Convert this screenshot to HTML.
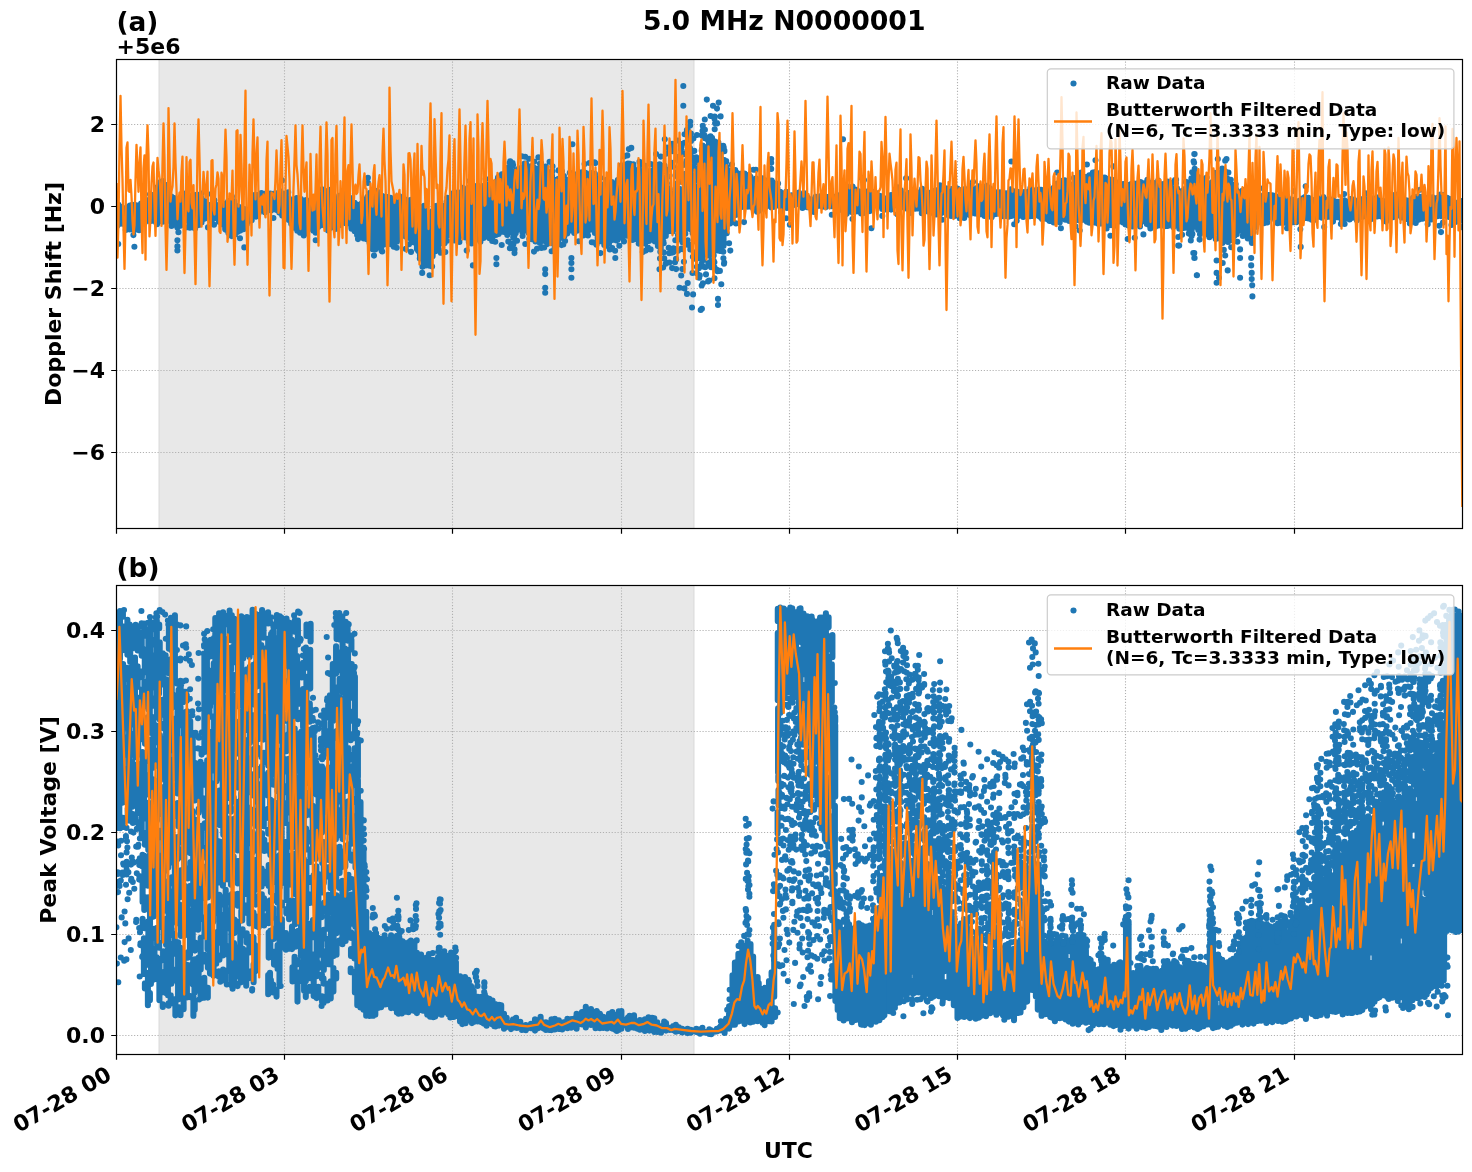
<!DOCTYPE html>
<html><head><meta charset="utf-8"><title>5.0 MHz N0000001</title>
<style>html,body{margin:0;padding:0;background:#fff;overflow:hidden}svg{display:block}text{font-family:"DejaVu Sans","Liberation Sans",sans-serif;font-weight:bold;fill:#000}</style>
</head><body>
<svg width="1472" height="1172" viewBox="0 0 1472 1172">
<rect width="1472" height="1172" fill="#fff"/>
<defs><clipPath id="ca"><rect x="116.5" y="59.5" width="1346.0" height="469.0"/></clipPath>
<clipPath id="cb"><rect x="116.5" y="585.5" width="1346.0" height="469.0"/></clipPath></defs>
<rect x="159.1" y="59.5" width="534.8" height="469.0" fill="#e8e8e8"/>
<path d="M159.1 59.5V528.5M693.9 59.5V528.5" stroke="#dcdcdc" stroke-width="1.2" fill="none"/>
<rect x="159.1" y="585.5" width="534.8" height="469.0" fill="#e8e8e8"/>
<path d="M159.1 585.5V1054.5M693.9 585.5V1054.5" stroke="#dcdcdc" stroke-width="1.2" fill="none"/>
<path d="M284.5 528.5V59.5M452.5 528.5V59.5M621.5 528.5V59.5M789.5 528.5V59.5M957.5 528.5V59.5M1125.5 528.5V59.5M1294.5 528.5V59.5M284.5 1054.5V585.5M452.5 1054.5V585.5M621.5 1054.5V585.5M789.5 1054.5V585.5M957.5 1054.5V585.5M1125.5 1054.5V585.5M1294.5 1054.5V585.5M116.5 124.5H1462.5M116.5 206.5H1462.5M116.5 288.5H1462.5M116.5 370.5H1462.5M116.5 452.5H1462.5M116.5 1035.5H1462.5M116.5 934.5H1462.5M116.5 832.5H1462.5M116.5 731.5H1462.5M116.5 630.5H1462.5" stroke="#b0b0b0" stroke-width="1.1" stroke-dasharray="1.15 1.78" fill="none"/>
<g clip-path="url(#ca)"><path d="M117.1 207.6V226M118.2 204.5h0M118.2 244h0M120.7 207.2V223.8M121.4 206.9h0M123.9 208.7V224.1M122.7 208.5h0M126.8 207.6V227.6M127.2 207.2h0M125.8 230h0M129.9 205.6V229.5M132.5 204.9V229M135.3 205.1V229.8M138.4 205.4V227.7M139.1 230.2h0M141.1 203.6V224.6M144.8 203.2V222.6M144.6 201.7h0M147.7 202.9V218.7M147.7 220.6h0M150 198.7V221.3M150 194.3h0M153.1 195V220.4M153.3 220.7h0M156.4 187.5V223M157 224.2h0M159.1 182.6V220.9M162.8 181V221.8M165.3 184.7V219.8M169 193.1V220.8M168.8 188.3h0M171.3 196.6V222.7M171.5 225.9h0M174.7 198.8V224.6M174.1 198.1h0M177.4 201.7V227.4M178.4 232.2h0M180.6 198.8V224M180.4 225.7h0M183.3 194.9V219.8M183 193.3h0M186.1 194.6V220.1M186.5 227.2h0M189.4 195.8V223.3M189.9 227.7h0M192.1 196.1V225.1M193.2 227.6h0M195.5 195.1V226.7M195.1 228.5h0M198.4 196.3V224.2M198.8 194.7h0M198.8 224.9h0M201.5 198.2V222.5M201.3 193.5h0M204.9 201.1V218.6M207.7 204.7V216.1M208 227.4h0M210.9 205V217.6M211.4 194h0M211.5 221.2h0M213 205.1V219.1M214.4 200.3h0M214 224.7h0M216.3 205.2V218.1M215.6 205.1h0M219.2 204.8V221.4M218.9 221.8h0M222.8 205.4V224.5M225.2 203.7V229.3M225.8 229.8h0M228.4 201V232.9M228.9 233.1h0M231.5 199.8V233.3M231.9 196.5h0M234.3 201.2V231.8M235 234.4h0M237.4 206.4V231.9M240.3 207.4V230.6M240 238.2h0M243.5 208.8V229.2M244.3 247.4h0M246.7 210.1V224.2M249.7 209.3V220.8M252.7 202.3V216.8M253 201.5h0M251.7 220.3h0M255.2 194.8V215.7M256.2 216.6h0M258.8 194.8V212.8M261.4 193V210.2M264.8 193.8V212.2M267 195.8V209.8M267.7 193.6h0M271 194.9V210.4M270.3 193.6h0M273.4 193.7V209.3M273.4 218h0M276.6 193.2V210M279.2 192.8V209.5M280.3 191.3h0M279.3 212.6h0M282.3 193.5V211.6M281.9 180.4h0M282.2 215.6h0M285.8 196V216.4M285.2 193.9h0M285.1 217.8h0M288.8 198.1V220M288.2 192.2h0M291.2 200.8V223.7M294 199.6V227.8M297.9 198.2V228.1M296.8 198h0M297.3 230.8h0M300.9 199V230.9M300 198.6h0M300.1 232.8h0M303.7 201.1V229.6M303.8 235.4h0M306.2 200V229.7M305.8 233.7h0M309.7 201.1V227.2M312.9 199.4V229.9M313 199.3h0M313.4 230.7h0M315.7 196.9V232.8M318.2 196.5V227M318.1 195.6h0M321.1 194.7V225.2M321.9 189.2h0M324.9 192.6V224.3M324.9 190.8h0M327.5 194.2V228.1M328.1 230.6h0M330.1 197.6V227.9M330.3 189.9h0M333.8 199.8V226.5M336.7 199.1V222.9M335.6 228.9h0M339.1 195.9V221.9M340.1 225h0M342.7 195.3V218.9M345.3 193.2V221.4M346.3 190.2h0M345.6 223.2h0M348.2 195.5V223.2M348.1 193.5h0M351.4 201.1V228.3M351.9 198.2h0M351.5 228.8h0M355 203.3V230.8M354.6 202.9h0M354.7 231.2h0M357.1 204.7V235M358 239.1h0M360.6 204.5V236.8M361.2 203.8h0M363.7 201.7V238.5M364 200.8h0M366.4 198.9V238.6M367.5 196.9h0M366.9 239.3h0M369.6 196.5V243.1M370.1 192.9h0M372.7 195.1V249.2M375.2 191.7V249.4M376.4 191.1h0M378.5 195.9V247.5M378.1 192.1h0M381.3 197.4V247.4M382.4 196.1h0M381.6 250.7h0M384 198.3V244.5M387.2 197.1V241.9M390.5 197.7V242.7M390.3 244.1h0M393 199V242.4M393.8 246.8h0M396.9 199.5V241.7M395.8 197.6h0M396.7 247.7h0M399.4 196.2V238.8M398.7 240h0M402.9 201.5V234.8M403 202.3h0M405.6 202.3V236.6M406.2 199.9h0M405.8 200.5h0M404.8 203.9h0M405.8 248.9h0M408.3 202.1V237.6M408.3 200.8h0M408.1 204h0M407.6 203.8h0M408.3 202.1h0M409 244.3h0M411.4 204.3V239.7M411.1 199.9h0M411.4 205.2h0M411 251.9h0M414.2 203.3V242.5M417 209.9V249.2M418.3 251h0M420 212.3V256M421.1 212.1h0M420.1 211.9h0M420.1 211.3h0M419.8 258.5h0M423.9 213.5V258.2M424.1 205.8h0M422.7 206.8h0M424.3 258.8h0M423.7 262.6h0M422.5 266.7h0M426.6 213V260.4M426.4 211h0M426.9 215.1h0M426.8 261.5h0M425.7 261.8h0M425.9 265.5h0M427.4 263.6h0M429.8 213.9V261.1M429.3 212.9h0M429.7 262.3h0M430.2 263.5h0M429.5 265.8h0M432.6 212.2V256.2M432.7 211h0M432.1 266.5h0M435.8 212.7V249.1M435.4 206.1h0M435.6 213.5h0M435.7 213h0M435.4 251.2h0M438.1 209.3V243.5M439.1 204.9h0M438.3 246.3h0M438.8 249.5h0M441.1 208.3V240.9M441.3 206h0M440.9 243.3h0M440.8 252.8h0M444.1 205.7V238.9M444.2 206.4h0M443.7 206.5h0M444.4 241h0M444.6 243.3h0M445.3 252h0M447.7 202.3V235.4M447.3 197.8h0M447.9 201.4h0M447.4 203.4h0M448 203.6h0M446.6 201.9h0M447.1 240.8h0M450.3 199.6V234.2M450.1 200.9h0M453 198.2V234.7M453.5 193h0M453.8 193.3h0M453.4 196.4h0M454.3 240.5h0M456.9 194.7V232.2M457.5 192.6h0M455.6 234.8h0M456.3 232.8h0M455.9 232.8h0M457.3 235.2h0M459.2 192.5V233.1M458.5 238.9h0M459.4 242h0M462.5 191.8V235.5M463 187.7h0M465.5 189.5V236.8M466.1 189.1h0M465.4 237.5h0M468.6 187.8V238M469.5 181h0M468.8 241.9h0M471.6 185.5V235.7M472.1 188h0M472.1 236h0M470.7 240.5h0M472.1 240h0M471.6 243.4h0M474.4 187.1V237.9M475.4 187.9h0M473.9 238.6h0M477.5 185.6V237.1M477.2 186h0M478.2 186.7h0M476.7 239.2h0M480.3 187.7V236.8M479.6 237.5h0M480.1 238.5h0M480.4 241.7h0M483.6 188.4V238M483.9 185.8h0M484.4 188.3h0M483.8 188.8h0M482.7 189.7h0M482.9 190.4h0M486 188.2V236.3M485.7 179h0M486.9 184.6h0M485.8 236.5h0M489.5 188.6V238.2M488.6 187.5h0M490.3 188.5h0M490 190h0M490.4 238.3h0M492.4 187.9V237.2M492.2 186.5h0M491.6 188.6h0M492.6 188.4h0M491.7 239h0M492.2 241h0M495 182.8V234.3M495.9 234.9h0M495.3 241.8h0M498 177.6V231.8M499.1 176.3h0M497.7 233.2h0M498.6 233.9h0M501.9 174.4V231.7M501.7 245h0M504.4 173.8V232.1M507.8 172.7V232.8M507.9 167.9h0M507.2 171.2h0M507.3 235h0M507.4 234.2h0M508.3 241.6h0M510.4 173.2V232.2M510.2 161.2h0M509.7 162.7h0M511.1 170.2h0M510.6 170.6h0M511 243.9h0M509.9 248.3h0M513.9 172.9V233M512.6 163h0M513.1 165h0M514.3 172.5h0M513.3 238h0M514.3 237.1h0M513.2 237.2h0M513.4 243.9h0M516.3 170.7V230.9M516.3 170h0M515.7 233.3h0M517 240.8h0M519.1 168.2V228.8M523 168.3V227.1M521.8 156.3h0M523.5 167.2h0M522.3 232h0M522.6 236h0M525.8 165.6V226.6M525.2 156.8h0M526.1 163.9h0M524.6 163.6h0M526.3 230.5h0M525.3 244h0M528.8 167.5V231.4M529.1 158.7h0M528.4 232.8h0M529.3 239.1h0M531.1 168.8V233.2M530.8 166.3h0M532.1 235.5h0M531.9 239.2h0M534.1 168V236.3M534.2 161.8h0M534.1 167.8h0M535.5 241.5h0M534 251.6h0M537.6 168.8V237M538.4 157.4h0M537 239.7h0M537 248.8h0M540.2 168.1V238.1M541.1 163.3h0M540 163.8h0M540.2 168.5h0M540.6 169.9h0M540.5 238.2h0M539.9 243h0M541.4 247.9h0M543.1 169.2V239.8M542.9 170.6h0M544.5 240.9h0M544.2 247.4h0M546.7 170.9V240.4M545.8 166.6h0M547.1 171.3h0M545.5 241.4h0M547.2 244.1h0M549.6 174.8V243M549.6 161.7h0M552 175.6V243.3M552.5 166.4h0M552.4 171.4h0M551.6 175.2h0M551.6 251.3h0M555.2 180.4V243.6M554.8 179.9h0M555.7 245.1h0M554.7 247.7h0M555.7 247.4h0M558.3 180.4V240.5M558.6 170.4h0M558.5 178.7h0M562 183.6V237.6M561.9 171.2h0M561.8 178.5h0M561.6 245.1h0M564.4 184.6V236M563.9 176h0M564 182.2h0M564.8 182.1h0M563.6 182.4h0M565.1 241h0M567.2 181.4V233.5M568.4 180h0M568.4 179.7h0M567.1 182.5h0M567.1 183.3h0M570 182.4V230.5M569.8 172.8h0M573.7 182V231.5M574.3 174.3h0M574.3 232.9h0M576.3 179.8V230M576.6 177.1h0M577 230.7h0M575.6 231.3h0M579.2 177.1V227.5M578.6 176.5h0M578.5 178.1h0M578.7 241.2h0M582.4 174.7V226.1M582.8 173.9h0M581.6 172.4h0M583.5 176.1h0M583.3 227.2h0M583.3 227.6h0M582.5 230.8h0M583.3 235.5h0M585.1 172.9V224.1M584.6 164h0M585.4 172.7h0M585.2 229.8h0M588.8 174.7V226.4M589.4 163h0M588.5 175.5h0M589.3 228.8h0M587.7 231.4h0M588 235.5h0M591.1 172.9V228.6M591 173.2h0M591.9 173.8h0M591.4 173.4h0M591.9 229.5h0M591.8 242.3h0M594.9 173.8V233M594.5 162.3h0M595.3 163.1h0M593.7 242.5h0M597.7 180.8V238.2M598.2 240.8h0M596.6 243.8h0M596.5 244.7h0M600.2 186.7V241.3M600.5 178.1h0M600.7 184.4h0M601 186.1h0M604 190.9V241.4M604.4 184.7h0M603.7 188.8h0M603.3 191.5h0M603.5 190.9h0M604.3 244.9h0M606.8 190.1V241M606.5 179.9h0M605.6 182.8h0M606.7 189.7h0M607.4 192.5h0M606.3 245.7h0M609.3 188.9V239.7M610.4 185.1h0M609.5 188.4h0M609.1 243.3h0M609.8 249.4h0M612.1 186.2V236.6M611.8 182.1h0M613.3 184.6h0M611.8 187.5h0M612.6 238.5h0M612.2 240h0M612.2 248h0M615.2 183.6V237.5M616.2 239h0M616 239.1h0M616.4 240.5h0M615.1 250.7h0M618.5 181.1V234.8M619.2 182h0M617.8 180.1h0M617.6 239.8h0M619.3 245.8h0M621.2 175V233.3M621.6 165.4h0M622 171.2h0M622.2 174.5h0M622.1 235.9h0M621 234.6h0M621.7 237.4h0M622.1 237.3h0M624.9 169.2V233M624.2 156.4h0M625.4 164.9h0M624.5 167.2h0M625.2 233.9h0M624 241.4h0M627.5 164.6V229.3M627.3 155.4h0M628 163.5h0M627.2 231.3h0M627 235.8h0M630 163.7V229.9M633.3 164.3V232.7M633.2 234.7h0M632.5 239.9h0M636.5 170.4V234.2M635.8 238.9h0M639.5 174.3V237.5M639.5 161.9h0M639.2 169.9h0M639 240.2h0M638.7 243.6h0M642.4 174.4V242.9M641.8 164.7h0M642.8 252.1h0M645.1 175.1V243.6M645.1 165.7h0M646.1 170h0M645.8 250.6h0M649 172.7V241M648.6 173h0M647.9 247.5h0M651.2 173.1V238.7M650.8 164.1h0M651.4 171.1h0M651.5 175.9h0M651.3 174.6h0M650.5 173.5h0M650.6 249.4h0M654.7 171.8V237.6M655.3 164.8h0M654.8 166.4h0M654.2 166.1h0M655.3 172.3h0M654.8 240h0M654.9 241.5h0M654.5 241.1h0M657.3 170.5V241.5M658 168.9h0M657.7 170.7h0M657.9 246.1h0M660.7 167.3V249M660.8 156.6h0M659.6 164.4h0M660.3 251.8h0M660 258.5h0M659.5 269.2h0M663.5 195.4V224.1M664.4 165.5h0M664.4 166.3h0M663.5 177.9h0M663.8 184.1h0M663.8 186.3h0M663.7 229.1h0M663.1 227.7h0M663.3 241.3h0M663.7 243.3h0M663.6 252.4h0M664.2 258.4h0M663.1 267.5h0M666.5 195.9V225.8M667.1 147.5h0M666.1 153.7h0M665.6 169.1h0M666.1 172.1h0M667.4 177h0M666.3 181.2h0M666.9 183.3h0M666.7 186.9h0M666.9 189.9h0M666.1 192.9h0M665.8 193.5h0M667.5 196.3h0M667.2 196.2h0M665.9 228.2h0M665.9 230.2h0M666.5 232.5h0M665.8 235.9h0M665.7 263.8h0M667.1 262.8h0M669.5 197.3V227.8M669.1 151h0M668.8 176.5h0M669.6 188.7h0M669.8 189.7h0M669.1 190.3h0M668.6 195.1h0M668.9 196.2h0M669.8 197.2h0M669.3 231h0M668.7 247.7h0M669.2 253.2h0M669.4 262.5h0M672.5 194.6V226.7M672.3 143.8h0M673.3 146h0M672.5 144.5h0M672.4 151.3h0M672.1 162.7h0M673.1 166.8h0M672.7 229.7h0M672.8 231.5h0M673.5 248.2h0M673.2 252.3h0M672 252.7h0M672.1 268.1h0M675.5 192.8V227.4M676.2 172.3h0M675.4 175.5h0M676.2 183.9h0M676.2 188.6h0M676.2 193.9h0M675 194h0M674.7 194.2h0M675.3 240.3h0M674.7 248.8h0M675.2 250.1h0M676.1 259.5h0M676 258.7h0M675 262.3h0M676.1 269.1h0M678.5 190.1V227M677.9 140.5h0M677.9 157.1h0M678 160.4h0M677.8 177h0M678.8 180.9h0M678.1 182.7h0M679 188.8h0M678.3 227.8h0M678.4 229.8h0M679.5 232.1h0M678 235.3h0M678.8 234.3h0M679.2 233h0M678.3 239.3h0M678.1 250.7h0M681.5 189.6V227.3M680.9 143.8h0M681.6 146.6h0M680.9 146.1h0M681 149.3h0M682.5 153.6h0M681.2 163.8h0M680.9 180.5h0M681.7 228.2h0M680.6 233.1h0M680.9 235.3h0M682.5 237.4h0M682.5 242.2h0M681.5 248.6h0M682.2 249.1h0M682.3 269.1h0M681.2 275.5h0M684.5 190V228.9M684.6 134.3h0M684.6 142.8h0M684.3 154.3h0M683.6 164.9h0M684.1 174.3h0M685.4 173.9h0M685.3 176.9h0M685.4 181.3h0M684 180.4h0M685.3 185.9h0M684.9 189.9h0M684.2 191h0M685.4 190h0M683.8 229.9h0M684 234.4h0M685.3 233.7h0M683.9 261.7h0M684.5 288.4h0M687.5 188.2V228.4M686.9 130h0M687.8 130.5h0M687.5 135.2h0M687.6 135.7h0M688.2 136.9h0M687.3 150.8h0M687 162.7h0M686.5 160.9h0M688.4 167.4h0M687.7 175.4h0M687.3 175.7h0M687.6 187.1h0M687.7 240.3h0M688.2 245h0M687.7 283.1h0M690.5 188.7V229.3M690.2 121.8h0M690.1 125.6h0M690.9 133.5h0M691.3 138.4h0M691 140.9h0M690 148.4h0M690.7 153.3h0M691.5 159.2h0M690.1 168.1h0M691.1 170.3h0M690.9 169.6h0M690.1 172.1h0M690.7 172.7h0M690.9 174.9h0M691.5 188h0M689.8 244.7h0M690.3 249.4h0M693.5 190.9V231.6M693.4 138.5h0M694.3 150.9h0M693 157.5h0M693.5 160.3h0M692.7 160.5h0M693.4 166.2h0M693.2 175.5h0M694.4 175.9h0M693.5 179.3h0M693.3 182.8h0M693.3 184.6h0M693.6 231.8h0M692.6 232.9h0M693.6 234.8h0M693.8 252.4h0M693.8 252.9h0M692.9 256.7h0M692.5 273h0M693.1 294.4h0M696.5 192.2V232.5M696.9 135h0M696.3 157.3h0M696.7 161.9h0M697 169.3h0M697.1 170.7h0M697.1 173.1h0M695.6 177.7h0M696.4 180.1h0M696.8 179.5h0M696.6 179.7h0M697.1 186.9h0M695.5 191h0M696.5 233.3h0M695.6 236.9h0M695.7 241.4h0M697.1 253.7h0M696 259.1h0M696.3 257.7h0M696.9 266.8h0M696.7 273.2h0M699.5 158.9V258.3M700.1 258.4h0M698.6 266.8h0M698.8 268.2h0M699.8 275.4h0M699.2 277.7h0M702.5 153.7V256.5M702.8 125.9h0M703.2 129.4h0M702.5 131.1h0M702.6 135.9h0M702 135.4h0M702.6 145.5h0M702.9 146.7h0M703 147h0M703.3 149h0M701.7 150.8h0M701.9 149.4h0M703.2 153.2h0M702.7 258.7h0M703 260.2h0M701.6 263.7h0M703.1 266.6h0M702.9 283.2h0M701.7 285.5h0M705.5 148.5V253.7M704.8 119.5h0M704.9 129.7h0M704.6 136.2h0M704.6 135.6h0M704.9 138.3h0M706.2 147h0M705.8 254.1h0M705.2 267.3h0M706 274.4h0M708.5 145.5V252.6M707.6 139.6h0M709.4 142.6h0M708.8 141.9h0M709.3 145.4h0M708.2 255.5h0M708.7 255.4h0M708.3 263.1h0M708.6 265.4h0M708.1 281.4h0M709.2 280.5h0M711.5 144.2V249.4M710.6 116h0M710.5 136.3h0M712 137.9h0M712.5 140.7h0M711.8 144.6h0M711.3 260.6h0M712.4 262.8h0M711.1 267.3h0M714.5 141.2V246.8M714.7 116.5h0M714.5 118.8h0M715.1 123.2h0M714.7 129.2h0M713.8 251h0M713.7 255.4h0M713.6 260.6h0M714.4 262.3h0M714.6 267.6h0M714.5 278.2h0M717.5 143.1V250.4M717 108.6h0M717.1 123.5h0M717 123h0M716.7 142.3h0M718.4 143.3h0M718.4 142.6h0M716.8 269.9h0M717.5 271.2h0M720.5 149.1V250.7M720.6 116.4h0M721 149h0M721.1 250.9h0M720 251h0M719.9 270.9h0M721.3 284.3h0M723.5 162.7V246M723.2 145.7h0M722.9 147.6h0M723.7 147.4h0M724.4 151.3h0M724.4 150.5h0M724.2 160.1h0M722.7 162.9h0M723.2 163.9h0M723.2 163.4h0M723.3 251.7h0M723.4 258.3h0M724 263.7h0M724.2 262.5h0M726.5 168.5V228.6M726.2 161.1h0M726.2 161.8h0M726.4 166.7h0M726.7 233.3h0M729.5 179.2V218.5M729.1 170.4h0M728.9 176h0M730.4 175.7h0M730.1 223.4h0M732.4 170.3V222.1M731.9 164.5h0M735.8 171.7V214.9M735.2 170h0M736 223.4h0M738.9 173.8V206.8M741.5 174.1V205.1M741.5 173.5h0M741 207.2h0M744.6 173.6V206.4M747.7 176.7V206.8M750.5 176.7V206.8M753.7 180.1V209.4M753.4 169.7h0M756.1 178.6V207.6M755.9 169.8h0M757.1 211.7h0M759.5 180.4V210.2M759.8 210.5h0M762.3 178.3V208.3M765.7 180.6V206.8M765.6 207h0M768.9 180.4V205.7M771.7 180.5V206.3M771.5 207.4h0M774.8 183.5V206.7M777.4 188.4V203.8M778.1 183.6h0M780.2 191.7V206.2M781 211.9h0M783.6 195.4V207.8M783.1 195h0M786.9 195.3V208M786.2 191.7h0M786.1 218.3h0M789.9 197.2V207M789.8 197.2h0M789.9 224.8h0M792.5 196.5V205.6M791.7 195.4h0M795.6 194.2V203.5M795.8 193.8h0M795.3 204h0M798.9 192.5V204.5M801.4 195.9V204.5M802.5 207.9h0M804.4 196.6V206.5M804.4 193.3h0M805.3 206.7h0M807.1 197.1V207.2M810.6 199.3V208.1M813.4 200.2V207M813.9 211.9h0M817 197.9V205.9M815.6 196.8h0M817.5 206h0M820 196.4V205.8M822.1 196.2V206.5M822.8 206.7h0M826 198.2V207.1M825.5 196.7h0M828.7 196.7V205.1M831.3 197.2V206.2M831.8 214.7h0M835 197.3V206.1M834.7 196.9h0M837.7 197.6V205.4M838 195.4h0M837 206.8h0M840.6 195.5V209.8M843.5 191.7V210.8M846.8 186.4V213.5M846.2 214h0M849.9 188.3V210.2M852.6 186.7V212.4M852.5 186.5h0M852.5 219h0M855.4 189.6V210.9M854.8 211.7h0M858.7 191.4V211.5M861.2 195V213.4M861 177.6h0M864 196.7V212.9M864.3 196.6h0M867 194.3V209.2M867.9 191.3h0M870.1 193.6V207.7M870.1 192.9h0M869.8 211.1h0M873.6 192.1V204.1M876.4 193.4V202.8M876.3 203.3h0M879.8 195.9V204.9M879.8 205.9h0M882.2 197.9V208.9M882.6 197.4h0M882.3 215.9h0M885.7 200.8V209.5M885.2 198.5h0M888.3 198.4V208.5M891.1 195.1V209.6M894.9 190.2V204.6M895.5 189.7h0M893.6 205.5h0M897.9 189.2V205.9M898 187.2h0M897.3 214.2h0M900.8 190.4V206.6M900 207h0M903.8 194.1V207.6M906.3 195.9V208.5M909.7 197.8V208.9M909.8 192.7h0M910 213h0M912.4 197.9V206.3M912.2 196.4h0M915.1 195V208.8M918 194.5V208.4M918.7 192.6h0M921.5 192.5V209M922.1 188.7h0M921.8 213.3h0M924.1 193.6V209.6M924 191.7h0M925.2 210.3h0M927.8 193V211.4M930.8 192.5V212.7M933.1 191.1V212.4M934.4 213.2h0M936.6 190.2V213M936.3 214.4h0M940 187.9V214.2M939.9 185.3h0M942.9 187.2V212.5M945.7 188.3V212.5M948.7 189.1V215.4M948.2 188.7h0M951.1 189.3V215.9M951.7 189.1h0M954.6 189.9V216M954.7 189.4h0M957.7 188.7V214.9M956.6 188.2h0M960.1 190.1V214M959.8 218.3h0M963.6 189.4V213.4M964.2 217.9h0M966.9 189.3V213.1M966.5 213.4h0M969.6 187.4V213.5M970 186.2h0M969.5 215h0M972.8 189.2V212.5M975.6 189V213.4M975 188.5h0M975 213.4h0M978.6 190.1V214.2M978.6 186.3h0M981.7 190.5V213.7M981.1 214.2h0M984.6 189.1V214.9M984.6 216h0M987 190.5V212.1M986.7 185.8h0M990.5 190.7V214.7M989.7 188.2h0M993.5 191.2V211.6M993.2 191h0M993.7 214.6h0M996.1 192.4V213.4M996.1 214h0M999.2 192.3V212.4M999.9 212.6h0M1002.5 192.1V214.3M1001.9 216.2h0M1006 193.3V214.4M1004.9 216h0M1008.5 194.5V215.1M1008.9 192.7h0M1008.6 216.8h0M1011.4 193.7V215.9M1010.8 189.2h0M1014.1 195V215.5M1013.9 191.2h0M1014.2 224.2h0M1017.7 191.9V216.5M1016.7 220.7h0M1020.5 193.5V215.4M1023.4 193.1V215M1024.1 192h0M1023.2 217h0M1026.6 192.3V216.1M1029.4 191V216.1M1030.4 188h0M1030.1 216.3h0M1032.3 190.2V216M1035.4 190.4V214.4M1038.7 189.6V216.1M1041.1 189.7V217.8M1042.1 219.1h0M1044.7 190V218.5M1047.8 191.1V219.6M1050.1 189.7V220.6M1049.6 220.9h0M1053.7 187.8V219.9M1053.7 222.4h0M1056.3 184.3V220M1055.8 184.1h0M1059.4 181.8V219.7M1059.7 222.4h0M1062.2 180.9V218.4M1065.6 182.1V219.5M1064.7 180.3h0M1065.3 219.7h0M1068 184V219.1M1069.2 221h0M1071.9 184.9V221.4M1074.5 182.9V220.8M1073.9 178.1h0M1075.4 226.2h0M1078 181.8V220M1080.2 177.8V220.4M1081.2 172.5h0M1079.7 230.5h0M1083.6 176.8V219.7M1086.9 176.7V221.7M1089.3 175.4V222.7M1092.9 172.5V221.8M1095.4 172.1V222.7M1098.6 173.3V224.1M1101.7 177.2V223M1101.7 223.4h0M1104.7 177.5V224.8M1107.8 179V225.4M1108.3 178.7h0M1106.6 228.4h0M1110.4 181.4V223M1110.1 179.7h0M1111 225.1h0M1113.2 180V222.2M1114.5 225.7h0M1117 182.6V222.5M1115.6 223.5h0M1119 184.2V221.3M1118.8 221.5h0M1122.9 186.4V222.4M1123.3 184h0M1125.5 185.4V224.4M1128.3 185.4V225.4M1128.4 185h0M1127.7 239h0M1131.6 183.9V223M1132.4 226.5h0M1134.2 183.6V223.1M1134.2 223.9h0M1137.7 183.4V222M1140.5 182.1V223M1140 226.4h0M1143.7 183.2V220.9M1143.4 234.4h0M1146.8 183.7V223.9M1147.4 179.8h0M1149 184.3V224.9M1150.4 228.5h0M1152.6 182.5V223.8M1155.3 186V226.7M1158.6 183.4V225.5M1158.2 180.6h0M1161.7 184.4V225.3M1164.7 183.5V226.2M1167.6 182.2V225.9M1167.6 181.6h0M1170.5 183.4V224.8M1171.1 183.1h0M1173.4 188.7V222M1172.6 188.5h0M1173.3 226.9h0M1177 188.4V224.6M1176.1 179.9h0M1176 183.2h0M1175.7 225.5h0M1175.7 225.3h0M1179.3 191.5V228.7M1182.8 190.5V228.2M1182.2 228.6h0M1182.1 234.8h0M1185.4 188.8V227M1185.8 181.8h0M1186.1 190h0M1186.4 189.5h0M1185.5 227.6h0M1188.5 184.9V226.7M1188 184.5h0M1188.1 184.4h0M1188.1 226.8h0M1189.2 229.2h0M1188.8 233.6h0M1191.4 178.3V225.8M1192.1 172.2h0M1192.3 180h0M1192.1 181.1h0M1191.6 230.7h0M1192.4 234h0M1191.6 236.1h0M1190.8 240.5h0M1194.5 171.9V226.8M1193.6 161.2h0M1194.7 168.9h0M1197.9 177.1V226.7M1196.7 175.7h0M1197 227h0M1198.3 229.9h0M1200.3 181.7V231.3M1200.9 178.1h0M1200.1 182.9h0M1200 234.3h0M1199.6 239.6h0M1203.7 185.5V230.9M1203.7 183.5h0M1206 185.5V231.5M1206.7 177.5h0M1205.9 181.6h0M1207.4 232.8h0M1205.6 232.4h0M1209.1 184.4V229.8M1209 229.8h0M1210.4 231.5h0M1210.4 232.3h0M1208.8 235.5h0M1209.4 237.2h0M1212 185.9V230.8M1211.6 182.8h0M1211.9 182.2h0M1212 233.3h0M1213.4 231.3h0M1212.1 235.2h0M1215.7 178.6V232.3M1214.5 172.8h0M1215.3 176.9h0M1215.7 239h0M1218.7 173V233.5M1219.5 173.7h0M1218.8 173.2h0M1217.9 173.7h0M1219 238.2h0M1221.4 174.2V232.7M1222.2 168.5h0M1221.8 173.7h0M1221.1 173.3h0M1221.1 235.7h0M1221.9 237.1h0M1222.4 243h0M1224.3 174.3V233.8M1225.2 160.7h0M1225.1 171.3h0M1224.5 234.3h0M1224.7 238.1h0M1223.8 249.9h0M1227.5 178.8V235.6M1228.4 172.6h0M1228 241.9h0M1230.7 189.1V236.5M1230.8 179.8h0M1230.9 184.4h0M1231.1 187.9h0M1230 186.2h0M1230.9 240.3h0M1231.2 247.3h0M1233.6 194.2V236M1234 194.5h0M1234.4 236.1h0M1232.6 237.7h0M1236.7 194.6V234.3M1235.6 184.3h0M1235.5 187.5h0M1236.5 190.4h0M1237.4 241.8h0M1239.5 194.3V230.4M1239.7 193.4h0M1242.8 194.5V230M1242.3 190.8h0M1242 192.1h0M1242.4 231.2h0M1242.8 235.9h0M1245.2 194.2V233.3M1244.9 189.7h0M1246 191.3h0M1245.7 194.8h0M1248.7 195.7V235.7M1248.1 191.1h0M1247.6 236h0M1249.2 236.1h0M1247.8 238.5h0M1248.3 236h0M1251.1 198.5V237.5M1252 243h0M1251.8 242.6h0M1254.2 200.7V227.9M1253.6 231.9h0M1257.2 196.2V222.6M1257.6 194h0M1260.4 196V221.4M1263.7 195.2V220.6M1263.1 188.3h0M1263.9 223.3h0M1266.4 194.5V217.7M1267.3 222.5h0M1269.3 195.1V217.6M1272.8 196.3V217.6M1272.3 195.4h0M1275.2 196.5V219.9M1275.2 195.8h0M1278.9 197.4V219.8M1277.6 223.2h0M1281.2 197.8V222.8M1284.4 197.8V222.8M1287.4 199.2V223.6M1287.9 197.7h0M1290.4 200.6V222.8M1289.7 223.2h0M1293.3 199.7V222.3M1293.9 191h0M1296.3 201.3V222.2M1299.8 200.5V219.1M1300.3 229.3h0M1302.1 198.6V217.8M1305 197.1V217.9M1308.4 197.9V218.5M1311.7 202.5V219.7M1311.6 201.9h0M1314 200V220.1M1317.7 200.5V216.4M1316.6 200.3h0M1316.7 217.2h0M1320.5 198.4V216.4M1321.5 217.6h0M1323.3 197V216.4M1324.2 227.1h0M1326.9 200V216.9M1326.9 199.9h0M1329.3 199V216.7M1332.9 199.5V219M1333 221.6h0M1335.9 201.7V217.3M1338.2 201.9V217.2M1341.6 201.8V219.4M1340.9 224.1h0M1344.4 200.4V219.3M1344.1 194.1h0M1344.6 224h0M1347.7 201.8V217.4M1350.5 199V218.6M1349.6 219.5h0M1353.9 199.5V217.6M1356.7 201.4V218.4M1356.9 220.2h0M1359.1 200.5V218.3M1362.7 199.1V216.8M1365.1 198.9V215.6M1365.7 193.2h0M1368.7 199.1V216.6M1368.8 198.9h0M1368.7 218.9h0M1371.8 198.2V216.2M1370.8 219.2h0M1374.2 199.5V214.4M1374.7 198.7h0M1377.1 197.6V216.5M1377 197.5h0M1380.4 200.3V216.3M1383.7 201.5V219.1M1386.4 200.7V219M1386 221.6h0M1389.1 201.2V216.6M1390 217.3h0M1392.9 197.5V217.3M1395.4 197.7V214.6M1395.5 194.6h0M1398.1 197.4V215.3M1401.5 199.7V217.4M1405 200V218M1407.4 200.6V219.3M1410.5 201V217.4M1409.9 223.5h0M1413.1 197.7V218.3M1412.9 219.6h0M1416.6 196.8V216.1M1415.7 223h0M1419.1 196.6V214.8M1420.2 189.8h0M1419 219.6h0M1422.1 196.9V215M1422.6 218.7h0M1425.7 198.1V217.8M1428.1 200.2V218.1M1427.7 224.3h0M1431.4 198.9V219.5M1432.5 197.4h0M1434.2 198.7V217.2M1437.4 197.7V216.3M1440.8 195.6V216.1M1440.4 194.6h0M1441 232.1h0M1443.9 195V214.1M1443 222.6h0M1446.5 198.4V216M1447.1 197.9h0M1447.5 216.5h0M1449.9 199V216.1M1449 217h0M1452.4 200.8V220.4M1451.5 225h0M1455.3 202.8V221.5M1454.7 202.3h0M1455.5 221.9h0M1458.2 205.2V219.4M1459 204.1h0M1459.4 219.6h0M1461.8 204.4V220.8M1461.6 201.1h0M1461.4 227.1h0M134.4 246.8h0M177.4 240.2h0M177.4 246.4h0M177.4 250.5h0M367.9 177.8h0M367.9 182.9h0M133.4 235.1h0M231.7 236.1h0M315.7 240.2h0M374 255.6h0M382.2 251.5h0M422.2 272.9h0M429.6 275.3h0M466.7 250.6h0M472.9 265.4h0M496.4 258h0M496.4 264.2h0M514.5 249.4h0M514.5 253.1h0M545.2 269.2h0M545.2 274.1h0M545.2 287.7h0M545.2 292.7h0M571.4 258h0M571.4 263h0M571.4 269.2h0M571.4 277.8h0M572.4 144.2h0M615.3 258h0M628.9 149.1h0M631.3 147.9h0M656.1 154.1h0M664.8 139.2h0M683.3 86h0M683.3 105.8h0M692 307.5h0M700.7 310h0M600.4 253.1h0M563.3 244.4h0M683.3 86h0M683.3 105.8h0M706.8 99.6h0M713 105.8h0M718.7 102.6h0M692 307.5h0M701.9 308.8h0M718 298.9h0M718 305h0M679.6 287.7h0M687 293.9h0M730.3 250.6h0M729.1 243.2h0M771.2 159h0M771.2 162.7h0M771.2 168.9h0M748.9 175.1h0M744 222.1h0M843 139.2h0M864 180h0M871.4 228.3h0M906.1 178.3h0M656.1 154.1h0M664.8 139.2h0M906.2 178.3h0M973 181.8h0M1011.4 161.5h0M1057.2 172.6h0M1086.9 164.5h0M1095.5 160.2h0M1113.4 166.4h0M1194.6 154.1h0M1194.1 162.7h0M1134.7 237.7h0M1179.2 245.6h0M1193.3 253.1h0M1194.6 258h0M1197 275.3h0M1060.9 228.3h0M991.6 217.2h0M942.1 219.7h0M1110.4 235.7h0M1196.8 275.3h0M1216.6 282.8h0M1219 277.8h0M1227.7 270.4h0M1240.1 277.8h0M1251.2 258h0M1251.2 265.4h0M1251.7 272.9h0M1251.7 279.1h0M1252.2 285.2h0M1252.4 296.4h0M1194.3 253.1h0M1194.3 258h0M1178.2 237h0M1178.2 245.6h0M1240.1 249.4h0M1240.1 258h0M1305.7 186.2h0M1300.7 246.9h0M1287.1 228.3h0M1439.3 225.8h0M1194.3 154.1h0M1217.8 159h0M1226.5 159h0M1175 180h0M1222.7 263h0M1225.2 255.5h0M1216.6 260.5h0M1216.6 272.9h0" fill="none" stroke="#1f77b4" stroke-width="6.1" stroke-linecap="round"/>
<path d="M116.5 183.1L117.5 257.7L118.5 221.3L119.5 148.7L120.5 95.8L121.5 147.1L122.5 179.9L123.5 229.1L124.5 268.9L125.5 220.4L126.5 147.8L127.5 142.5L128.5 190.9L129.5 191.8L130.5 179.9L131.5 196.2L132.5 220.5L133.5 234.4L134.5 225.4L135.5 180.3L136.5 144.9L137.5 167.9L138.5 191.8L139.5 163.6L140.5 147.4L141.5 219L142.5 253.1L143.5 168.4L144.5 155.3L145.5 259.7L146.5 155.6L147.5 125.5L148.5 155.1L149.5 236.4L150.5 218.7L151.5 183.8L152.5 166.4L153.5 162.5L154.5 206.3L155.5 235.9L156.5 191L157.5 157.8L158.5 170.2L159.5 178L160.5 193.7L161.5 225.9L162.5 164.8L163.5 123.5L164.5 158.5L165.5 227.4L166.5 269.9L167.5 228.7L168.5 108.1L169.5 157L170.5 201.7L171.5 191.1L172.5 186.5L173.5 167.1L174.5 123.5L175.5 163.1L176.5 189.2L177.5 219.3L178.5 201.2L179.5 192.7L180.5 201.6L181.5 171.5L182.5 156.7L183.5 227.5L184.5 273L185.5 230.1L186.5 157.1L187.5 206.9L188.5 211.3L189.5 161.9L190.5 159.7L191.5 202.7L192.5 208.4L193.5 185.1L194.5 236.2L195.5 284.2L196.5 225.7L197.5 150.9L198.5 119.4L199.5 158.4L200.5 207.9L201.5 226.7L202.5 196.8L203.5 171.8L204.5 184.8L205.5 197.7L206.5 188.6L207.5 171.7L208.5 238.3L209.5 286.3L210.5 241.6L211.5 160.7L212.5 160.1L213.5 210.2L214.5 214.5L215.5 188.6L216.5 184.2L217.5 172.4L218.5 178.6L219.5 231.3L220.5 232.9L221.5 172.7L222.5 177.9L223.5 206.9L224.5 162.2L225.5 129.6L226.5 157.5L227.5 241.8L228.5 231.3L229.5 193.5L230.5 195.4L231.5 199.4L232.5 170.6L233.5 228.2L234.5 264.8L235.5 222.2L236.5 130.9L237.5 130.3L238.5 206.7L239.5 190.5L240.5 134.8L241.5 165.4L242.5 219.7L243.5 219.2L244.5 144.1L245.5 90.7L246.5 219.8L247.5 264.8L248.5 220.6L249.5 164.6L250.5 187.3L251.5 235.6L252.5 153.7L253.5 119.4L254.5 162L255.5 199.4L256.5 154.6L257.5 137.4L258.5 196.2L259.5 227.7L260.5 199.2L261.5 196.5L262.5 204.7L263.5 194.4L264.5 211.9L265.5 217.4L266.5 160.4L267.5 141.6L268.5 234.8L269.5 295.5L270.5 241.6L271.5 192.4L272.5 194.3L273.5 194.2L274.5 199L275.5 178.7L276.5 150.5L277.5 177.1L278.5 212.9L279.5 205.1L280.5 166.2L281.5 140.1L282.5 189.1L283.5 267.7L284.5 268.3L285.5 188.6L286.5 136L287.5 146.7L288.5 156.6L289.5 179.1L290.5 231.4L291.5 268.9L292.5 229.8L293.5 188.6L294.5 159.9L295.5 125.5L296.5 165.2L297.5 174.4L298.5 191.6L299.5 223L300.5 229L301.5 164.2L302.5 125.5L303.5 168.5L304.5 191.8L305.5 173.7L306.5 162.3L307.5 220.8L308.5 270.9L309.5 224.1L310.5 154L311.5 197L312.5 210.6L313.5 194.7L314.5 209.7L315.5 190.2L316.5 154.5L317.5 211.3L318.5 245.7L319.5 160.9L320.5 126.6L321.5 180.9L322.5 207.2L323.5 220.7L324.5 230.8L325.5 163.2L326.5 122.5L327.5 154.7L328.5 244L329.5 301.7L330.5 240.5L331.5 140L332.5 138L333.5 227.4L334.5 237.3L335.5 154.1L336.5 125.9L337.5 184.1L338.5 245.1L339.5 228.4L340.5 181.2L341.5 206.1L342.5 238L343.5 156.1L344.5 117.5L345.5 200.3L346.5 243L347.5 171L348.5 165.1L349.5 219.3L350.5 163.8L351.5 124.5L352.5 167.2L353.5 208.2L354.5 189.7L355.5 184.6L356.5 194L357.5 192.4L358.5 175L359.5 164.3L360.5 189.4L361.5 223L362.5 215L363.5 181.4L364.5 173.4L365.5 187.9L366.5 189.2L367.5 228.1L368.5 274L369.5 229.8L370.5 183.5L371.5 197.7L372.5 206.6L373.5 173.5L374.5 165.1L375.5 204.1L376.5 214.8L377.5 192.2L378.5 182.5L379.5 175.1L380.5 190.2L381.5 216.6L382.5 155.1L383.5 128.6L384.5 161.2L385.5 180.9L386.5 226.5L387.5 285.3L388.5 239.7L389.5 87.6L390.5 150.6L391.5 181.2L392.5 186.2L393.5 191.4L394.5 202.9L395.5 196.8L396.5 193.7L397.5 198.8L398.5 196.1L399.5 189.8L400.5 219.9L401.5 269.9L402.5 223L403.5 164.3L404.5 174.9L405.5 235.3L406.5 252L407.5 194.9L408.5 153.3L409.5 153.2L410.5 159.8L411.5 196.9L412.5 226.6L413.5 173.2L414.5 153.3L415.5 233L416.5 227.1L417.5 144L418.5 194.5L419.5 264.6L420.5 203.2L421.5 145.9L422.5 174.5L423.5 170.8L424.5 177.7L425.5 207.7L426.5 189L427.5 190.7L428.5 229L429.5 146.8L430.5 103.3L431.5 158.3L432.5 276.4L433.5 206.2L434.5 119.2L435.5 152.7L436.5 188.1L437.5 184.5L438.5 223.6L439.5 227.5L440.5 157.5L441.5 113.2L442.5 242.3L443.5 303.8L444.5 238.6L445.5 193.6L446.5 187.7L447.5 169L448.5 159.6L449.5 135.5L450.5 242.9L451.5 301.3L452.5 235.1L453.5 161.4L454.5 139.1L455.5 198.9L456.5 255L457.5 232.5L458.5 156.9L459.5 109.5L460.5 160.5L461.5 228.2L462.5 239.5L463.5 195L464.5 158.9L465.5 125.6L466.5 167.3L467.5 257.5L468.5 249L469.5 138.9L470.5 122.1L471.5 203.9L472.5 194.3L473.5 138.5L474.5 263.1L475.5 334.8L476.5 258.5L477.5 114.5L478.5 149L479.5 273.9L480.5 261.2L481.5 154.9L482.5 123.1L483.5 160.7L484.5 205.8L485.5 204.5L486.5 143.1L487.5 100.8L488.5 144.5L489.5 196.4L490.5 159L491.5 163.4L492.5 199.5L493.5 188.2L494.5 179.9L495.5 231.9L496.5 232.7L497.5 172.8L498.5 178.4L499.5 202.6L500.5 179.1L501.5 190.1L502.5 225.5L503.5 162.3L504.5 141.7L505.5 164.3L506.5 205.6L507.5 186.3L508.5 190.8L509.5 200.3L510.5 189.4L511.5 195.3L512.5 213L513.5 198.2L514.5 178.8L515.5 170L516.5 172.6L517.5 188L518.5 149.2L519.5 109.5L520.5 154.1L521.5 208.3L522.5 193.3L523.5 198.9L524.5 195.8L525.5 161.8L526.5 169.5L527.5 223.6L528.5 267.9L529.5 223.8L530.5 181.7L531.5 164.3L532.5 138L533.5 173.8L534.5 239.6L535.5 241.4L536.5 209.6L537.5 199.7L538.5 209L539.5 201.6L540.5 172.3L541.5 140.1L542.5 153.9L543.5 198.4L544.5 199.7L545.5 187.8L546.5 212.7L547.5 203.2L548.5 166.2L549.5 212.2L550.5 245.2L551.5 162.1L552.5 134.3L553.5 240.3L554.5 298.9L555.5 232.9L556.5 179.7L557.5 276.6L558.5 231.8L559.5 127.7L560.5 167.4L561.5 191.4L562.5 139L563.5 161.9L564.5 237.9L565.5 234.8L566.5 205.7L567.5 223.8L568.5 199.1L569.5 136.9L570.5 152.8L571.5 221.7L572.5 206L573.5 153.4L574.5 191.2L575.5 244.4L576.5 191.6L577.5 130.6L578.5 154.5L579.5 200.3L580.5 235.8L581.5 254L582.5 198.9L583.5 126.8L584.5 153.4L585.5 222.6L586.5 216.1L587.5 178.8L588.5 182.7L589.5 220.5L590.5 153.4L591.5 98.4L592.5 154.5L593.5 204.1L594.5 202.8L595.5 167.3L596.5 218.4L597.5 265.4L598.5 232.1L599.5 149.9L600.5 194.7L601.5 158.1L602.5 110.7L603.5 148.3L604.5 262.7L605.5 221L606.5 172.4L607.5 207.4L608.5 191.4L609.5 127.2L610.5 148.6L611.5 204.8L612.5 197.5L613.5 196.4L614.5 219.7L615.5 211.6L616.5 195.1L617.5 183.6L618.5 163.4L619.5 179.5L620.5 201.8L621.5 147.8L622.5 90.9L623.5 142.4L624.5 223.3L625.5 199.8L626.5 183.5L627.5 179.9L628.5 235.9L629.5 281.5L630.5 225.4L631.5 169.3L632.5 164.1L633.5 203.4L634.5 215L635.5 191.3L636.5 191.6L637.5 189.1L638.5 158.1L639.5 177.6L640.5 247.3L641.5 300.1L642.5 246.2L643.5 120.6L644.5 158.1L645.5 199.8L646.5 224L647.5 148.8L648.5 104.6L649.5 158L650.5 231.2L651.5 216.7L652.5 206.9L653.5 204.3L654.5 149.2L655.5 128.6L656.5 190.5L657.5 222.2L658.5 194.2L659.5 242.4L660.5 291.4L661.5 236.2L662.5 195L663.5 169.4L664.5 125.6L665.5 162.1L666.5 215.5L667.5 210.4L668.5 174.9L669.5 138.5L670.5 148.9L671.5 205.5L672.5 235.3L673.5 206.9L674.5 143.6L675.5 79.8L676.5 144.7L677.5 260.3L678.5 201.5L679.5 132.6L680.5 168.7L681.5 183.8L682.5 155.7L683.5 232.3L684.5 272.5L685.5 191.1L686.5 116.3L687.5 165.5L688.5 200.3L689.5 138.7L690.5 130.7L691.5 227.9L692.5 272.2L693.5 237L694.5 169.7L695.5 232L696.5 279.1L697.5 226.6L698.5 163.6L699.5 186.8L700.5 143.3L701.5 139.3L702.5 211L703.5 195.4L704.5 163.6L705.5 241.8L706.5 259.7L707.5 175.7L708.5 146.3L709.5 183.8L710.5 174.4L711.5 157.6L712.5 234.1L713.5 282.8L714.5 229.8L715.5 186.6L716.5 204.3L717.5 222.2L718.5 151.9L719.5 132.8L720.5 214.3L721.5 218.7L722.5 152.7L723.5 185.1L724.5 228.7L725.5 181.1L726.5 165.2L727.5 221.7L728.5 232.5L729.5 199.4L730.5 186.6L731.5 164.1L732.5 113.2L733.5 159.6L734.5 220.7L735.5 196.9L736.5 173.8L737.5 185.3L738.5 211.4L739.5 232.5L740.5 222.6L741.5 177.4L742.5 145.2L743.5 176.5L744.5 218.8L745.5 210.7L746.5 189.8L747.5 193.4L748.5 190L749.5 164.6L750.5 173.9L751.5 208.4L752.5 217L753.5 206.4L754.5 204.7L755.5 189.3L756.5 171.9L757.5 202.9L758.5 229.8L759.5 160L760.5 107L761.5 230L762.5 265.4L763.5 228.1L764.5 165.5L765.5 204.8L766.5 217.5L767.5 166.5L768.5 152.9L769.5 187.3L770.5 193.8L771.5 201L772.5 225.2L773.5 261.7L774.5 219.3L775.5 222.2L776.5 177.7L777.5 113.2L778.5 125.7L779.5 238L780.5 240.5L781.5 209.5L782.5 245.2L783.5 234.4L784.5 191.4L785.5 197.1L786.5 162.7L787.5 120.6L788.5 160.8L789.5 224.6L790.5 194.1L791.5 200.9L792.5 243.6L793.5 190L794.5 131.5L795.5 177.1L796.5 242.7L797.5 240.9L798.5 211L799.5 194.5L800.5 178.5L801.5 161.4L802.5 177.9L803.5 196.6L804.5 154.4L805.5 100.8L806.5 154.3L807.5 208.6L808.5 194.2L809.5 211.1L810.5 226.2L811.5 195.6L812.5 162.4L813.5 162.3L814.5 191.4L815.5 216.6L816.5 219.3L817.5 200.4L818.5 172.5L819.5 159.6L820.5 190.5L821.5 212.7L822.5 193.1L823.5 184.2L824.5 206.1L825.5 209.4L826.5 149.7L827.5 96.6L828.5 147L829.5 208.6L830.5 202.5L831.5 181.3L832.5 177.1L833.5 211.4L834.5 237.3L835.5 193.1L836.5 145.3L837.5 226.3L838.5 263L839.5 217.5L840.5 115.7L841.5 158.5L842.5 265.4L843.5 186.3L844.5 170.3L845.5 231.3L846.5 215.3L847.5 148.7L848.5 143.1L849.5 188.4L850.5 151.9L851.5 105.8L852.5 235.4L853.5 272.9L854.5 228.3L855.5 189.7L856.5 202.3L857.5 205.3L858.5 183.4L859.5 151.6L860.5 154L861.5 197.3L862.5 232L863.5 164L864.5 131.8L865.5 221.4L866.5 271.6L867.5 228.7L868.5 171.6L869.5 186.4L870.5 191.4L871.5 161.4L872.5 180.6L873.5 227L874.5 206.7L875.5 177.1L876.5 204.5L877.5 219.3L878.5 190.9L879.5 190.8L880.5 187.2L881.5 142L882.5 159.7L883.5 237.2L884.5 162.1L885.5 116.9L886.5 164.4L887.5 228.6L888.5 182.3L889.5 153.7L890.5 163.2L891.5 171.2L892.5 180.7L893.5 205.6L894.5 214.6L895.5 169.6L896.5 162.7L897.5 250.3L898.5 264L899.5 170.2L900.5 129.5L901.5 231.4L902.5 270.4L903.5 220.2L904.5 191.6L905.5 178.7L906.5 159.2L907.5 226.1L908.5 277.8L909.5 224.8L910.5 134.3L911.5 168.7L912.5 235.4L913.5 200.5L914.5 178.6L915.5 194.7L916.5 206.7L917.5 187.7L918.5 157.1L919.5 158.1L920.5 180.8L921.5 189.5L922.5 207.5L923.5 245.7L924.5 239.7L925.5 189.3L926.5 161.7L927.5 168.7L928.5 223.7L929.5 269.2L930.5 227.8L931.5 155.3L932.5 186.9L933.5 235.6L934.5 215.6L935.5 160.4L936.5 120.6L937.5 168.3L938.5 224.7L939.5 265.4L940.5 218.9L941.5 193.5L942.5 192.2L943.5 174L944.5 150.4L945.5 243.1L946.5 310L947.5 249.1L948.5 182.1L949.5 187.7L950.5 165.7L951.5 141.7L952.5 174.3L953.5 219.1L954.5 190L955.5 161.2L956.5 191.7L957.5 216.5L958.5 190.7L959.5 188.2L960.5 225.3L961.5 215.6L962.5 169.1L963.5 156.9L964.5 177.5L965.5 200.5L966.5 211.3L967.5 185.9L968.5 170L969.5 212.1L970.5 239.4L971.5 199L972.5 170.4L973.5 185.6L974.5 162.3L975.5 140.4L976.5 163.6L977.5 226.9L978.5 232.9L979.5 193.6L980.5 181.5L981.5 201L982.5 199.4L983.5 168.1L984.5 153.7L985.5 182.9L986.5 231.3L987.5 237.3L988.5 161.6L989.5 134.3L990.5 171.6L991.5 247.2L992.5 195.2L993.5 184L994.5 211.7L995.5 154L996.5 116.4L997.5 165.7L998.5 215.6L999.5 209.3L1000.5 227.6L1001.5 209.7L1002.5 143.5L1003.5 127.2L1004.5 228L1005.5 277.8L1006.5 238.2L1007.5 224.9L1008.5 180.4L1009.5 178.9L1010.5 168.4L1011.5 168.8L1012.5 191.8L1013.5 163.5L1014.5 116.4L1015.5 154.4L1016.5 247.2L1017.5 163.5L1018.5 119.4L1019.5 161.6L1020.5 195.1L1021.5 192L1022.5 184.9L1023.5 169.3L1024.5 168.7L1025.5 189.9L1026.5 221L1027.5 232.5L1028.5 201.1L1029.5 178.4L1030.5 186.5L1031.5 184.3L1032.5 173.4L1033.5 195.7L1034.5 224.7L1035.5 206L1036.5 167.2L1037.5 154.9L1038.5 181.9L1039.5 201.7L1040.5 193L1041.5 202.3L1042.5 244.7L1043.5 225.4L1044.5 161.8L1045.5 176.7L1046.5 213.3L1047.5 184.3L1048.5 158.9L1049.5 184.7L1050.5 197.8L1051.5 208L1052.5 210.2L1053.5 176.5L1054.5 173.2L1055.5 225.6L1056.5 226L1057.5 177.9L1058.5 174.2L1059.5 188.6L1060.5 154.2L1061.5 97.1L1062.5 142.4L1063.5 217L1064.5 215.1L1065.5 203.4L1066.5 202.3L1067.5 191.9L1068.5 153.6L1069.5 156.4L1070.5 223.1L1071.5 239.2L1072.5 172.6L1073.5 231.1L1074.5 285.2L1075.5 237.5L1076.5 112.5L1077.5 156.4L1078.5 204.5L1079.5 220.9L1080.5 246L1081.5 222.7L1082.5 147.6L1083.5 136.8L1084.5 189.2L1085.5 203.2L1086.5 184.1L1087.5 185.9L1088.5 189.2L1089.5 177.5L1090.5 197.1L1091.5 235.3L1092.5 226.1L1093.5 200.8L1094.5 197.1L1095.5 171.7L1096.5 146L1097.5 190.6L1098.5 241.5L1099.5 215.1L1100.5 150.2L1101.5 133.2L1102.5 223.5L1103.5 274.1L1104.5 234.6L1105.5 182.8L1106.5 184.4L1107.5 222.6L1108.5 201.6L1109.5 153.2L1110.5 139.3L1111.5 142.3L1112.5 190.9L1113.5 262.9L1114.5 246L1115.5 139.5L1116.5 173.5L1117.5 265.5L1118.5 225.8L1119.5 130.6L1120.5 161.2L1121.5 205.8L1122.5 189.2L1123.5 196.9L1124.5 202L1125.5 161.8L1126.5 157.5L1127.5 198.1L1128.5 229.1L1129.5 242.3L1130.5 222.8L1131.5 168.8L1132.5 149.8L1133.5 177.8L1134.5 226.1L1135.5 270.4L1136.5 221.6L1137.5 178.5L1138.5 165.7L1139.5 194.2L1140.5 227.2L1141.5 220.4L1142.5 194L1143.5 184.3L1144.5 188.5L1145.5 195.6L1146.5 197.8L1147.5 179.6L1148.5 159.3L1149.5 188.4L1150.5 222L1151.5 193.4L1152.5 154.3L1153.5 187.2L1154.5 242.4L1155.5 239.1L1156.5 188.5L1157.5 161.1L1158.5 177.6L1159.5 186.9L1160.5 179.9L1161.5 244.4L1162.5 318.7L1163.5 256L1164.5 176.3L1165.5 153.7L1166.5 180.5L1167.5 219.6L1168.5 221.1L1169.5 190.9L1170.5 178.3L1171.5 190.3L1172.5 222.3L1173.5 272.9L1174.5 224.2L1175.5 164.5L1176.5 154.2L1177.5 187.2L1178.5 193.3L1179.5 191.1L1180.5 226.8L1181.5 241.7L1182.5 187L1183.5 138.5L1184.5 156.2L1185.5 198.9L1186.5 221.4L1187.5 218L1188.5 201.4L1189.5 190.4L1190.5 183.6L1191.5 184.9L1192.5 194.5L1193.5 193.5L1194.5 183.8L1195.5 195.5L1196.5 203.5L1197.5 172.4L1198.5 169.1L1199.5 220L1200.5 220.2L1201.5 160.2L1202.5 164.5L1203.5 236.1L1204.5 251.7L1205.5 200.7L1206.5 172.7L1207.5 192.7L1208.5 176.9L1209.5 156.3L1210.5 113.2L1211.5 163.2L1212.5 212.8L1213.5 168.5L1214.5 216.6L1215.5 250.3L1216.5 187.9L1217.5 132.8L1218.5 165.9L1219.5 231.3L1220.5 285.2L1221.5 238.4L1222.5 193.9L1223.5 200.4L1224.5 178L1225.5 165L1226.5 192.9L1227.5 201.6L1228.5 183.7L1229.5 186.2L1230.5 199L1231.5 200.3L1232.5 229.4L1233.5 276.6L1234.5 230L1235.5 149.8L1236.5 169.9L1237.5 192.6L1238.5 191.2L1239.5 198.6L1240.5 212L1241.5 198.9L1242.5 187.1L1243.5 196.4L1244.5 198.2L1245.5 179.1L1246.5 193.8L1247.5 222.5L1248.5 169.3L1249.5 135L1250.5 212.2L1251.5 235.1L1252.5 162.8L1253.5 202.6L1254.5 253L1255.5 158L1256.5 134.7L1257.5 233.9L1258.5 217.5L1259.5 147L1260.5 231.5L1261.5 279.1L1262.5 232.5L1263.5 151.9L1264.5 171.7L1265.5 201.7L1266.5 195.7L1267.5 179.3L1268.5 182.5L1269.5 183L1270.5 183.7L1271.5 231.5L1272.5 280.3L1273.5 240L1274.5 205.8L1275.5 219.1L1276.5 182L1277.5 156.1L1278.5 191.3L1279.5 196.1L1280.5 164.4L1281.5 188.8L1282.5 233.4L1283.5 206.3L1284.5 170.7L1285.5 190.4L1286.5 197.7L1287.5 171.6L1288.5 178L1289.5 228.1L1290.5 251L1291.5 211.5L1292.5 149.8L1293.5 149.1L1294.5 198.6L1295.5 223.8L1296.5 196.2L1297.5 139.3L1298.5 122.1L1299.5 186L1300.5 258.3L1301.5 234.3L1302.5 198.1L1303.5 225.2L1304.5 214.4L1305.5 185.1L1306.5 193.1L1307.5 191.5L1308.5 163.9L1309.5 154.4L1310.5 155.8L1311.5 179.2L1312.5 233.1L1313.5 246.7L1314.5 194.1L1315.5 172.6L1316.5 220.1L1317.5 227.9L1318.5 158.4L1319.5 140L1320.5 195.5L1321.5 142.1L1322.5 92.2L1323.5 243L1324.5 301.3L1325.5 242.7L1326.5 200.8L1327.5 208.3L1328.5 167.2L1329.5 159.9L1330.5 215.1L1331.5 238.7L1332.5 199.5L1333.5 177.8L1334.5 196.3L1335.5 197.6L1336.5 164.3L1337.5 165.4L1338.5 196.7L1339.5 194.9L1340.5 196.8L1341.5 228.7L1342.5 158L1343.5 113.2L1344.5 150.2L1345.5 184.9L1346.5 132.4L1347.5 148.8L1348.5 194.2L1349.5 205.6L1350.5 210.4L1351.5 202.5L1352.5 186.1L1353.5 181.1L1354.5 189.7L1355.5 214.5L1356.5 241.8L1357.5 218.3L1358.5 161.8L1359.5 150L1360.5 230L1361.5 275.3L1362.5 233.2L1363.5 176.3L1364.5 186.6L1365.5 225.2L1366.5 279.1L1367.5 228.3L1368.5 155.3L1369.5 219.4L1370.5 230.4L1371.5 169.6L1372.5 151.5L1373.5 196.9L1374.5 233L1375.5 213.8L1376.5 171.3L1377.5 161.8L1378.5 190.2L1379.5 196.5L1380.5 187.7L1381.5 201.8L1382.5 230.4L1383.5 206.5L1384.5 148.8L1385.5 154.1L1386.5 230.2L1387.5 228.9L1388.5 147.4L1389.5 165L1390.5 246.1L1391.5 232.1L1392.5 173.4L1393.5 154.5L1394.5 159.7L1395.5 208.8L1396.5 252.3L1397.5 198.9L1398.5 137.9L1399.5 180.5L1400.5 223L1401.5 181.4L1402.5 162.6L1403.5 222.5L1404.5 242.6L1405.5 188.4L1406.5 156.6L1407.5 172.9L1408.5 175.8L1409.5 191.7L1410.5 233.3L1411.5 226.2L1412.5 189.4L1413.5 194.2L1414.5 198.2L1415.5 171.5L1416.5 174.9L1417.5 195.3L1418.5 192.3L1419.5 191.5L1420.5 189.4L1421.5 174.6L1422.5 192.8L1423.5 210.5L1424.5 185L1425.5 192.2L1426.5 241.6L1427.5 220.3L1428.5 166.1L1429.5 190.7L1430.5 206L1431.5 137.6L1432.5 124L1433.5 208.2L1434.5 259.2L1435.5 229.2L1436.5 203.4L1437.5 198.9L1438.5 166.1L1439.5 118.2L1440.5 165.4L1441.5 193.8L1442.5 193.9L1443.5 227.6L1444.5 193.8L1445.5 126.3L1446.5 254.2L1447.5 235.7L1448.5 301.3L1449.5 241.2L1450.5 206.8L1451.5 208.8L1452.5 129L1453.5 148L1454.5 256.8L1455.5 173.8L1456.5 138L1457.5 167.8L1458.5 230.4L1459.5 141.4L1460.6 300L1461.6 430L1462.3 507" fill="none" stroke="#ff7f0e" stroke-width="2.3" stroke-linejoin="round" stroke-linecap="butt"/></g>
<g clip-path="url(#cb)"><path d="M118.2 614.3V686.6M117.9 694.6V794.4M118.1 807.5V824.2M117.3 827.9h0M117.3 841.5h0M118.2 845.4h0M117.7 872.2h0M117.9 874h0M116.2 881.7h0M116 886.2h0M118 892.1h0M116.4 927.3h0M116.9 963.6h0M118.3 982.3h0M120 611.1V658.9M120.1 671.3V736.1M119.3 748.4V819.6M120.3 825.5h0M120.1 828.2h0M121.1 840.7h0M121 855.3h0M120.8 880.6h0M119.6 885.9h0M121.7 917.4h0M120.8 957.5h0M122.9 612.9V616.7M122.8 626.2V650.3M123.1 664.1V688.6M122.8 691.6V802.6M122.9 817.8V822M124 610h0M122.9 823.2h0M122.9 827h0M123.2 863.5h0M123.6 864.8h0M122.4 872.6h0M122.8 875h0M124.6 911.5h0M124.6 942.1h0M124.2 960.7h0M127.4 619.9V654.7M127.1 667.7V679M127.5 688.4V727.9M126.9 737.2V754.8M127.4 768.8V794.5M127.7 808.7V817.1M126.5 827.9h0M126 837.3h0M125.9 836h0M127 841.2h0M127.4 847.6h0M126.6 852.4h0M126.7 861.7h0M127 865.1h0M126.6 869.5h0M126.6 874.4h0M126 884.8h0M127.6 899.2h0M125.3 923.4h0M126.4 959.4h0M129.7 624.6V630.9M130.2 641V661.9M129.3 676.5V688M129.1 699.7V789.3M129.1 796.8V808.4M129.6 811.4V820.8M131 864.6h0M128.4 872.2h0M129.2 892.8h0M128.6 938.4h0M130.8 950h0M132.3 626.5V648.4M132.1 664.2V674.4M132.3 686.3V724.4M133 733.8V749M132.3 762.4V806.8M132.9 814.1V823M131.1 831.5h0M133.5 832.6h0M131.8 857.5h0M132.6 861.3h0M133.5 862.7h0M131.3 878.9h0M132.8 882h0M131.1 880.2h0M135.6 624.8V643.5M135 657.5V699.8M135.5 702.8V737M135.2 750.3V757.5M136.1 771V778.1M135.2 793.8V801.4M135.4 817.5V822.2M136.8 828.9h0M136.2 846.6h0M136.8 873.3h0M134.3 888.8h0M136.3 919.8h0M136.1 922.1h0M137.6 628.2V650.5M137.6 666.2V686.9M138.2 697.7V754.6M138 763.7V812.9M138.1 822V823.5M139.9 838.5h0M138.4 844.7h0M138 846.8h0M139.8 858.4h0M138.3 861.4h0M139.3 865.1h0M139.3 876h0M139.2 879.6h0M139.2 928h0M139.7 976.5h0M141.7 632.3V655.7M141.9 671.2V677.2M142 689.6V739.3M142.4 752V789.6M141.7 802V837M142.5 854.7V866.6M142.6 878V901.9M142.6 918.7V926.5M141.4 611h0M141.6 623.4h0M140.9 626.1h0M141.3 624.9h0M140 932.2h0M140.5 943.2h0M140.3 945.1h0M142.8 955.8h0M142.2 956.9h0M144.7 631.1V635.8M144.8 649.7V672.2M144.4 681.5V706.3M145 722.1V743.8M144.1 754.1V818.4M144.9 833.3V844.7M144.4 855.9V880.1M144.3 896.8V909.9M144.5 922.4V928.3M143.9 938.4V974M144.9 983.4V988.4M144 623.5h0M144.3 625.9h0M144.2 628.2h0M148.4 629.2V709.6M147.7 717.3V724.3M148.7 739.7V761.2M148 775.1V778.7M148.5 781.7V786M148.3 802.7V850M147.9 865.9V885.8M148.2 897.2V900.3M148.4 921.2V964.9M147.9 972.7V1005.3M147.9 622.7h0M150.5 631.6V705.8M149.8 708.8V732.6M149.9 744.6V749.8M150.4 761V782.6M150 785.6V795.6M149.8 803.9V811.6M150 829.7V841.2M150.1 853.4V868.1M149.9 871.1V878.4M150 898.4V924.8M150.9 932.2V947.7M150.9 950.7V983.9M149.9 993V1000.2M150 617.1h0M150.7 622.1h0M150.5 627.3h0M150 630.8h0M150.7 630.3h0M151.1 630.2h0M153.8 622.6V629.1M154.2 639.8V644.5M154.2 655.4V687.4M154.5 698.3V705.9M153.4 717.2V767.7M153.5 779.6V883.6M153.6 886.6V916.6M153.8 928.8V937.4M154.5 948.6V955.9M153.8 973.2V979.6M156.8 620.5V717M156.5 725.5V742.1M157.1 750.6V765.7M157.3 781.1V798.1M156.9 801.1V820.6M156.7 834.8V859.1M156.2 871.9V875.4M156.7 896.1V908.8M157.1 927.8V945M156.7 957.4V979.1M156.7 613.2h0M156.4 613.2h0M157.2 616.5h0M155.8 617.4h0M156.5 618.8h0M156.6 618.5h0M159.2 624.5V628.3M159.7 642.3V650.9M159 659.4V693.7M159.6 701.9V719.5M159.9 735.1V780.4M159.7 794.8V814M159.8 830.8V837.2M159.4 855.6V898.6M159.8 911.1V927M159.1 942.7V947.7M159.4 958.7V1000.3M159.7 610h0M162.7 653.2V684.5M162.7 699.8V714.6M163.1 723.7V728.2M163.4 739.2V778.7M163.6 787V814M163.5 817V827.3M163.3 838.2V876.7M162.5 887.6V908.6M163.6 924.6V939.5M163.1 951.3V960.2M162.9 972.4V992.2M162.8 1004.4V1006.9M162.3 653.8h0M162.4 612.1h0M165.6 655.4V671.9M166 679.4V703M166.1 716.1V752.3M166.1 766.3V783.7M166.4 791.8V806.6M165.9 815V870.8M165.5 881.2V910.7M166.1 918.8V944.8M166.3 964.5V993.2M165.8 638.7h0M165.1 614.6h0M168.9 627.1V648.7M168 659.7V673M168.8 681V821.7M168.3 834.6V867.5M168.6 884.3V927.6M168.1 936.4V942.2M167.9 945.2V995.2M168.6 1003.2V1005.8M167.9 620.6h0M168.9 624h0M169 623.3h0M168.3 624.6h0M170.9 617.8V629.5M171.5 637.5V650.3M171.7 658.9V708.1M171.6 723.1V750.1M171 759.9V862.4M171.7 877.4V883.1M171.5 891.2V925.7M171.7 928.7V934.9M171.3 944.1V983.7M170.7 995.4V1003.4M174.9 615.3V682M175 695.6V706.8M175.3 718.6V778M175 785.8V789.6M175.3 809.7V816.2M174.4 837.1V851.8M174.9 862.5V876M175 879V892.8M174.2 911.6V918.6M174.5 933.7V953.6M175.3 969.6V980.6M175.4 999V1015.4M178.6 689.9V701.9M177.5 711.3V793.5M177.5 803.1V806.2M178.3 820.9V826.2M177.7 837V859.1M178 874.7V879.3M177.4 882.3V923.3M178.1 942.3V999.4M178.2 1007V1013.2M176.9 650.1h0M177.4 683.8h0M177.7 683.7h0M177.2 624.6h0M180.5 707.4V725.1M181.3 738.6V752.7M181.5 762.2V842M181.4 849.6V856.9M180.9 870.3V897M180.9 905.1V936M180.5 947.9V957.3M181.2 964.6V971.1M180.5 991.7V997.9M180.5 1008.3V1015.3M180.5 658.6h0M180.2 660.4h0M180.4 680.8h0M181.1 684.9h0M180.9 684.7h0M180.7 688.1h0M180.2 688h0M180.7 686.9h0M180 689.5h0M180.4 696.4h0M180.2 698.9h0M181.2 698.7h0M180.6 707.3h0M180.4 625.4h0M184 715V808.2M184.3 818.9V877.1M184.3 885.6V893.8M183.6 913.5V921.7M184.5 930.5V935.6M183.5 954.1V998.8M183.6 1001.8V1009.3M183 645.5h0M182.9 681.5h0M183.3 691.5h0M183.8 692.1h0M183.1 702.2h0M186.9 714.8V728.5M186.6 741.2V767.7M187.6 782.8V790M186.8 800.4V848.7M187.7 868.4V878.5M187.4 894.9V932.4M187.7 952.4V957.7M186.9 964.8V997.4M185.8 644.4h0M186.2 647.7h0M186.1 658.5h0M185.9 680.5h0M185.9 691.7h0M186.2 696.8h0M186.8 695.4h0M186.7 700.7h0M186.1 711.8h0M187.1 711.2h0M186.8 714.5h0M186.2 626.4h0M190.2 721V757.6M190 768V812.7M190.1 815.7V853.1M190.6 862.1V875.5M189.8 886V890M190 910.3V954.7M190.1 965.3V978.7M190.2 996.1V997.2M188.8 654.3h0M189.9 660.9h0M190.1 689.2h0M189.8 698.8h0M189.2 720.4h0M192.7 736.7V800.6M192.6 811V820.9M193.5 829.4V844M193.2 855.3V905M192.7 923.7V947.5M193.2 959.8V964M192.9 979.1V984.6M193.4 996.3V1015.8M191.9 665h0M192.3 711.3h0M192.4 715.2h0M192.2 732.7h0M194.4 762.5V769.4M194.8 783.9V800.5M195.5 819.7V840.7M194.5 843.7V856.8M194.9 865.6V880.4M194.9 891V923M194.9 942.5V950.6M195.2 959.4V976.4M194.5 986.3V992.7M194.7 1002.6V1009.7M195.5 732.9h0M198.5 763.6V792.9M198.7 808.9V812.8M198.9 833.3V891.3M198.1 903.1V929.7M198.7 943.4V946.6M198.6 957.6V989.6M198.2 678.7h0M198 703.5h0M198.9 709.3h0M198 718.2h0M198.1 736h0M198.8 737.8h0M198 748.4h0M199.1 763.5h0M198.6 653h0M199.2 999.5h0M201.6 748.9V754.6M200.5 761.8V810.1M201.6 825.9V848.8M200.6 863.1V918.9M200.7 937.8V969.6M200.6 985.3V998.5M201.9 732.4h0M204.4 656.8V752.1M204.6 765.1V784.7M204.9 798.2V815.9M204.8 823.3V827.8M204.7 848.5V857.4M204.2 866.7V874.6M204.8 884V897.9M204.5 917.3V936.2M204.7 954.8V961.4M204.3 977.9V997.8M204.7 639.4h0M204.2 645.3h0M204 645.1h0M204.1 646.4h0M203.9 653.5h0M204.4 654.7h0M204.5 657.1h0M204.7 655.6h0M204.2 655.1h0M204.1 633.8h0M206.9 641.2V670.2M206.9 673.2V679.4M207.9 689.5V704.4M207.2 717.6V749.3M207.2 760.2V766.1M207.9 773.6V897.5M207.5 912.5V949.3M207.9 957.7V967.7M207.8 987.7V997.6M207.3 631.1h0M210 641.2V656.5M210 670.8V707M209.5 710V716.9M209.7 731.8V840.3M209.3 843.3V856.9M210.1 873.5V890.1M210 906.2V973.6M210.6 639.7h0M214.1 637.9V655.6M213.8 663.3V701.8M214.1 716.4V770.5M213 783.9V792.5M213.7 800.6V896.3M213.1 911.6V922M213.6 940.4V975.8M213.9 638.2h0M213.2 629.3h0M215.3 618V676.9M216.4 684V781.2M215.8 795.3V817.2M215.4 830.9V912.6M216.2 932.2V963.8M219.1 613.2V700.1M219.2 711.4V777.8M219.3 790.5V824.9M218.8 841.4V882.4M219.3 894.9V942.8M219.4 955.7V959.8M218.9 971.4V976.8M220.3 981.7h0M223.1 612.4V678M222.7 690V800M223.3 813.8V834.7M222.9 841.7V885.7M222.7 897V904.4M222.8 914.9V955.4M223.1 969.5V976.4M225.8 615.7V624.2M225.6 639.1V668.4M225.1 678.1V688.3M224.7 697.9V707.8M225 710.8V740.5M225.4 751.6V760.1M225.1 770.2V822.6M225 834.1V844.9M225.1 861.8V879.4M225.7 889.9V921.2M224.8 932.6V954.5M225.4 970.5V981.1M226.8 984.4h0M229.6 610.5V639.9M228.5 655.8V691.2M229.2 694.2V773.9M228.7 787V798M229.2 818.6V832.9M228.5 849.4V869.8M228.5 872.8V879.6M229.5 895.8V901.9M228.7 910.4V928.6M229.3 946V970.8M231.8 615.4V625.7M230.7 634.6V640.3M231.2 647.5V651.7M231.1 664.9V670M231.2 684.7V732.5M231 735.5V798M230.9 806.9V811.7M230.8 822.2V854.4M231 872.7V884.7M231.9 894.1V916.4M231.3 933V943.5M230.8 953.1V956.1M231.6 965V985.5M232.6 988.7h0M234.4 618.7V662.3M233.9 675.1V679M234 682V689.1M233.7 697.7V787.2M233.7 797.4V801.8M234.5 818.5V831.2M234.2 838.3V848.5M233.6 856.5V877.2M234 894.2V903.7M234.4 919.6V933M234 943V981.5M237.9 620.8V673.5M237.3 680.9V687.1M237.2 694.4V706.3M238 721.8V753.4M237.8 762.7V787.6M238.1 801.8V816.3M237.7 824.6V850.4M237.8 861.1V883.4M237.8 893.9V905.8M238 921.5V931.1M237.5 947.3V976.2M237.6 983.8V986.1M241.3 616.2V706M241 720V779.4M241.2 792.9V809.8M240.5 819.9V826.8M240.9 834.3V840.8M241 860.3V881.8M241.3 894.6V899.6M241.3 910.8V916.6M240.3 934.5V967.7M240.6 975.8V982.5M243.1 617.8V630.9M243.2 644.9V658.4M242.4 671.4V698.2M242.9 709.8V737.8M242.2 749.6V920.4M242.6 929.4V935.2M242.9 948.7V957.9M243.3 968.8V980.3M246.9 617.1V653.9M247 669.2V729.9M246.3 740.4V894M246.7 905.3V912.9M246.7 933.2V942.6M246.2 950.9V985.8M249.6 620.8V656.9M249.8 666.7V681.1M249.7 695.3V742.9M249 758V792.2M249 807.5V843.2M249.4 854.1V923.4M249.4 936.7V952.5M249.2 971.2V978.1M252.6 609.9V652.1M253.3 664.7V703.3M252.7 715V738.7M253.4 749.1V764.4M253.2 774.3V795.4M252.7 809.8V823M252.6 832.4V852.3M253 867.3V897.2M253.5 912.6V920.7M253.5 937.3V945.3M253.6 964.3V982.2M252.1 990.6h0M252.2 989h0M255.9 614V633.7M256.4 642.8V686.7M255.3 698.1V705.1M255.8 717.3V754.7M256.4 768.7V801.5M255.4 814.5V825.8M256 838.2V850.1M256.3 859.8V870.9M255.5 877.9V889.9M255.9 900.8V904.6M256 916.4V925.9M255.3 945.2V971.2M258.6 615.1V685.7M258.8 696.1V739.1M257.9 747.9V753.7M258.2 769V774.6M258.3 790.3V816.8M258.7 819.8V878.4M258.1 896.1V903.2M258.7 920V927.2M262.1 610.1V629.6M261.3 645V672.3M262.4 683.7V700.2M261.9 703.2V720M262.2 733.2V738.3M261.4 753.3V757M261.9 766.2V776.1M262.2 783.3V822.7M262 833.3V837.3M261.8 840.3V849.8M261.6 868.5V886.4M261.8 894.2V917.7M263.5 613.3V637.8M263.3 648.4V708M263.3 716.7V739.6M263.9 752.7V762M263.9 775.1V794.9M263.8 809.2V826.3M264.3 839.8V851M263.4 871.3V883.7M264 898.3V908.6M264.1 916V925.5M268.1 612.4V623.4M268.2 638.5V765.6M268.2 772.7V795.8M268.2 808.8V817.9M268.2 829.8V833.6M268.7 845.2V851M268.7 865V885.9M268.6 901.3V923.2M268.7 932.5V957.6M268.2 975V994.3M271.1 633.9V651M270.9 664V742.6M270.8 758.3V784.3M270.2 799.6V804.9M270.8 822.2V830.3M270.4 849V854.9M270.9 871.5V892.3M270.1 900.4V915.4M270.3 930.9V951.9M270 972.7V977M270.9 980V992.3M270 621.4h0M271 623.6h0M271 617.3h0M273.6 630.9V644.6M273.6 653.6V661.6M273.2 670.8V752M273.9 755V774M273.6 781.3V784.7M273.5 801.3V882.1M274 896.2V900.2M273.3 908.2V917.6M273.6 928.6V939M274 951.8V964.6M273.1 984.6V992.5M273.5 627.2h0M272.8 631.5h0M276.8 615.1V626.3M276.4 638V696.5M277.1 699.5V714.4M276.9 723.3V741.5M277 757.4V783M277.5 786V791.2M277.5 802.9V847.5M277.4 856.5V902.4M276.5 918.8V928.3M277.6 945.1V968.9M276.5 989.6V996.6M279.9 616.4V734.6M279.7 750.5V774.4M279.7 777.4V798.3M279.5 809.6V837.5M279.7 855.1V887.2M279.5 904.8V984.8M280.7 986h0M281.6 617.7V676.2M282.3 690V723M282.4 726V818M281.6 827V883.3M281.9 902.6V905.6M281.9 919.4V947.5M286.5 618.6V657.5M285.5 660.5V665.8M285.6 681.4V707.4M285.5 715V720.8M286.4 735.2V751.2M286.1 759.4V771.5M286.4 786.1V792.2M285.6 803.6V823M286.6 841.9V900.2M286.3 909.1V913.3M285.9 933V949.8M289.7 622.7V636.9M289.5 650.1V748.6M288.9 758.7V812.5M289.4 824.6V841.2M288.8 861.3V885M289.1 904.8V919.3M289.5 939.9V948.8M292.1 624V629M291.9 639.9V657.1M292.2 666V672.6M291.6 675.6V689.7M292 699.6V705M292 714V730.5M292.2 742.9V754M292.2 766.1V798M292.2 808.8V847.5M291.9 855.4V879.4M292.1 900.3V916.4M292 926.5V949.1M292.5 967.2V981.4M294.6 623.6V631.7M294.8 644.1V653.1M295.1 661.2V677M295.6 692.5V717.2M294.7 728.5V824.5M295.3 839.8V843M295.2 853.5V873.2M295.2 881.9V894.2M295.1 911.3V924.2M295.5 932.1V946.8M294.6 956.9V979.2M294.1 615.4h0M294.9 619.9h0M297.9 620.6V644.4M297.1 656V699.6M297.9 714.8V719.3M297.9 734.6V770.4M297.1 778.1V821.2M298 824.2V841.8M297.7 844.8V879.6M297.5 899.4V920.5M298.2 930.8V942.3M297.8 960.5V964.1M297.5 972.2V1001.6M297.9 622.8h0M298.1 611.6h0M301.7 665.2V677.4M300.9 691.2V703.9M300.6 712.5V718.3M301.2 731.7V743.3M301.1 746.3V750.7M300.9 763.9V805.6M301 821V930.1M300.9 939.3V955.8M301.8 966V981.1M300 638.5h0M300.7 639.4h0M300.1 640.9h0M299.6 613h0M303 665.6V673.8M303.1 689.1V727.3M303.7 736.4V845.5M303.9 859.1V863.2M304.1 877.3V880.9M303.8 895.7V969.5M304.1 982V990.7M303.8 649.1h0M302.9 655.6h0M303.6 662.9h0M303.1 662.8h0M306.5 624.6V636M305.9 647.5V667.8M306.4 676.9V721.1M306.3 730.3V763.6M306.5 771V783.1M306.1 793V815.4M306.1 828.5V849.5M306.4 861.7V892.7M306 903.2V919.1M306.7 927.3V932.3M305.7 935.3V951.4M305.8 960.7V981.2M305.8 989.3V997.1M310.6 623.8V641.4M310.2 649.8V688.6M309.8 703.5V721.7M310.5 729.5V755M310.4 766.7V773.4M310.6 785.4V815.1M309.8 832.6V841.5M310.4 849.4V862M309.9 878.1V881.9M309.8 894.6V903M309.6 923.9V978.2M309.6 986.7V990.7M313.7 735.5V791.2M312.7 805.8V839.7M313 842.7V855.4M313.6 875.3V903M313 920V937.3M313.7 954.4V996.1M313 697.7h0M313 710.6h0M312.6 717.9h0M313.2 720.6h0M312.8 728.1h0M313.2 729.3h0M316.2 762.7V771.9M316.6 783.2V794.7M316.1 813V826.5M315.7 844V858.9M316.4 866.2V873.7M315.8 880.8V885.9M316.5 897.5V928.3M316.7 940.3V976.2M316.7 995.8V998.1M315.8 709.7h0M315.7 727.4h0M314.8 731.2h0M315.4 755.3h0M315.7 760h0M318.5 766V783.2M318.6 797.7V816.5M317.8 826.9V856.8M318.4 874V948.2M318.1 962.9V968.3M318.3 986.9V996M318.1 722.2h0M318.3 728.8h0M322 766.5V832.5M322.2 846.7V862.9M322.2 883.2V892.5M321.5 906.2V917.3M321.4 937.5V946.8M321.3 949.8V955M321.9 974.6V978.6M322.1 996.3V1001.9M321.3 715.4h0M320.9 715.6h0M321.2 724.1h0M322.1 724.1h0M320.9 738.9h0M321 741.6h0M321.7 745h0M320.9 746h0M321.8 749.5h0M321 750.2h0M321.3 758.1h0M321.8 756.7h0M322.2 759.3h0M321.6 1006h0M324.3 712.2V744.5M323.4 754.2V757.4M323.4 769.8V812.4M323.4 824.4V828.3M323.8 842V883.1M324.4 902.6V911.3M323.8 929.7V938.5M323.7 951V959.5M323.8 962.5V969.9M323.5 978.4V983.6M323.5 1001.5V1002.9M324.1 710.6h0M328.2 704.8V717.5M327.5 731.5V753.4M328.4 767.5V860M327.6 867.4V876.5M328.2 894.8V912.9M327.5 915.9V928.7M327.8 938.8V946.8M328.2 949.8V964.2M327.5 983.7V1000.5M328.1 657.5h0M327.9 673h0M327.3 698.2h0M327 700.6h0M326.7 637h0M330.5 702.2V709.9M330.8 722.2V746.7M330.6 754.5V757.9M331 769V811.1M330.6 823.4V826.7M330.2 842.3V849.1M330.7 866.5V888.2M330.7 899V910M331 918.3V936.8M330.6 950.2V964.4M330.7 981.3V998.5M329.9 674.1h0M330 696.2h0M329.9 695.2h0M330.9 702.5h0M332.8 664V720.9M332.7 732.3V783.5M332.5 786.5V803.8M332.5 823.2V843M332.6 851.7V864.3M333 883.7V896.1M333.6 905.8V956.1M333.4 968V991.6M334.3 625h0M336.6 620.6V639.1M336.1 646.3V673.6M336.8 687.3V719.9M336.6 731.1V737.9M336.6 752.8V774.7M335.9 790.2V839.3M336.2 847.6V885.6M336.4 895.2V933.2M336.5 944.1V954.7M336.2 972.9V978.5M335.8 617.6h0M335.8 613h0M340.1 616.2V639.7M339.7 652.4V670.2M339.6 678.8V685M339.8 697V711.5M340 722.9V743.4M339.7 754.6V768.6M339.5 779.4V801.4M339.8 810.1V835.2M339.6 846.7V873M339.3 882.8V888M339.4 899.9V926.7M339.2 940.5V941.7M339.4 617.9h0M339.3 613h0M342.2 617.6V625M342.6 639.4V692.1M342.1 701.7V735.6M342.6 748.4V839.1M341.9 851.3V867.1M342.4 880.9V944.2M342.4 616.5h0M345.7 621.9V634.6M345 648.5V661.2M345.3 664.2V668M345.9 675.2V681.2M345.8 694.2V708.5M345.3 723.4V777.1M346.1 784.9V790.9M345.9 804V810M345.1 820.9V830M346.1 845.5V851.3M345.3 863.1V866.4M345.7 881.1V906.2M345.6 917.8V941M346.2 613h0M347.6 624.8V640.6M348 650V695M348 698V739M348.2 748.1V751.6M347.6 762.8V787.1M348.3 801.4V816.1M348.2 829V832.3M348.4 844.5V857.8M348.4 874.8V888.5M348.4 906.1V932.4M348.7 624.4h0M347.9 623.8h0M351.4 639.8V649.5M351.7 664.1V697.7M351.9 711.5V720.8M350.7 734.2V740.3M351.2 755.1V759.5M351.5 766.5V780.9M351.6 783.9V843.8M351.5 854.9V860.6M351.7 879.1V887.3M351.3 894.6V904.6M351.5 907.6V923.8M351.1 932.2V937.9M351 949.1V955.9M350.7 968.5V972.3M352 635.5h0M354.9 676.8V738.2M354.6 748.4V785M355.4 798.7V802M355.5 816.1V841.7M355.5 850.2V867.6M355.3 884.1V926.8M354.5 934.2V958.4M354.9 971.9V992.4M354.8 653.4h0M354.6 666.9h0M353.9 668.8h0M354 673.6h0M354 673h0M354.5 633.8h0M357.9 739.4V776.9M357.9 779.9V856.5M357.3 859.5V1005.2M358.1 721.4h0M357.2 724.2h0M357.2 732.7h0M357 733.9h0M357 734.2h0M360.5 802V859.8M360.7 862.8V932.5M360.4 935.5V1007.5M360.7 790.8h0M360.8 740.5h0M363.5 847.6V1009.7M363.8 820.4h0M363.5 828.5h0M364.1 834.3h0M363.7 840.6h0M364.1 848.9h0M362.8 850.4h0M366.2 911.7V1015.7M366.1 897h0M369.5 934.4V1015.9M369.2 933.1h0M373 934.8V1015.8M375.3 933.5V1014.7M375.1 929.3h0M375.9 933h0M376.1 933.4h0M374.9 916.1h0M378 937.8V1008M381.1 939V1007.2M385.1 938.3V1004.5M384.6 935.2h0M384.4 939.5h0M384.8 926.1h0M387.1 940.3V1004.1M386.8 928.8h0M391.1 935.4V1008.1M389.6 920.1h0M394 940V955.9M393.9 964.1V1007.9M392.8 918.6h0M396.9 935.8V1012.4M396.3 927.9h0M399.3 937.3V954.6M398.5 957.6V1013.7M399 934.9h0M399.7 933.3h0M399.5 940.6h0M400.1 940.9h0M401.8 945.8V1013.4M402.8 941.9h0M402.6 941.4h0M401.7 931.1h0M406 943.4V1011.7M408.4 944.1V1012.3M409.1 942h0M408.8 930.1h0M410.9 940.5V1010.3M414.4 944.4V1011M414.7 942.7h0M414.7 942.3h0M416.9 952.9V1013.1M416.7 940.4h0M421.1 954.6V1010.1M423 959.9V1010.8M427.2 958.2V1014.6M426.6 957.5h0M426 960.5h0M425.9 960.5h0M430.1 959.4V1016.8M430.2 961.8h0M428.9 954h0M433.3 960V1017.2M433.2 961.1h0M432.8 953.1h0M435.2 960.4V1016.6M436.2 960.2h0M438.1 957V1013.8M438.4 927.8h0M438.4 951.4h0M438.9 956.2h0M439.1 917.7h0M441.7 954.9V1014.8M445.2 955.3V1011.9M444.3 951.2h0M444.8 954.2h0M444.1 956.9h0M448.3 956.7V1014.2M447.3 956h0M450.3 956.3V1017.5M450.1 955.4h0M450.9 958.2h0M450.4 956.2h0M449.9 958.3h0M450.2 956h0M451.1 952.5h0M453.8 955.9V1016.9M455.9 962.3V1016.1M456.1 957.9h0M460.1 976.3V1001.9M460 1004.9V1021.6M462.3 977.5V1024.1M463 979.1h0M465.6 986.4V1023.2M466 981.9h0M465 977h0M467.9 984V1020.5M469 981.6h0M468.3 979.8h0M471.9 987.4V1023.1M471 986.1h0M473.7 990.9V1022M475 973.2h0M477.7 996.9V1021.4M476.7 970.7h0M481.5 996.8V1022.3M480.4 997.6h0M480.6 999.2h0M480.2 997.7h0M483.7 1001.7V1023.6M484.3 986.9h0M487.2 998.2V1013.7M486.6 1016.7V1025.7M486 997.2h0M487.1 1000.6h0M490.1 1002.1V1023.3M489.3 998.8h0M492.5 1000.6V1024.5M495.5 1005.5V1026.4M495.3 1004h0M494.3 1026.3h0M499 1005.2V1025.6M498.1 1005.8h0M499.1 1004.9h0M501.2 1005.2V1024.6M504 1013.9V1028.7M506.7 1017.9V1027M511 1023V1029.1M513.8 1023.8V1027.5M513 1019.6h0M513.4 1019.9h0M516.8 1024.6V1028M516.4 1023.7h0M516.4 1022.7h0M516.3 1022.3h0M516.1 1017.9h0M520.3 1021.8V1028M521.9 1025.6V1029.9M525.8 1025V1030.3M527.3 1026.7V1028.3M531 1023.8V1028.2M535 1019.4V1030.6M538.5 1022.7V1028.1M540.6 1016.8V1025.6M543.6 1022.4V1028.6M545.9 1022.3V1029.9M549.2 1024.1V1029.9M551.5 1019.2V1030.1M554.9 1018.7V1029.4M558.8 1020.4V1028.9M562.2 1022.7V1029.5M564.6 1022.1V1027M567.4 1018.7V1028.3M571.1 1019.1V1027.8M573.5 1018.7V1026M576.6 1013.9V1028.7M579.6 1014.6V1024M582 1012.1V1024.4M585.8 1006.8V1027.5M588.7 1010.5V1024.5M591 1009.1V1025M595.5 1012.7V1028.2M596.7 1011.1V1026.5M599.9 1013.9V1028.3M603.2 1016.9V1027.9M607.1 1017.6V1028.4M609 1013.7V1027.1M612.3 1012.1V1028.6M615.6 1015.1V1030.1M616.8 1031h0M618.8 1011.2V1030M621.4 1011V1028.8M623.8 1019.5V1025.3M628 1017.5V1028.9M629.6 1015.7V1027.8M634 1015.3V1027.8M637.5 1022.2V1028.8M639.9 1020.1V1029.8M642.8 1020.4V1028.5M644.9 1019.2V1031M648.5 1017.3V1027.2M649.4 1030.6h0M652.1 1017.7V1028.7M654.3 1018.4V1032M657.2 1022.4V1031.9M661 1026.4V1032.7M664.2 1021.6V1028.8M666 1023V1030.6M669.7 1027.7V1030M673.3 1026V1030.3M675.8 1024.8V1031.8M678.8 1027.3V1030.9M682.2 1028.8V1032.4M683.6 1030V1031.1M687.5 1028.7V1033.1M690.6 1029.7V1032.8M693.1 1030.9V1031.2M696.3 1028.7V1031.9M700.1 1029.2V1033.7M702.4 1027.8V1030.3M705.4 1031.8V1032.8M709.3 1029.4V1033.9M711.2 1030.2V1034.2M714.8 1031.3V1031.8M716.8 1029.3V1031.4M716.9 1028.9h0M717.3 1029.3h0M719.8 1027.8V1030.5M720.9 1021.2h0M719.9 1027.2h0M720.7 1026.1h0M724.6 1028.4V1033M726 1018.9V1028.8M727.2 1009.7h0M729.1 1006.4V1028.6M729.7 989.7h0M729.5 999.2h0M729.2 1006.4h0M732.5 975.2V1024.7M734.9 962.5V1024.8M738.4 953.9V1021.4M738.6 945.9h0M742.3 947.2V985.9M742.4 995.5V1021M741.2 942.4h0M744.6 945.8V1024.1M744.2 935.9h0M747.6 940.9V971.5M747.6 974.5V1021.4M750.5 944V967.4M750.3 970.4V1022.4M753.1 956.6V1021.7M757.6 977V1021.2M758.7 983V1019.7M762.7 988.7V1022.9M764.6 987.9V1025.2M769 981.1V1021.2M771.6 972.2V976M771.6 979V1021.4M774.2 924.9V996.8M775.1 1008.4V1016.9M777.8 608.9V621.3M777.8 633V700.2M778.1 708.4V772.8M778.3 775.8V781.1M778.5 790V805.1M777.6 812.3V833.5M777.1 839.4h0M776.6 849.1h0M777.9 852.4h0M776.1 870.8h0M777.4 874.9h0M778.5 877.4h0M776.3 889h0M778.8 887.1h0M777.3 892.3h0M778.5 896.1h0M778.2 922.3h0M778.7 924.1h0M778.1 946.9h0M777.8 964.3h0M777.7 1012.5h0M780.2 607.5V713M780.3 724.6V735.1M780.7 744.8V759.5M780.3 761.4h0M781.7 783.9h0M781.1 786.4h0M779.6 792.8h0M780 805.8h0M781.6 808h0M781.6 817.5h0M781.5 825.8h0M779.1 839.9h0M781.7 839h0M780.6 843.3h0M779.7 875.6h0M780.1 885.8h0M779.4 896h0M781.9 899.1h0M780.2 903.5h0M779.7 904.4h0M779.9 938.6h0M779.2 944.1h0M779.8 966.2h0M783.7 608.5V681.1M783.4 695.7h0M784.2 696.1h0M783.9 695.4h0M782.2 704.5h0M782.6 720.7h0M782.8 727h0M784.7 739.5h0M783.1 746.4h0M782.2 753.9h0M782.8 756.8h0M782.6 759.9h0M784.5 762.5h0M784.2 775.9h0M783.5 784.7h0M782 794.7h0M782 796.7h0M784.6 808.7h0M784.2 806.5h0M783.1 838.5h0M783.5 845.5h0M782 859.9h0M782.3 877.4h0M783.4 878.5h0M782.9 910.9h0M783.4 917.7h0M784.5 950h0M782.3 965.2h0M783.6 973.7h0M786.6 610.6V628.7M787.1 637.5V646.2M786.9 655.8V692.1M786.1 697.9h0M785.7 704.7h0M786.9 719.9h0M785.3 728.7h0M787.9 728.2h0M785.7 727.2h0M787.7 735.8h0M785.2 734.5h0M785.1 755.6h0M787 757.7h0M786.6 763.9h0M788 777.6h0M786.5 797.9h0M787.5 804.3h0M787.9 818.9h0M785.3 819.2h0M785.9 830h0M787.7 840.1h0M785.2 856.3h0M785.9 859.6h0M787.3 870.8h0M785.5 889.6h0M785.6 894.8h0M786.3 897.8h0M785.9 909.4h0M786.7 929.7h0M787.6 934.1h0M786.5 960.2h0M787.9 981.1h0M790.3 607.5V620.3M789.6 631.4V692.5M789.8 698.9h0M790.7 702.5h0M788.4 704.6h0M788.4 706.9h0M789.1 715.1h0M789.4 715h0M788.7 733.7h0M790.5 742.8h0M789.2 746.7h0M789.2 748.9h0M790.9 751.1h0M790.2 762.5h0M790.6 766.7h0M788.3 765.4h0M789.4 767.8h0M791 784.1h0M788.4 787.2h0M790.3 790h0M789.8 799.3h0M788.8 819.2h0M790.6 836.5h0M790.1 845.2h0M788.7 849.8h0M789.4 868.7h0M788 870.3h0M789.5 879.9h0M789.3 942.5h0M792.2 608.2V682.3M792.6 690.6V696.5M792.8 702.6h0M793.8 718.4h0M791.9 716.2h0M792.9 732.9h0M793.5 731.2h0M792.9 739.7h0M793.2 757.3h0M793.5 763.8h0M791.5 769.4h0M792 772.9h0M791.2 775.1h0M792.7 774.8h0M793.7 777.8h0M791.7 787.5h0M791.2 786.3h0M791.4 790.7h0M791.1 792.3h0M792.7 795.3h0M792.2 806.8h0M791.3 820.6h0M793.8 822.9h0M791.7 821.9h0M792.3 825h0M792.1 841.2h0M793.4 845.1h0M793.3 847.8h0M791.8 861h0M791 862h0M792.4 862.8h0M793.8 871.4h0M793.1 880.9h0M792.4 888.2h0M792.4 888.7h0M792 890.4h0M792.4 901.8h0M792.4 903.3h0M793.3 929.9h0M793.8 1004h0M796 612.4V676.4M795.2 679.4V697.2M796.4 708.1h0M796.3 709.4h0M794.3 712.7h0M795.5 718.9h0M795.8 722h0M796.3 728.1h0M795.6 731h0M796.5 730h0M794.4 734.9h0M796.6 751.6h0M796.9 803.5h0M796 805.7h0M796.4 809.9h0M794.5 823.4h0M795.5 834.5h0M794.8 839.7h0M795.5 839.1h0M796.3 849.6h0M794.5 879.2h0M796.7 915.7h0M794.4 921.7h0M795.1 962.9h0M799.5 608.8V619.8M799.6 628V638.5M799.5 649.8V685.1M799 694.2V710.1M799.6 718.1h0M798.3 723.1h0M798.2 726.5h0M799.6 741h0M798.8 744.5h0M797.3 744.5h0M798.7 745.7h0M798.7 750.3h0M797.7 758.8h0M798.6 772.4h0M798.9 771.7h0M798.5 776.6h0M797.7 781.1h0M799.6 780.4h0M798.1 781.2h0M798.5 785.4h0M798 793.1h0M797.9 793.8h0M797.8 799.5h0M799.9 813.8h0M799 817.5h0M798.6 873.2h0M797.9 888h0M799.3 892h0M799 895.9h0M799.6 910.2h0M797.3 911.6h0M797.5 932.7h0M799.7 944.4h0M799.5 948.5h0M799.8 986.2h0M800.5 608.4V642M800.5 650.7V724.7M801.1 730.9h0M800.7 732.4h0M801 737.5h0M801.5 739h0M801.4 743.7h0M800.5 754.9h0M800.8 761.1h0M801.3 760.5h0M801.3 765.3h0M801.5 785.8h0M800.7 785.6h0M802.1 786.1h0M801.2 783.6h0M800.4 794.1h0M802.7 801.7h0M801.2 806.5h0M800.6 807h0M800.3 824.6h0M802.7 825.7h0M801.9 834.7h0M801.7 839.1h0M801.4 846.5h0M802.2 849.9h0M800.2 882.5h0M800.5 917.9h0M802.7 926h0M802.2 938.5h0M802.7 952.5h0M800.6 984.5h0M803.5 613.6V674.3M804 685V700M803.5 711.4V738.5M803.1 744.7h0M804.9 752.9h0M803.3 752.3h0M803.1 757.6h0M803.9 768.9h0M804.5 769.8h0M804 778.6h0M805.9 787.6h0M805.7 791.7h0M804.8 794.8h0M805.3 799.1h0M804.5 811h0M805.9 812h0M803.4 812.9h0M803.9 812.9h0M805.5 820.1h0M805.1 821.6h0M803.7 829.3h0M803.2 828.4h0M804 841.7h0M803.5 849.4h0M805.2 854.4h0M805.7 870.5h0M805.1 876.3h0M805.5 890.7h0M804.3 898.8h0M803.3 909.9h0M803.2 977h0M804.5 1006h0M807.3 616.4V742.4M808.1 752.1V756.9M808.2 756.6h0M808 768.5h0M808.3 773.4h0M806.2 786.7h0M807.2 786.4h0M807.4 789.7h0M807.4 790.6h0M808.2 796.5h0M808.4 811.7h0M806.4 815.3h0M806.3 825.7h0M808.9 828h0M807 845.2h0M806.3 861.1h0M808.7 880.6h0M808.1 895.7h0M808.4 898.4h0M807 897.5h0M808.3 906.2h0M807.2 910.9h0M806.9 910.3h0M807.6 919.1h0M808.1 932.1h0M808.8 937.9h0M808 950.8h0M807.5 957.3h0M808.2 969h0M806.8 996.7h0M807.1 999.9h0M811.6 616.5V660.6M811.7 663.6V671.7M810.8 680.5V697.8M811.2 704.9V773M810.6 774.9h0M810.8 774.3h0M809.4 784.1h0M811.1 787.8h0M811.6 794.5h0M810.7 800.9h0M811.1 804.8h0M811.8 805.2h0M810.3 811.9h0M810.5 822.3h0M811.9 827.4h0M809 830h0M811.9 834.7h0M811.2 853.4h0M809 869.5h0M810.1 875.2h0M809.3 879.1h0M809.8 910h0M809.2 933.7h0M809.6 944.3h0M811.3 955.4h0M810.2 965.6h0M811.1 971.8h0M809.1 993.2h0M809.3 996.5h0M812.5 619.8V649M812.8 659.8V788.5M812.6 793h0M812.9 795.1h0M814.5 806.1h0M814.6 805.4h0M814.5 807.4h0M814.1 809.8h0M813.2 822.5h0M812.2 832.3h0M814.1 831.1h0M812.7 846.5h0M815 851.4h0M813.2 884.3h0M812.1 893.4h0M814.2 923h0M812.4 922.4h0M813.6 940.1h0M814.3 956.8h0M817.6 621.3V761.9M817.4 769.1V801M816.4 804.4h0M815.7 818.1h0M815.9 835.7h0M816 847.3h0M817 845.9h0M816.7 875.5h0M817.3 885.3h0M816.1 886.2h0M815.7 898.8h0M818 897.9h0M817.5 902.4h0M817.6 911h0M817.5 919.3h0M815.3 925.7h0M817.2 936h0M817.3 958.8h0M820.1 617.5V708.1M819.7 711.1V804.6M819.8 823.5h0M820.4 846.8h0M818 863.8h0M818.3 884.5h0M820.5 888.9h0M820.6 888h0M818.1 903.6h0M819 926.1h0M820.1 939.4h0M820.4 983.9h0M818.1 999.3h0M821.9 617.6V750.4M821.6 757.5V828.7M822.9 828h0M823.9 831.1h0M821.1 854.4h0M821.2 874.2h0M821.4 893h0M823.8 917.9h0M822.1 954.6h0M821.2 977.1h0M825.9 613.4V672.7M824.9 675.7V839.3M826.2 841.6h0M825.8 852.7h0M826.4 852.5h0M824.4 853.6h0M825.7 854.9h0M825.1 869.1h0M825.5 869.8h0M826 878.3h0M825.7 881.5h0M826.6 885h0M825.7 884.3h0M825.9 910.2h0M824.2 909.9h0M824.1 912.5h0M826 931.1h0M824.3 951.2h0M824.4 960.6h0M828.6 617.2V627.2M828.7 636V649.2M829 657.4V768M828.3 777.8V846.7M829.8 854h0M828.7 855h0M829.3 859h0M828.6 859h0M828.3 862.2h0M829.1 883.3h0M829.8 886.4h0M828.2 913.3h0M828.2 911.9h0M829.9 937.5h0M828.1 945.8h0M829.2 958.3h0M832.4 635V657.2M831.8 664.3V701.9M832.3 711.3V789.1M832.7 792.1V806.1M832.7 816.3V889.8M831.2 894h0M830.6 907h0M830.8 917.5h0M830.6 917.3h0M832.3 920.5h0M831 937.1h0M831.4 939.9h0M830.4 940.4h0M831.8 941.1h0M830 951.9h0M832.2 966.1h0M831.5 970.2h0M830.6 974.8h0M831.2 979.4h0M830.1 996.1h0M835.2 716.6V722.1M835.2 725.1V796.7M834.9 805.7V867M834.7 874.3V883.9M834.4 890.9V931.8M835.4 934.8V1001.1M834.3 707.6h0M834.8 712.3h0M834.8 683h0M837.6 921.8V984.6M837.7 987.6V1009.9M837.7 895.4h0M837.4 904.5h0M839.8 925.7V1018.2M841.2 838.9h0M840.7 865h0M840.1 890.6h0M840.4 900.3h0M839.9 898.9h0M840 901.2h0M840.4 902.7h0M840.3 907.5h0M844 929.9V952.6M843.6 955.6V1020.5M843.9 799.1h0M843.3 848h0M843 858.5h0M843 866.8h0M844.2 870.3h0M843.9 871.8h0M843.8 877.2h0M843.4 885.1h0M843.9 890.7h0M844 902.9h0M843.6 908.8h0M844 919.5h0M843.3 920.7h0M842.9 921.7h0M846.7 929V1018.5M846.2 847.1h0M845.9 854.8h0M846.9 878.5h0M846.3 892.3h0M846.4 895.2h0M846.9 897.2h0M847.1 911.6h0M846.5 913.4h0M846.8 917.3h0M846.6 919.5h0M847.2 921h0M847.2 922.6h0M847.1 921.9h0M846.8 923.3h0M846.8 926.7h0M846.9 928h0M849.6 927.1V1018.3M849.1 798.9h0M849.3 830h0M849.7 838h0M849.3 851.1h0M849.8 850.1h0M849.4 896.3h0M849.9 898.9h0M848.9 904h0M850 908.6h0M849.6 911.4h0M849.1 924.3h0M849.2 925.6h0M852 929V1022.2M852.2 803.8h0M852.8 829.8h0M852.3 833.7h0M852 837.4h0M853 835.3h0M852.6 840.6h0M851.5 759.5h0M855.6 928.1V1019.9M854.9 849.2h0M855.6 855.7h0M855.6 864h0M854.9 895.9h0M855.6 927h0M855.1 928.1h0M859.4 926.8V1019.9M858.8 766.5h0M859 807.4h0M858.6 820.6h0M857.8 854.4h0M858.1 860.9h0M858.1 892.3h0M858.5 895.6h0M858.2 897.8h0M858.7 923.4h0M858.4 926.1h0M861.1 927.2V1024.5M861.7 782h0M861.8 797.4h0M861.3 811.7h0M860.8 858.7h0M861.8 858.5h0M861.9 890.1h0M860.9 891.9h0M862.1 903.1h0M861.5 904.6h0M861.3 906.6h0M861.9 925.3h0M861.9 1024.7h0M864.7 926.8V1025.1M864.3 826.2h0M865 846.2h0M865 861.5h0M863.9 898.6h0M866.7 926.6V1023.3M868.1 775.4h0M867.1 858.6h0M867.2 908h0M869.8 925.5V1020.2M870.9 803.4h0M869.8 805.6h0M869.9 839.5h0M870 855h0M870.7 898.4h0M870 927.4h0M870.9 1024.8h0M874.1 921.1V958.2M873.4 961.2V1009.5M874.1 1012.5V1020M873.6 801.1h0M873.7 819.7h0M874 833.5h0M873.6 847.4h0M873.5 850.9h0M873.8 856.3h0M873.3 860.3h0M873.2 865.8h0M873.6 876h0M873.2 881.2h0M873 905.2h0M873.3 910.6h0M873.2 918.9h0M873 918.8h0M874.3 715h0M875.9 916.8V1021.7M876 727h0M876.4 738.3h0M876.6 737.8h0M876.3 746.1h0M875.8 771h0M875.9 777.6h0M876.3 789.5h0M876.5 806.5h0M876.8 815.1h0M876.3 834.3h0M876.2 838.4h0M877.1 872.8h0M876.1 889h0M876.6 892.5h0M877.1 910.9h0M877.1 912.9h0M876.6 915.6h0M877.2 696.7h0M879.4 907.7V1020.3M879 694.4h0M879.9 703.4h0M879.8 707.2h0M880.1 707.1h0M879.4 711.3h0M879.1 721.7h0M878.9 723.6h0M879.5 723.3h0M880 724.8h0M879.1 729.3h0M879.7 733.7h0M880.1 735.9h0M879.2 739.9h0M879.9 739.5h0M879.8 742h0M879.3 744.7h0M879 746.3h0M880.1 747h0M880.1 759.7h0M879 759.3h0M879 760.4h0M879.7 758.5h0M880.1 766.2h0M880.1 769.3h0M879.4 767.7h0M879.7 771h0M879.5 778.7h0M879.7 776.9h0M879.5 779h0M879.6 784.7h0M880 783.6h0M879.3 785.5h0M879.8 787.2h0M878.8 789.2h0M879.7 793.7h0M879.8 794.4h0M879 794.8h0M879.9 798.6h0M879.5 800.4h0M879 802.2h0M879.4 804.5h0M878.9 804.1h0M878.8 805.5h0M879.4 807.3h0M880.2 811.1h0M879.4 817.9h0M879.6 818.4h0M880 822.9h0M878.9 822.5h0M879 826.4h0M880.1 829.4h0M879.9 827.7h0M880 830.9h0M879.4 831.5h0M879.4 832.4h0M879.6 834.4h0M880 834.6h0M879.6 837.8h0M879.6 838.9h0M879.7 840.1h0M879.9 844.9h0M879.4 842.5h0M879.6 844.6h0M879 845.4h0M879.5 848.4h0M879.7 850.5h0M879.6 853.9h0M879.5 853.7h0M879.6 856.7h0M879.2 856.8h0M879 855.3h0M878.9 859.1h0M880 858.2h0M879.9 867.7h0M880 876.3h0M879.8 879.9h0M880.1 879h0M879.6 881.5h0M880.1 884.5h0M879.5 884.3h0M880 885.6h0M879.4 885.7h0M879.6 885.3h0M879.6 885.5h0M879.5 885.8h0M879.8 886.4h0M879.9 890.5h0M879.8 892.4h0M879.5 898.5h0M879.6 896.6h0M879.9 897.8h0M880.1 896.7h0M880 901.1h0M879.9 900.9h0M880.2 910.9h0M882.7 900.9V1017.1M881.8 694.7h0M882.8 701.6h0M882.8 714.2h0M882.5 716.4h0M882.6 722.4h0M883.1 727.9h0M882 768.8h0M883.1 787.6h0M882 795.2h0M882.3 796.1h0M882.5 806.6h0M882.9 810h0M882 812.3h0M881.9 817.8h0M882.6 820.2h0M882 822.4h0M881.8 836.2h0M882.4 846.2h0M882.7 846h0M882.1 866.4h0M882.2 875.8h0M882.1 883.9h0M882 886.2h0M882 893.7h0M884.4 894.8V1015.2M885 651.2h0M885.1 661.9h0M885.4 664.8h0M886 671.5h0M886.2 682.2h0M884.9 689.3h0M885.6 693.4h0M885.2 696.2h0M885.9 706.7h0M885.2 707.6h0M886.2 712.1h0M885.1 717.6h0M886 732.6h0M885.2 732.7h0M885.3 734.1h0M885.7 733.2h0M884.9 738.9h0M886 738.6h0M885.1 739.2h0" fill="none" stroke="#1f77b4" stroke-width="6.1" stroke-linecap="round"/>
<path d="M885.4 744.9h0M885 745.7h0M886 748.2h0M885.6 754.6h0M885.3 755h0M886 757.9h0M885.7 758.3h0M885.9 758.4h0M886 759.1h0M885.4 758.3h0M886.1 758.9h0M886 760.6h0M885.9 768.2h0M885.5 766.1h0M885.3 773.7h0M884.9 772.7h0M885.9 772.9h0M885.1 773.7h0M885.3 777.7h0M885.8 776.7h0M884.8 778.8h0M884.9 779.9h0M885.1 782.9h0M885 781.7h0M885.3 782.5h0M886 787.1h0M885.1 790.9h0M885.4 796h0M884.8 799h0M885.4 796.2h0M885.7 799.7h0M885.2 800h0M886 800.4h0M885.2 807.1h0M885.2 806.6h0M885 811.5h0M885.5 816.5h0M885.9 815.1h0M885.3 815.3h0M885.5 816.9h0M885.3 818.2h0M886 817.9h0M885.3 819.8h0M885.6 822.8h0M886.1 822.9h0M885.4 824.6h0M885.8 823.8h0M886.1 823.8h0M885.8 825.3h0M886 825h0M885.6 829.7h0M885.2 830.6h0M885.2 835.4h0M884.9 840.3h0M885.8 839.9h0M885.9 838.4h0M885.6 840.5h0M885.9 843.5h0M886.1 845.3h0M885 846.5h0M886 845.1h0M885.7 849.4h0M885.8 847.8h0M885.5 848h0M885.1 852.3h0M886 855.3h0M886.2 854.2h0M885.2 860.8h0M886.2 861.6h0M884.8 862.5h0M886.1 863.2h0M886.1 865.5h0M885 869.5h0M885.9 873.1h0M885.8 876.3h0M885.3 876.7h0M885.2 878.5h0M885.7 880.4h0M885.6 885.1h0M885.8 883.6h0M885.7 885.8h0M885.1 883.8h0M884.8 884h0M884.8 888.8h0M885.1 889.1h0M885.3 891.4h0M885.3 892.4h0M885.7 894.3h0M885.5 893.9h0M885.6 892.7h0M885.4 894.4h0M885.8 897.4h0M885.4 898h0M886.1 895.2h0M889.1 891.1V1011.3M887.9 643.8h0M887.9 648.3h0M888.8 649.9h0M889.1 652.6h0M889.1 661.4h0M888.7 671.8h0M888 670.5h0M888.6 674.7h0M888.3 678.2h0M888.7 677.3h0M888.7 685.1h0M888 699.9h0M889.2 705.4h0M888.7 704.9h0M888.8 713.3h0M887.9 743.2h0M888.8 744.6h0M888.4 752.1h0M888.3 755.8h0M889 754.2h0M889 755.7h0M888.8 754.7h0M889 757.5h0M888 760.4h0M888.1 768.1h0M888.6 771h0M888.2 783.4h0M888.9 784.7h0M888.2 785.8h0M888.8 788h0M888.1 789h0M887.8 792h0M888 790h0M888.9 799.1h0M889.1 813.2h0M889.1 813.3h0M887.9 812.1h0M888.5 815.8h0M888.8 818.3h0M888.5 822.5h0M889.1 821.9h0M888.3 821.9h0M888.7 827.4h0M888 831.6h0M888.2 832.9h0M889 834h0M889.1 834.2h0M888.9 838.7h0M889.1 838.3h0M889.1 848.2h0M887.9 852.4h0M888.5 851.4h0M888.9 852.9h0M888.3 855.3h0M888.8 856.3h0M889 858.1h0M888.3 856.7h0M888.9 857h0M888.7 858.3h0M888.1 862.4h0M889 866.4h0M887.9 868.8h0M888.8 869.7h0M887.8 869.4h0M889.1 871h0M889 873.7h0M888.4 876.5h0M889 880.8h0M889.1 884.5h0M888.8 884.6h0M889.2 887.4h0M890.9 882.9V915.8M891.5 923.3V990.4M890.8 1001.2V1008.6M891.7 658.2h0M891.2 676.6h0M891 677.6h0M890.8 684.1h0M890.8 683.4h0M891.6 686.3h0M891.9 697.6h0M890.8 719.5h0M892 719h0M891.7 726.8h0M892.2 736.4h0M891.5 773.4h0M891.4 784.2h0M891.5 791.7h0M891 793.1h0M891.2 803.7h0M892 807.7h0M891.3 816.5h0M891.5 822h0M891.8 829h0M891.4 829.1h0M891.5 841.6h0M891.8 841.8h0M891.4 850.7h0M891.5 880.7h0M890.8 630.5h0M894.1 877.1V945.7M894.1 948.7V1004.1M894.5 666.7h0M894.2 665.5h0M895 672.8h0M893.9 681.6h0M894 684.7h0M893.8 691h0M894 691.1h0M893.9 709.5h0M893.9 713.7h0M894.5 719.5h0M894.4 729.4h0M894.6 733.9h0M894.3 738.6h0M895 744.5h0M894.6 747.7h0M895.1 750.7h0M894.1 754.6h0M895.1 759.6h0M895 768.6h0M894.4 772.8h0M893.8 774.7h0M894.8 772.1h0M894.5 777.4h0M894.6 783h0M894.4 782.8h0M895 784.9h0M895.1 786h0M895 793.7h0M893.9 804.5h0M894.4 804.8h0M894.8 812.2h0M894.2 816.5h0M894 830.4h0M894.2 830h0M895.2 831.1h0M895.1 832.8h0M894.3 834.6h0M894.1 843h0M894.7 844.5h0M893.9 853.2h0M893.9 853.9h0M894.5 853.9h0M894.4 858.4h0M894.8 859.5h0M895.1 861.3h0M895.1 861.6h0M894.8 861.4h0M893.9 864.5h0M894 867.8h0M894.8 866.9h0M894.9 870h0M895.2 868.8h0M894.9 871.8h0M894.9 876.5h0M894.8 879.3h0M895.3 1004.4h0M894.9 1007.7h0M893.2 1013h0M897.3 877V967.1M897.8 977.1V999.7M897.3 639.7h0M897.8 643.3h0M897.5 661.1h0M897 662.3h0M896.9 666.7h0M897.1 669.5h0M898.2 671.6h0M897.9 678.9h0M898.1 682.5h0M898 682.9h0M896.9 689.5h0M897.8 689.3h0M897.7 689.7h0M897 694.3h0M897.6 696.4h0M898 695.5h0M896.8 707.2h0M898 707.8h0M897.3 714.8h0M897.6 718.2h0M897.3 717.3h0M897.4 717.8h0M897.1 719.5h0M897.4 725.5h0M898.2 735.9h0M898.1 737.5h0M897.9 747.5h0M896.9 749.7h0M897.3 748.9h0M897.8 752.5h0M897.1 757h0M898.1 757.5h0M897.1 761.9h0M897.4 764.5h0M897.3 768.4h0M897.2 771.8h0M897.5 778.7h0M897.1 778.2h0M897.2 780.4h0M897.5 781.5h0M898.1 784.4h0M897.6 783.2h0M897.8 793.1h0M897.7 793.2h0M897.2 796.2h0M897.1 795.3h0M898.2 801.6h0M897.7 800.1h0M897.7 801.7h0M897.5 801.9h0M898 801.6h0M897.1 811.4h0M897.6 812.2h0M897.7 813.5h0M897.8 815.5h0M898.1 816.4h0M898 817.3h0M897.2 820.7h0M897 820.8h0M898 820.2h0M896.8 819.1h0M897 818.7h0M897 821.4h0M897.9 829.4h0M896.9 829.5h0M897.2 835.1h0M897.1 838.1h0M897.6 842.1h0M897.7 845.1h0M897.8 848.5h0M896.9 849.3h0M897 847.9h0M896.9 854.3h0M897 854.2h0M897.9 856h0M897.8 859.1h0M897.2 860.8h0M897.5 862.5h0M897.9 865.8h0M897 867.3h0M896.9 866.6h0M898 869.1h0M897.8 869.7h0M897.3 874.3h0M897.9 872.6h0M898 872h0M896.8 874.4h0M896.7 637.9h0M900.2 870.7V998.4M900.8 651.1h0M901 669.1h0M899.9 682.4h0M900.2 688.9h0M900.2 702.2h0M900.7 702.9h0M900.8 706.8h0M900.4 710h0M899.9 737.4h0M900.3 740.6h0M900.5 747.8h0M900.6 753.2h0M900.6 752.1h0M900.2 762.8h0M899.8 764.2h0M900 770.4h0M900.7 773.6h0M901.1 776.4h0M900.9 774.8h0M900.1 780.2h0M900.2 785.1h0M901.1 790.3h0M899.9 790.9h0M900.2 795.3h0M899.9 799.5h0M901.2 802h0M899.8 808.7h0M900.5 810.5h0M899.8 813.4h0M900 816.1h0M901 825.9h0M900.4 829.3h0M900.3 832h0M900.4 846.3h0M900.2 849.1h0M901.2 848.6h0M900.5 847.4h0M900.3 852.1h0M901.1 852.6h0M900.6 855.5h0M900.4 856.5h0M901 863.1h0M899.9 871.8h0M900.8 872.9h0M899.4 1002.4h0M899.1 1001h0M900.9 1001h0M903.9 872.5V994.6M903.4 656.1h0M903.1 662.6h0M904 671.3h0M903.1 701.1h0M903.2 713.4h0M903 717.3h0M903.4 724.3h0M903.9 731.3h0M903.6 731.7h0M903.1 732.1h0M903.5 737h0M903.2 746.1h0M903.6 750.9h0M904.2 751h0M903.7 757.6h0M902.9 760.7h0M903.9 774.7h0M903.8 786.6h0M903.3 792.5h0M904 837.7h0M903.4 844h0M903.7 846.9h0M904 864.4h0M902.8 869.5h0M904.2 867.3h0M903.1 647.7h0M903.8 1001.2h0M903.4 1016.2h0M906.5 872.3V996.5M906.3 658.2h0M907 665.3h0M906.8 672.7h0M906.3 679.2h0M906.7 688.5h0M906.7 696.1h0M906.2 700.5h0M906.8 704.3h0M907.1 707.5h0M905.9 708.6h0M906.4 709.9h0M905.9 712.6h0M906.1 721.6h0M906 725.6h0M906.3 734.4h0M906 748h0M906.8 759.7h0M906.3 759.2h0M906.4 766h0M907 768.2h0M907.1 785.9h0M906.4 792.7h0M906.4 800.8h0M906.8 806.5h0M906.9 823.9h0M906.3 826.5h0M906.8 826.8h0M907 844.2h0M906.3 843.3h0M905.9 849.8h0M906.4 855.9h0M906.7 859.7h0M906.2 866.5h0M905.7 652.6h0M907.1 999.4h0M908.7 866.2V871.8M908.8 874.8V890.1M908.9 900.6V992.8M909.6 674.5h0M909.9 680.8h0M908.8 683.6h0M909 695.7h0M909.2 695h0M909.2 699.4h0M909 702.8h0M910 717.9h0M909.1 721.4h0M909.5 725.8h0M909.9 745h0M909.9 748.8h0M909.9 752.4h0M908.9 753.4h0M909 759h0M909.6 774.2h0M909.2 777.7h0M909.1 777.5h0M909.8 782h0M909.9 784.5h0M909.4 784.1h0M909.9 795.5h0M909.2 794.7h0M910.2 801.6h0M910 800.3h0M910.1 800.1h0M908.9 805.5h0M909.1 806.8h0M908.9 814h0M910.2 814.3h0M910 814.7h0M909.1 818.6h0M909.1 824.8h0M909.6 830.6h0M909.2 832.8h0M909 832.1h0M910 843h0M909 844.5h0M909 846.6h0M909 853.7h0M909.2 862.5h0M912.6 868.1V873.6M913.1 881.7V971.6M913.2 980.8V993.8M912.2 679.3h0M912.4 679.8h0M912.6 693.8h0M912.7 697.1h0M913 711.3h0M911.9 712.3h0M912.8 729.5h0M912 737h0M913 741.5h0M912.1 759.2h0M912.3 765.7h0M911.8 769.8h0M912.3 769.6h0M912.9 770.8h0M912.7 781.3h0M911.9 789.4h0M912.6 788.1h0M913.1 797.5h0M912.5 804.6h0M912.2 804.7h0M912.7 805.9h0M912.7 810.7h0M913.2 809.9h0M912.4 819.9h0M912.5 820h0M912.8 823.5h0M913.2 823.1h0M912.6 827.6h0M912.5 827.6h0M912.1 835.5h0M913 839.1h0M912.9 845.9h0M912.1 844.8h0M911.8 848.5h0M912.1 847.8h0M911.9 850.2h0M912.4 850.5h0M912.6 860.9h0M912.2 862.5h0M913 865h0M911.8 999.4h0M912.2 1003.9h0M915.3 864V992.4M915.5 665.7h0M915.6 675.4h0M915 673.9h0M915.4 673.8h0M915.9 678h0M916.1 688.9h0M915.1 704.1h0M915.7 717.6h0M915.1 725.8h0M915.4 734.8h0M915.7 749h0M915.9 749.3h0M915.1 748.5h0M915.9 756.1h0M915.3 759.1h0M915.2 763.3h0M916 766.3h0M914.9 769.5h0M915 772.8h0M915.9 774.5h0M915 779.2h0M915.7 780.2h0M915 783.9h0M915.4 785.4h0M915.8 790.6h0M914.9 799.9h0M915.8 814.2h0M915.8 819.2h0M915.3 825.2h0M915.1 838h0M915.7 846.6h0M915.7 851.4h0M915.6 851.7h0M914.9 855h0M915.8 854.4h0M915.5 853.8h0M916.1 858.3h0M915.3 864.6h0M915.4 865.6h0M918.5 869.3V917.6M918.7 920.6V931.6M918.8 938.9V992.4M917.9 665.8h0M917.8 669.7h0M918.8 677.6h0M918.6 680.2h0M919.1 685.3h0M919.1 692.2h0M918.7 693.5h0M918.6 704.8h0M918.1 706.2h0M917.8 708.4h0M918.6 710.4h0M919.1 709.3h0M919 719.5h0M918.2 724.2h0M917.9 728.1h0M918.2 727.3h0M918.3 731.2h0M918.2 734.2h0M918.5 734.6h0M918.4 751h0M917.9 748.9h0M918.7 756h0M917.9 757.3h0M918.8 766h0M917.9 780.3h0M918.3 781.4h0M918.3 782.9h0M918.3 786.3h0M918 786.9h0M918.3 788.8h0M918.1 789.6h0M918.9 787.8h0M917.9 788.7h0M918.2 791.8h0M918.8 791.4h0M918.5 793.2h0M919.1 793.8h0M918.8 795.7h0M918.8 796.2h0M919 805.4h0M919 809.1h0M918.3 812.2h0M918.1 814h0M917.8 816.1h0M918.5 823h0M918.9 823h0M919.2 825.2h0M919 823.9h0M919 826.8h0M918 831.4h0M918 833.7h0M918.3 832.6h0M917.9 833h0M919 834.4h0M918.3 836.7h0M918.1 837.8h0M917.9 839h0M918.1 841.9h0M917.9 846h0M917.9 846h0M918.6 848h0M918.6 851.2h0M918.6 852.7h0M918.8 851.5h0M919.2 855h0M919.1 855.2h0M918.7 855.5h0M918.1 858.4h0M918.5 857.6h0M919 857.7h0M918.1 857.5h0M917.9 861.7h0M918.7 859.1h0M919 861.2h0M918.1 861h0M918.3 862.3h0M918.7 866.6h0M918.2 865.7h0M918.3 867.4h0M919.2 655h0M917.1 999.7h0M921.4 868.7V986.8M921.4 989.8V992.1M922.1 687.4h0M921 688.1h0M921.2 724.4h0M921.9 733.8h0M921.2 740.4h0M921.1 746.5h0M921.6 752.4h0M920.9 768.6h0M920.9 771.8h0M922 779h0M921.6 798.2h0M921.5 817h0M921.9 823.6h0M921.9 823.6h0M921.2 838.3h0M921.7 838h0M921.8 848.7h0M922 852.6h0M921.3 854.3h0M921.4 862.2h0M922.1 864.4h0M921.4 867h0M921.3 868.2h0M920.5 999.3h0M923.6 868.1V893.2M924 896.2V925.6M923.6 928.6V987M923.9 990V996.2M924.2 684h0M924.2 684.9h0M924.4 714.1h0M924.2 721.9h0M924.8 722.7h0M925.1 727.9h0M925.1 731.6h0M924.9 735.3h0M924.9 734.8h0M924.8 737.4h0M924.5 746.5h0M924.1 764.8h0M925.1 769.2h0M924.5 771.1h0M924.7 774.2h0M924.6 773.1h0M924.7 781.3h0M925.1 779.3h0M924.5 785h0M924.7 782.9h0M924.8 789h0M924.3 796.6h0M924.8 798h0M924 797.2h0M923.9 803.7h0M924.1 817.3h0M924.1 821h0M924.1 819.4h0M924.8 822.2h0M924.5 831.9h0M924.5 831.6h0M924.6 832.2h0M924.8 831.9h0M925 834.1h0M924.1 838.1h0M924.5 840.5h0M923.9 847.9h0M924.2 850.9h0M924.1 850.6h0M924.2 849.1h0M924.4 853.3h0M924.3 855.4h0M924.1 859.1h0M923.8 860.5h0M924.1 864.7h0M925.1 864.2h0M924 864.9h0M924.3 867.6h0M924 866.4h0M924.1 867.7h0M924.3 871.2h0M923.8 870.3h0M924.1 674h0M923.1 996.7h0M923.4 1013.3h0M927.3 873.1V944.3M926.8 947.3V980.5M927 989.9V993.8M927.9 696.5h0M928 708h0M927.3 708.9h0M928 711.5h0M927.9 729.8h0M927.8 732.4h0M926.8 749.6h0M927.8 751.8h0M927.4 760.9h0M928.2 765.3h0M927 774.5h0M927.6 777.1h0M927.3 788.9h0M928 795.7h0M928.1 800.1h0M927.9 809.8h0M928.2 820.4h0M928.1 825.5h0M926.8 826.7h0M927.2 840h0M927.7 844.4h0M927.5 845.9h0M927.9 848.9h0M927 851.9h0M927 864.3h0M927.4 864h0M927.5 865.1h0M926.8 1000.7h0M927.5 1001.6h0M929.4 873.8V993.3M930.4 709.1h0M930.4 743.2h0M931.1 759.1h0M930.3 776.7h0M930.9 790.8h0M931.2 801h0M930.9 808.1h0M930.7 825.3h0M931.1 832.4h0M929.9 835.6h0M930.1 836.4h0M930.9 840.7h0M930.4 838.8h0M930.2 843.8h0M930.1 841.4h0M931.2 845.1h0M930.7 853.4h0M931 867.8h0M930.4 869.5h0M930 870.8h0M930.9 873.3h0M931.2 995.9h0M930.5 996.4h0M931.2 998h0M931.6 1007.2h0M931 1011.6h0M933.2 877.9V907M933.7 917.8V960.4M933.1 963.4V996.8M934.2 684.1h0M932.9 690h0M933.6 696.3h0M933.2 702.1h0M933.2 707.7h0M934.1 706.6h0M934.1 712.8h0M933.7 712.4h0M933.3 718.4h0M934 727.1h0M934.2 726.2h0M933.1 729.1h0M933.3 728.8h0M933 733.2h0M933.9 740.6h0M933.6 738.9h0M934 738.4h0M933 743.9h0M934 746.1h0M933.3 754.8h0M933.4 754.1h0M934.1 758h0M934.2 761.3h0M933.4 760.2h0M932.8 766.5h0M933 766.9h0M933.1 779.5h0M933.8 780.5h0M933.2 782h0M934.1 788.2h0M933.3 790.4h0M933.6 790.3h0M933.9 789.2h0M933.7 792.1h0M934.1 793.1h0M933.7 793.3h0M933.3 797.1h0M933.4 798.2h0M934 799.1h0M933.8 798h0M933.4 801.5h0M933.9 803h0M933 803h0M933.8 805.8h0M934 808h0M932.8 807.6h0M932.9 809.5h0M934.1 811.3h0M933.7 810.1h0M933.5 811.9h0M933.7 815.3h0M933.6 814.4h0M934 816.8h0M933.1 818.7h0M933.3 818.1h0M933.7 816.5h0M933.5 820.8h0M933.7 820.4h0M933.6 824.7h0M932.8 822.5h0M933.1 822.8h0M933.4 826.3h0M933.5 826.8h0M933.7 826.7h0M933.1 824.9h0M933.4 827.7h0M934.2 828.8h0M933.1 829.4h0M934.1 830.9h0M933.6 833.4h0M932.9 842.7h0M933.1 841h0M933.3 841.7h0M933.2 845.4h0M933 844.6h0M933.1 845.1h0M934.1 845.2h0M933.2 843.3h0M934.2 846.9h0M933.2 848.4h0M933.2 848.5h0M932.9 845.9h0M933.1 848.1h0M932.9 846.1h0M932.9 851.1h0M934 848.8h0M933 852.7h0M933.4 854h0M934 853.9h0M933.6 854.5h0M933.8 855.2h0M933 856.5h0M933 855.8h0M933.4 856h0M933.4 854.9h0M932.8 857.3h0M933.4 855.2h0M933.1 856.5h0M933.4 857.1h0M933.8 855.6h0M933.7 857.3h0M933.5 860.4h0M934.1 859h0M933.9 858h0M932.8 858.9h0M934.1 859.4h0M933.6 862.7h0M934.2 861.7h0M932.9 863.3h0M933.4 865.3h0M933.7 865.3h0M933.5 869.1h0M933.3 867.5h0M933.5 868.7h0M933.2 873.4h0M934.1 875.5h0M933.9 876.6h0M933 876.2h0M933.8 996.2h0M932.4 1008.6h0M935.9 885.7V993.9M936.5 700.3h0M937.1 706.2h0M937.1 719.1h0M936.9 740.9h0M935.9 741.2h0M936 744.5h0M937 767.9h0M935.9 802.9h0M936.5 804.1h0M937.2 810.5h0M936.5 810.3h0M935.8 817h0M936 825.3h0M936.7 831.8h0M936.6 829.6h0M936.5 841h0M936.2 847.8h0M936.1 856h0M937 856.9h0M936.4 859.4h0M936.3 862.5h0M935.9 859.9h0M937.1 863.6h0M937 870.3h0M939.4 888.4V911.7M939 914.7V941.7M939 951.8V996.3M940.1 661.3h0M940.1 682.6h0M939.6 690.2h0M939.1 697.8h0M939.4 704h0M939.6 710.8h0M940.1 716.4h0M940 723.9h0M939.5 721.2h0M939.4 726.9h0M940.1 725.8h0M940 738.3h0M940 736.1h0M940.2 738.2h0M939 742.6h0M940.1 746.8h0M939.2 753.1h0M939.1 754.1h0M940.2 755.1h0M939.2 759.3h0M939.7 760.9h0M939.8 763.6h0M940.1 765.7h0M939 764.3h0M938.9 773.6h0M939.1 775.6h0M939.1 776.3h0M939.2 778.4h0M939.7 778.9h0M940.2 784.2h0M939 785.4h0M939.3 791.6h0M939.4 798.6h0M938.9 799.2h0M939.6 799.7h0M940 805.6h0M939.1 807.7h0M938.9 809.6h0M939.4 809.9h0M940.1 812.8h0M940.2 814.6h0M939.8 823.1h0M940.1 826.6h0M939.3 828.7h0M939.1 838.5h0M939.3 839h0M939.2 842.3h0M939.5 845.8h0M939.6 846.5h0M938.9 849.8h0M939 848.6h0M939.6 850.6h0M939.3 851.4h0M940 853h0M940 851h0M940.2 855.8h0M939.3 861.2h0M939 867.6h0M939 866.2h0M939.1 871h0M939.3 869.4h0M939.4 878.9h0M939.6 879h0M939.9 881h0M939.6 881.6h0M939.2 885h0M939.7 888.3h0M939.3 888.8h0M942.1 890V899.9M941.8 902.9V910.5M941.7 913.5V994.9M942.1 705.9h0M941.8 721.7h0M942.5 737.7h0M942.3 742.9h0M943.1 748.8h0M942 767.1h0M942 768.1h0M942.1 785.9h0M942.2 797.4h0M941.8 814h0M942.8 825.9h0M942.6 833.3h0M942.1 839.7h0M942.6 843.5h0M942.6 845.7h0M942.5 849.9h0M942.4 857.6h0M943.1 865.1h0M942.1 872.6h0M943.1 875.5h0M942.7 881.4h0M942.7 887.8h0M943.1 998.3h0M943 999h0M942.7 1001.9h0M942.5 1003.4h0M944.9 895V971.1M944.7 982.1V997.6M945.2 699h0M945.4 706.5h0M945.4 710.8h0M946.1 714.6h0M945.7 736.7h0M945.5 735.4h0M945.9 736.6h0M945.7 763.8h0M945 767h0M945.2 777.3h0M945.6 779.7h0M945.4 798.4h0M945.4 803.9h0M945 830h0M945.3 837.1h0M945.3 839.9h0M945.3 841.9h0M945.6 841.9h0M945.1 845.2h0M945 842.7h0M946.1 845.9h0M945 847.4h0M945.9 849h0M945.2 861h0M945.4 861.5h0M946.1 862h0M945.9 862h0M945.9 868.2h0M945.5 868.4h0M945.1 882.3h0M945.2 890.2h0M945.2 891.4h0M946.1 895.4h0M946.4 689.5h0M949.1 908.6V941.2M949.4 948.6V994.9M949.2 706.1h0M948.3 711.5h0M948.2 720.9h0M949.2 739.1h0M948.9 741.8h0M948.7 755.5h0M948.7 760.8h0M948.2 775.3h0M948.2 783.4h0M948.7 790.2h0M949.1 790.1h0M948.8 793.7h0M949.1 795.8h0M949.2 797h0M949.1 800.7h0M948.7 803.8h0M948.1 805.6h0M947.9 811.7h0M948.2 817.6h0M948.7 827.7h0M948.4 825.7h0M948.5 828.6h0M948.9 835.7h0M948.4 841.9h0M948.3 843.7h0M948.1 850h0M948.9 849.2h0M947.9 851.9h0M948.9 866.3h0M949.1 863.9h0M948.3 864.6h0M948 867.6h0M948.4 871.9h0M948.5 871.9h0M949 872.4h0M948.7 877.4h0M948.3 876.5h0M949 877.8h0M948.6 878.7h0M948.2 881.5h0M948.4 878.9h0M947.8 881.8h0M948.1 884h0M949 883.4h0M949 887.7h0M948.9 884.9h0M948.9 885.2h0M948.5 887.7h0M949 890.1h0M949 888.1h0M948.3 891.5h0M949.2 895.1h0M948.7 899.2h0M948.5 899h0M949.2 898.7h0M948.4 901.6h0M948.6 905.7h0M948.3 905.5h0M948.4 904.1h0M947.3 996.6h0M949.2 998.1h0M952.1 915.5V996.2M951.7 718.2h0M951.1 721.2h0M951.8 756.6h0M951 769.4h0M951.9 769.4h0M952 799h0M950.8 806h0M951.9 821.8h0M952 819.6h0M951.7 827.4h0M951.4 827.1h0M951 828.2h0M951.5 834.6h0M951.3 842.7h0M952 851.2h0M951 857.5h0M951.4 865.2h0M951.2 866.3h0M951.9 881.8h0M951.3 899.5h0M951.2 898.3h0M951.4 900.3h0M952.2 901.3h0M950.9 911.8h0M953.8 919.6V1005.3M954.6 747.8h0M954.7 752.8h0M954.6 755.5h0M954.5 761.1h0M954.5 766.7h0M954.5 772.6h0M954.5 783.6h0M954.3 785h0M954.9 791.3h0M954.3 796.2h0M954.3 797.2h0M955 800.6h0M954.6 810.4h0M954.4 810.9h0M954.5 822.1h0M954.6 824.7h0M955 824.6h0M953.9 829h0M955.2 847.1h0M953.9 849.8h0M955.1 850.9h0M954.6 863.7h0M954.2 867.8h0M955 872.9h0M954 876.7h0M955.2 875.1h0M954.7 883.8h0M954.4 887.1h0M954.5 894.1h0M954.4 897.4h0M955.2 896.3h0M953.9 912.3h0M954.5 918.4h0M954.4 918.9h0M954.2 919.7h0M954.6 919.8h0M954.5 920.3h0M954.1 921h0M957.5 926.6V1017.9M957.4 792.2h0M957.4 791.9h0M957.5 812.7h0M957.9 812.4h0M957.1 861.9h0M958.1 866.4h0M957.2 868.4h0M957.7 885.5h0M956.8 888.9h0M957.4 898.5h0M958.2 901.5h0M957.7 927.3h0M957.9 927.1h0M958 929.2h0M960.2 932.8V1016.6M960.5 775.5h0M960.9 778.8h0M961 784.5h0M960.3 791.4h0M960.9 791.5h0M961.1 793h0M960.9 807.4h0M960.9 824.2h0M960.3 834.2h0M960.6 845h0M959.8 845.3h0M961 848.8h0M960.7 855.1h0M960.4 860.8h0M960.2 867.3h0M960.7 880.3h0M961 889.3h0M960.3 908.8h0M961.1 923.2h0M960.6 926.4h0M960.2 928.2h0M961.4 729.9h0M964.2 935.2V1017M963.5 762.5h0M963.8 763.8h0M963.8 773.7h0M964 807.1h0M963 837.4h0M963.8 854.1h0M963.7 858.3h0M964.1 875.3h0M963.3 893.2h0M963.7 903h0M964 907h0M963.9 919.1h0M963.5 925.4h0M963.5 925.7h0M964.2 927.8h0M963.4 930.4h0M963.5 931.6h0M964.1 930.8h0M963.9 931.2h0M966.4 934.3V1015.9M966.1 781.9h0M965.9 788.8h0M966.8 810.7h0M967.1 813.2h0M967.1 812.6h0M966.9 817.3h0M966.2 822h0M966.1 824.4h0M966.3 827h0M967 835.1h0M966.9 834.7h0M967.1 839.9h0M967.1 852.8h0M966 853.7h0M966.7 857.6h0M965.8 859.9h0M966.8 864.5h0M966.6 863.3h0M966.5 874.4h0M966.6 881.1h0M966.1 884.4h0M966.4 884.9h0M966.5 895.9h0M965.8 898.2h0M966.4 907.1h0M966.9 909.9h0M966.3 909.3h0M967.2 920.6h0M966.6 922.2h0M967 922.9h0M966.9 926.5h0M967.1 932.7h0M966.3 933.3h0M967 936.4h0M969.9 938.1V1018.1M969.3 785h0M969 787.9h0M969.9 791.7h0M970 795.6h0M969 804.1h0M969.7 819.2h0M969.9 825.8h0M969.9 858.6h0M969.7 862h0M969.3 868h0M969.7 879.3h0M969.7 882h0M969.8 879.8h0M970.1 894.8h0M969.1 905.9h0M969.9 910h0M970 917.2h0M969.8 920.6h0M969.5 929.8h0M968.9 934.4h0M970.3 744.5h0M973.9 938.6V1016.7M972.9 776h0M972.2 777.6h0M973.1 862.8h0M972.1 872.1h0M972.4 871.5h0M972.5 875.7h0M973 886.5h0M972.8 907.7h0M973.1 914.4h0M972 921.7h0M972.1 931.5h0M973.1 938.7h0M975.7 944.4V1018.8M975.8 788.7h0M974.8 794.3h0M974.9 807.8h0M975.3 807.5h0M976.1 841.8h0M975.6 842.6h0M975.7 859.9h0M975.4 872.3h0M975 887.8h0M975.6 890.6h0M975 893.9h0M975.6 897.8h0M976.1 903.3h0M975.7 907.8h0M975.8 909.6h0M976.1 913.9h0M976.1 933.2h0M978.5 944.1V955.3M979 964.8V1017.6M978.8 806.3h0M979.2 821.1h0M978.5 827.9h0M979.2 851h0M978.7 882.6h0M978.4 887.3h0M979 888.9h0M978.6 890h0M978.4 904.5h0M979.2 928.8h0M978 930.4h0M978.3 931.5h0M978.6 751.8h0M980.6 947.1V983.4M981.6 995V1015.7M981.2 766.6h0M981.4 796.4h0M981.1 809.8h0M982.2 826.4h0M981.5 834.4h0M981.9 834.9h0M982.2 847h0M981.1 851.6h0M980.9 852.8h0M981.8 861.4h0M981.8 864h0M982.1 870.6h0M982 886.9h0M981.3 888.8h0M981.9 896.8h0M981.3 898.3h0M981.8 897.9h0M981.8 901h0M981.6 906.7h0M982 908.1h0M981.2 918.7h0M981.4 918.2h0M981.4 922.7h0M981.2 929.9h0M981.2 934.2h0M981.6 936.2h0M982 938.9h0M981.8 940.4h0M980.9 944.8h0M984.1 948.8V1013M984.3 779.7h0M985 787h0M983.9 790.9h0M984.1 812.9h0M984.5 840.7h0M984.3 850.8h0M984.2 882.4h0M984.5 887.9h0M984.3 896.9h0M984.5 896.8h0M985.1 900.3h0M984.6 917.9h0M984.6 928h0M985 940h0M986 1016.3h0M987.1 952.5V991.9M986.7 999.2V1013.3M987.1 759.2h0M987.1 801.8h0M987.7 821.4h0M987.7 824.5h0M987.3 833.1h0M987.4 833.4h0M986.8 831.6h0M987.5 834.5h0M986.9 837.9h0M987.1 850.2h0M987.3 854.1h0M987.8 855h0M986.8 866h0M987 869.1h0M988 871.9h0M987 874.5h0M987.8 880.3h0M987.6 882.1h0M987.4 883h0M988 883.7h0M987.9 884.8h0M988.1 887.9h0M987 895.5h0M987.2 898h0M988.1 904.3h0M986.9 906.4h0M987.5 911.4h0M987.5 909.9h0M988.1 923h0M987.8 926.2h0M987.8 926.2h0M988.1 929.5h0M988.1 935.3h0M987.1 934.6h0M988 937.5h0M988.1 939.5h0M988.1 941.8h0M987.4 949.2h0M990.1 947.5V1013.3M990.3 783.8h0M990.6 786.7h0M991 807.5h0M990.8 826.9h0M989.9 828.7h0M990.3 833.9h0M990.7 841.7h0M991.2 844.9h0M990.3 844.6h0M991.2 859h0M989.8 860.6h0M990.3 881.7h0M990.9 906h0M990 907.9h0M990.8 912.3h0M990.6 914.5h0M990.6 916.6h0M990.6 920h0M991.2 918.5h0M990 928.4h0M990.6 936.8h0M990.8 944.6h0M992.9 951.9V958.1M993.2 961.1V1011.8M993.2 763h0M993 781.5h0M993.3 783.3h0M993.7 786h0M993.5 794.5h0M993.1 797.7h0M993.3 814.9h0M993 822.5h0M993.9 829.7h0M993 832.8h0M993.2 835.9h0M992.9 835.1h0M992.8 840.6h0M993.9 840.9h0M993.8 842.6h0M994.1 854.1h0M994.1 853.8h0M994.1 852h0M993.4 856.4h0M993.4 855h0M994.1 860.6h0M993 862.7h0M993.6 868.3h0M993.7 866.7h0M993.6 870.9h0M993.1 871.2h0M992.8 873h0M993.8 877h0M993.3 883.3h0M993.4 883.7h0M994 881.8h0M992.8 884.6h0M994 888h0M992.9 892.4h0M992.8 891.2h0M992.9 894.9h0M993.2 898h0M993 903.3h0M992.9 908.2h0M993.2 906.2h0M993.4 910.1h0M993.5 908.5h0M993.6 913.4h0M993.9 914.7h0M994.1 919.1h0M992.8 923h0M993 922.6h0M993.5 927.1h0M993.7 932.2h0M993 931.6h0M993.6 931.9h0M994.2 932h0M993.6 932.2h0M994.1 932.4h0M994.2 934.5h0M993.5 933h0M993 935.3h0M993.5 937.2h0M993.3 936.8h0M994 940.4h0M993.1 940.8h0M994 939.7h0M993.9 938.5h0M994.2 943.7h0M993.5 944.6h0M994.4 752.3h0M996.4 950.4V1014.8M996.6 765.3h0M997.2 776.2h0M996.5 777.5h0M997 779.8h0M996.8 812.5h0M995.9 817.8h0M996.1 816.7h0M996 822h0M997 823.3h0M996.6 837.2h0M996 849.6h0M997.2 861.9h0M995.8 861.9h0M997.1 862.6h0M996.7 874.6h0M996.1 878.9h0M995.9 880.7h0M996 883.4h0M995.8 887.2h0M996.8 890.8h0M997 900.6h0M996.4 903.8h0M996.2 903.8h0M996.9 903.2h0M996.2 909.2h0M996.8 913.4h0M996.4 911.7h0M996.4 914.3h0M996.4 917h0M996.3 915.1h0M996.2 920.2h0M996 927.7h0M996.7 928h0M996.4 927.4h0M996.6 932.3h0M995.9 935.9h0M996.3 935.2h0M997 935.8h0M996.9 940.1h0M996.2 941h0M996.5 942.8h0M996.2 942.2h0M997 946.8h0M996.4 945.9h0M996.3 952.2h0M999.8 953.8V1012.6M1000.1 762.1h0M999.1 767.7h0M999.2 792.9h0M999.4 808.6h0M999.2 815h0M999.4 818h0M1000 817.6h0M998.8 828.9h0M999.7 861h0M1000.1 876.1h0M999.9 887.7h0M998.9 890.1h0M1000 904.2h0M999.7 906.6h0M999.9 914.9h0M1000.2 922.2h0M999.2 919.3h0M999.2 921.2h0M999.2 923.1h0M999 929.1h0M999.5 939.9h0M999 941.5h0M999.4 948.4h0M999.9 947.5h0M1000.1 952h0M999.3 950.3h0M999.1 952h0M998.7 754.2h0M1003.3 952.1V992.6M1003 1001.3V1015.4M1001.8 818h0M1001.9 840.2h0M1002.8 842.5h0M1002.7 862h0M1002.4 865.5h0M1003.2 872.1h0M1002.7 873.1h0M1002.3 897.6h0M1003.2 895.2h0M1002.7 908.7h0M1003.2 922.5h0M1002.8 936.1h0M1002.6 756.7h0M1005.4 953.8V1016.9M1005.3 774.9h0M1005.5 777.7h0M1004.8 782.9h0M1005.4 817.7h0M1005.3 817.1h0M1006 826.9h0M1005.4 865.5h0M1005.9 865.3h0M1005.1 877.3h0M1005.6 904.7h0M1005.8 903.5h0M1005.5 906.6h0M1005.9 928.4h0M1005.2 932.5h0M1005.1 934.3h0M1005.5 945.4h0M1005.6 947.2h0M1005.6 954h0M1005.5 759.2h0M1004.3 1019.8h0M1008.3 955.2V1016.7M1008.6 767.4h0M1008.6 785.4h0M1009.1 813.9h0M1009.1 823.7h0M1008.1 833.5h0M1008.1 831.1h0M1008 840.9h0M1008 840.5h0M1008.3 847.5h0M1008.5 853.1h0M1008.1 871.6h0M1007.8 873.8h0M1008.6 877h0M1008.5 879.3h0M1008.4 892h0M1008.6 892.3h0M1008.5 892.6h0M1008.9 897h0M1008.6 904.5h0M1008.4 906.2h0M1008.5 910h0M1008.7 913.3h0M1008 918.9h0M1008.5 920.1h0M1008.3 922.7h0M1008.6 923.4h0M1009.1 924.1h0M1008.7 934.4h0M1008.3 936.3h0M1008.4 943.9h0M1008.1 946.4h0M1008.4 948.3h0M1007.8 950.2h0M1007.9 948.4h0M1008.9 950.4h0M1008.7 949.5h0M1008.5 947.8h0M1008 951.8h0M1007.8 951.3h0M1008.5 761.8h0M1011.4 954.7V1015.8M1011.5 807.3h0M1011.5 831.1h0M1011.3 862.9h0M1011.7 925.9h0M1011.1 928.6h0M1012 935.3h0M1011.1 942.4h0M1011.7 952.1h0M1014 950.6V1020.2M1014.8 763.6h0M1014.4 767h0M1014.5 793.8h0M1015.1 802.1h0M1014 814.1h0M1014.3 818h0M1014.6 838.1h0M1014.2 846.5h0M1014.3 851.3h0M1014.5 852.2h0M1014.2 854h0M1015 858.1h0M1013.8 862.6h0M1014.6 869.5h0M1015.1 876.5h0M1015.2 875.1h0M1014.3 894.4h0M1014.6 892.3h0M1014.6 897.8h0M1014.4 909.8h0M1014.1 911.2h0M1015 911.8h0M1014.5 914.4h0M1015 921.7h0M1015 923.5h0M1014.5 922.4h0M1013.9 927h0M1014 931.8h0M1014.8 941.8h0M1013.9 948.7h0M1015.1 949.7h0M1015 950.8h0M1013.6 754h0M1018.2 951.2V1013M1017.4 792.9h0M1017.5 795.2h0M1017.5 814.1h0M1017.8 835.9h0M1017.1 838.3h0M1017.5 879.9h0M1017.8 888.1h0M1017.9 889h0M1017.2 898.9h0M1017.4 916.6h0M1017.9 923.8h0M1018.1 942.5h0M1017.4 945.4h0M1020.5 949.6V1012.5M1021.2 758.7h0M1019.9 784.6h0M1021.2 784.1h0M1020.5 816h0M1021.1 842.7h0M1021 850h0M1020.3 849.9h0M1021.1 856.2h0M1020.3 861.9h0M1020.9 863.1h0M1020.3 865.1h0M1020.1 868.3h0M1021 871h0M1020.9 877.6h0M1019.9 876h0M1019.8 880.3h0M1020.5 886.1h0M1020.8 883.9h0M1019.9 888h0M1021.1 887.4h0M1019.9 900.3h0M1020.4 904.3h0M1020.8 904.4h0M1020.7 910.9h0M1019.9 911.2h0M1021 917.6h0M1021.2 929.6h0M1020.9 933.7h0M1020.3 940.3h0M1019.8 941.6h0M1020.1 943.3h0M1021 946.5h0M1023.4 941.8V1007.2M1022.8 747.5h0M1024 750.3h0M1023.2 757.3h0M1023 775h0M1023.1 786.1h0M1023.5 807.4h0M1023.3 814.2h0M1023.1 838.5h0M1023.6 840.5h0M1023.9 842.7h0M1024.1 846.4h0M1023.9 864.7h0M1023.6 870.6h0M1023.3 872.9h0M1023.4 873.5h0M1024.1 873.8h0M1024.1 873.6h0M1024.1 880.1h0M1023.7 880.4h0M1023.9 893.6h0M1023.8 905.2h0M1023.8 904.4h0M1023.4 905.7h0M1023.6 911.9h0M1023.9 909.6h0M1023.5 913.3h0M1023.4 918.2h0M1023.2 934.5h0M1022.9 943.6h0M1027.1 916.3V1001.6M1027 704.3h0M1025.9 722.9h0M1027.1 730.8h0M1026.8 762h0M1026.8 764.6h0M1026.9 788.8h0M1025.9 792h0M1026.6 795.3h0M1026.3 800.5h0M1027.2 808.1h0M1026.9 812.6h0M1026.1 828.1h0M1027 842.8h0M1026.7 858.2h0M1025.8 865.8h0M1027 868.3h0M1026.3 872.7h0M1026.1 877.1h0M1027 893.6h0M1026.3 901.3h0M1026.5 905h0M1026.9 905h0M1026.5 906.9h0M1027 909.3h0M1028.6 874.1V987.8M1030 667.8h0M1030.1 701.8h0M1030 711.2h0M1029.8 738.4h0M1029.1 750h0M1030.1 751.9h0M1030 751.8h0M1028.9 764.2h0M1029 774.1h0M1029 783.8h0M1029 793.9h0M1029 805.5h0M1029.8 843.5h0M1029.2 852.2h0M1029.6 861h0M1029 642.5h0M1032.4 865.8V915.4M1032.3 918.4V990M1033 648.4h0M1032.3 657h0M1032.7 664.5h0M1032 705.7h0M1033.2 712.8h0M1032.6 716.3h0M1032.3 724.1h0M1031.9 736.8h0M1032.4 739.4h0M1033 744.4h0M1031.9 747.4h0M1033 744.8h0M1032.9 747.9h0M1032.4 750.3h0M1033.1 752.5h0M1031.9 757h0M1031.9 758.5h0M1032.3 760.5h0M1032.1 759.8h0M1033.1 768.1h0M1032 770.8h0M1031.9 772.5h0M1031.9 775h0M1032.7 780.4h0M1032.9 781.8h0M1032.2 786.7h0M1032.2 793.7h0M1032.6 800.1h0M1032.4 803.8h0M1032.7 803.2h0M1032.3 806.6h0M1033 805.3h0M1033.1 805.7h0M1032.9 812.8h0M1031.8 818.4h0M1032.1 820.4h0M1032.1 826.5h0M1033.1 826.9h0M1033.1 830.6h0M1032.7 836.7h0M1032.7 834.7h0M1032.3 838.7h0M1032.4 840.5h0M1032.6 838.5h0M1032.7 839.9h0M1033 843.2h0M1032.9 843.6h0M1033.1 846.9h0M1032.6 852h0M1033.1 850.6h0M1032.9 858.1h0M1032.8 858.4h0M1032.7 860.5h0M1033.1 860.6h0M1032.8 862.6h0M1031.9 862.6h0M1032.9 863.8h0M1031.6 639.5h0M1035.9 864V996.6M1035.7 652.4h0M1035.7 691.2h0M1035.1 692.4h0M1035.5 691.9h0M1036.1 711.6h0M1035.7 725.1h0M1035 730.8h0M1036.2 735h0M1035.5 742.6h0M1036.1 752h0M1035.3 765.4h0M1035.7 768.7h0M1036.1 770.2h0M1035.9 778h0M1035.7 783h0M1035.1 789.4h0M1035.6 795.2h0M1035.2 807.7h0M1035 812.3h0M1035.3 829.7h0M1035.5 840.6h0M1035.6 841.6h0M1035.7 848.5h0M1035.6 849.9h0M1034.8 643.4h0M1038.8 870.9V937.4M1038.7 940.4V969.6M1037.8 972.6V1009.6M1038.4 663.8h0M1038.7 676h0M1038.7 692.7h0M1039 693.2h0M1038 698.6h0M1038.6 703.8h0M1039.1 717.2h0M1038.6 717.3h0M1037.9 716.3h0M1038.6 719.3h0M1038.7 723.4h0M1038.6 724.4h0M1038.2 734.3h0M1038.7 739.9h0M1038.6 758.9h0M1038.2 765.8h0M1037.8 771.5h0M1038.2 779.6h0M1037.9 785.4h0M1038.7 791h0M1038.6 793.7h0M1038.7 802.1h0M1038.4 806.6h0M1038.7 808.7h0M1038.5 812h0M1038.5 814.2h0M1038.7 815.2h0M1038.8 819.6h0M1038 820.1h0M1039.1 819.8h0M1039 827.1h0M1038.3 826.1h0" fill="none" stroke="#1f77b4" stroke-width="6.1" stroke-linecap="round"/>
<path d="M1038.9 834.2h0M1038.3 832.9h0M1037.9 836.4h0M1038.8 837.8h0M1039 852.2h0M1038.7 855.9h0M1038.8 864.5h0M1038 865.8h0M1038.9 868.2h0M1037.9 869.2h0M1038.7 872.6h0M1041.6 918.5V1015.8M1041.1 719.4h0M1041.8 723.2h0M1041.4 754.6h0M1041 760.8h0M1041 779.1h0M1041.2 781h0M1041.2 786.2h0M1041.7 806.6h0M1041 808.8h0M1041.8 814.1h0M1041.1 823.7h0M1041.2 845.8h0M1041.9 872.9h0M1041 887.4h0M1041.2 889.7h0M1041.1 894.4h0M1041.5 901.5h0M1040.8 906.8h0M1041.8 911.2h0M1042.1 912.4h0M1044.5 941.8V991.4M1045.4 994.4V1005.3M1045 1008.3V1014.2M1044.2 818.8h0M1045.1 821.2h0M1044.8 822h0M1044.5 851.3h0M1043.9 857.3h0M1043.9 860.3h0M1044.7 866.6h0M1044.1 869.5h0M1044.8 876.4h0M1044.1 875.6h0M1045.1 901.2h0M1044.5 909.4h0M1044 917.6h0M1044.2 920.4h0M1044.1 935.5h0M1045 941.9h0M1043.8 942.4h0M1045 942.8h0M1048.7 944.3V1013.1M1047.7 893.7h0M1046.8 908.2h0M1048.1 936.5h0M1048.2 946h0M1047.8 946.8h0M1047.4 947h0M1050.3 950.2V1017.1M1050.1 919.8h0M1049.9 932.3h0M1050.9 936.9h0M1053 947V1018.1M1054.1 934h0M1054.9 1021.3h0M1055.5 943.1V1017.4M1056.4 934.5h0M1056.1 939.9h0M1056.9 940.8h0M1056.4 946h0M1059.7 939.5V1018.2M1059.9 927.1h0M1059.5 937.5h0M1062.8 942.2V1017.7M1062.4 935.6h0M1065.6 941.2V1019.4M1065.5 919.4h0M1065.5 936.3h0M1069.5 940.3V951.1M1068.9 961.1V1021.6M1068.5 919h0M1072.7 936.7V1023.8M1072.2 917.6h0M1071.9 921.8h0M1071.7 927.8h0M1073.3 936.8V1022.5M1074.1 926.8h0M1078.3 934.7V1024.4M1077.1 908.7h0M1077.9 923.1h0M1077.5 923.6h0M1077.1 924.2h0M1077.2 938.5h0M1081.4 936.3V950.3M1080.4 953.3V1022.3M1080.9 908.7h0M1080.3 920.5h0M1081 925.2h0M1080.8 927.8h0M1080.8 929.1h0M1080.5 933.6h0M1084 942V1021.3M1083.5 935.2h0M1083.3 936.9h0M1083.6 940.2h0M1083.9 914.3h0M1085.9 950V1022.7M1087.2 940.9h0M1086 939.2h0M1086.1 943.4h0M1086.5 945.2h0M1086.8 946.3h0M1090.6 960V984.4M1090.2 987.4V1022M1089 958.7h0M1089.8 960h0M1090.5 1028.7h0M1088.6 1030.1h0M1092.9 967.1V1025.5M1093.1 964.4h0M1092.2 966.2h0M1092.1 968.7h0M1092.9 969h0M1094.6 972.9V1022.6M1094.9 970.1h0M1098.8 971V1024.2M1098.6 969.2h0M1098.4 955.3h0M1102 965.8V970.8M1101.5 979.3V1023.8M1101 959.6h0M1101.3 961.3h0M1101.9 964.7h0M1104.4 960.8V964.4M1103.8 967.4V1024.2M1104.5 936.8h0M1104.8 940.1h0M1103.8 958h0M1103.8 963.1h0M1103.9 962.1h0M1104.7 933.7h0M1107.7 961.2V1022.6M1107.8 959.7h0M1110.3 969V1024.8M1110 966.8h0M1113.5 967.8V1026.1M1114.1 964.7h0M1113.2 969.4h0M1113.7 967.4h0M1113.2 945.6h0M1116.6 966.3V1024.9M1120 968.4V1024.1M1119.1 963h0M1120.2 962.4h0M1120.5 1029.8h0M1122.2 963.3V1026.4M1123.2 924.4h0M1126 924V1026M1125.9 906.2h0M1125.6 920.5h0M1125.1 919.8h0M1125 925.6h0M1128.6 921.5V1028.6M1129.2 907.6h0M1128.6 914.9h0M1130.9 974.2V1025.5M1130.5 963h0M1133.3 973.1V1025.7M1136.7 973.1V1028.7M1137.2 966h0M1138 970.3h0M1138.1 970.3h0M1138.1 957.8h0M1140.4 968.9V1025.4M1140.4 965.9h0M1140.8 968.3h0M1140.4 967h0M1141.4 954.1h0M1143 971V1004.8M1142.3 1007.8V1027.3M1143.9 960.1h0M1146 972.7V1028.1M1147 968.1h0M1146.8 969.6h0M1145.7 954.3h0M1149 973.8V1026.9M1149 968.9h0M1149 930.3h0M1153.2 968.7V1025.6M1151.8 947.3h0M1152.8 961.2h0M1152.9 971.5h0M1155.4 973.1V1026M1156 968.8h0M1155.2 969.6h0M1158.5 972.4V1026.7M1161.8 970.7V1028M1161.3 1030h0M1163.9 968.9V1024.3M1165.1 943.5h0M1164.7 965.2h0M1164.1 966.7h0M1164.2 967h0M1166.5 968.6V1026.9M1167.4 961h0M1167.4 965.7h0M1166.8 965.5h0M1167.8 966.3h0M1167.9 945.6h0M1169.9 965.5V1023.9M1170.8 966.6h0M1172.6 963.9V1025.6M1172.8 954.2h0M1173.1 953.6h0M1174.2 961.1h0M1174.1 964h0M1173.9 963.5h0M1173.3 968.4h0M1176.5 966.2V1025.9M1176.1 962.4h0M1176.8 963.9h0M1179.4 968.5V1024M1179.9 967.2h0M1179.1 929.5h0M1182 969.9V1029M1182.5 957.7h0M1185.5 966.2V1028.7M1185.3 960.3h0M1185 963.1h0M1185.5 966h0M1186.1 949.9h0M1188.8 964.8V1026.9M1188.5 961.1h0M1188.2 961.1h0M1188.7 962.4h0M1190.6 966.5V1026.1M1191.4 948.1h0M1191.6 964.7h0M1192.1 963.7h0M1194.4 963.9V1027.4M1194.2 957.3h0M1194.5 965.6h0M1197.7 968.5V1028.9M1197.1 968h0M1199.7 964.4V1027.7M1200.4 956.9h0M1203.5 966.6V1026.3M1203 965.5h0M1207.1 967.8V1024.5M1206.5 956.9h0M1209.8 947.6V1024.6M1209.5 881.6h0M1210.1 896.4h0M1210 912.8h0M1209.7 914.6h0M1209.6 915.2h0M1210 923.5h0M1209.1 925.4h0M1209.9 932.6h0M1210 939.8h0M1210.1 942.9h0M1210.4 866.5h0M1213 929.3V1028.1M1212.3 893.6h0M1213 907.2h0M1212.7 918.3h0M1213.1 922.7h0M1212.8 923.5h0M1215.6 959.7V1027.3M1215.7 929.8h0M1217.6 959.3V998.3M1218.1 1008.1V1026.7M1218.8 943.1h0M1219.1 945.9h0M1218.1 954.6h0M1219.1 957.9h0M1219.1 958.8h0M1218.5 930.7h0M1222.2 959.8V1023.9M1225.2 968.6V1003.7M1224.3 1006.7V1025.7M1226.9 963.2V995.7M1227.3 998.7V1027.1M1227.6 962.4h0M1227.1 963.6h0M1230.8 960.3V1025.8M1230.3 949.1h0M1233.1 963.2V1023.9M1233.4 945.6h0M1233.3 949.4h0M1233.2 958.8h0M1234 941.3h0M1236.8 955.5V1022.8M1236 936.3h0M1240 948.3V1021.1M1239.7 937h0M1240 943.3h0M1239.2 918.1h0M1242.9 940.8V1005.1M1242.4 1008.1V1024.6M1242.4 908.7h0M1245 938.3V1022.1M1245.9 922.6h0M1245.7 928.3h0M1246.2 927.9h0M1245.9 937.9h0M1246 901.5h0M1248.1 931V1024.1M1249.1 921.8h0M1247.8 925.1h0M1248.8 927.5h0M1248.7 928.4h0M1249 933.2h0M1248.2 931.7h0M1251.8 929.5V1020.5M1251.3 899.8h0M1251.3 905.9h0M1251.1 913.1h0M1251.7 920.7h0M1251.6 924.1h0M1251.3 926.2h0M1251.7 925.5h0M1251.2 925.2h0M1252.2 885.8h0M1254.3 923.4V983.9M1254.5 986.9V998.6M1253.8 1001.6V1020M1255.1 884.2h0M1254.2 921.6h0M1255.1 926.6h0M1253.6 1023.6h0M1257.7 921.1V1021M1257.2 903.8h0M1257 924.7h0M1261.1 923.1V1020.8M1260.1 896.5h0M1259.9 903.1h0M1260.9 903.5h0M1260.9 917.8h0M1263.6 926V1020.1M1266.4 925V1023M1266.4 915.1h0M1265.8 916.1h0M1266.6 918.2h0M1266.6 923.7h0M1270.3 929.4V1021M1269.6 926.2h0M1272.8 928.5V1012.9M1272.4 1015.9V1022.1M1272.6 919.8h0M1272 930.7h0M1272.3 929.1h0M1275.6 930.5V1019.6M1275 926h0M1278 923.6V1020.9M1278.9 905.9h0M1282.4 924.6V1021.7M1281.2 915.3h0M1280.8 921.4h0M1284.8 929.1V947.5M1285.5 950.5V1021.1M1284.2 916.3h0M1284.9 916.5h0M1285.2 919h0M1285 921.8h0M1284.3 925.8h0M1284.8 887.4h0M1287.7 932.6V1019.4M1287.2 879.9h0M1287.5 922h0M1288.2 925.4h0M1287.2 876.4h0M1290.9 930.1V961.3M1291 964.3V1018.4M1290.9 874.8h0M1290.5 912.7h0M1290.9 915.5h0M1290.1 922.1h0M1289.9 934h0M1293.7 930.8V1016.2M1292.9 854.6h0M1293.1 867.3h0M1293.1 873.7h0M1293.8 887.2h0M1293.7 888.3h0M1293 894.6h0M1293.1 896.1h0M1294.1 897.7h0M1293.7 902.2h0M1293.3 906.6h0M1293.8 906.4h0M1292.8 906.2h0M1293.8 919.3h0M1292.9 918.3h0M1293.1 923.2h0M1293.8 925.9h0M1292.9 924.6h0M1292.9 925.9h0M1293.6 926.6h0M1294.2 927.9h0M1293 927.6h0M1296.1 924V936.5M1296.4 939.5V971.7M1296 981V994.1M1296.4 1004.9V1016.5M1296.1 870.1h0M1296.3 874.8h0M1296.9 907.1h0M1297.1 909.2h0M1295.9 923h0M1299.4 921.3V1002M1298.6 1005V1014.9M1298.8 860.5h0M1299.8 862.4h0M1299.1 879.5h0M1300.1 888.9h0M1299.7 900.5h0M1299.8 903.6h0M1299.5 912h0M1299.7 915.8h0M1299.2 918.1h0M1299.4 832.3h0M1302.8 918.5V1015.4M1302.3 828h0M1302.7 841.1h0M1303.2 854.7h0M1302.5 855h0M1301.8 861.2h0M1302.9 861.1h0M1302.2 870.6h0M1302.3 877.9h0M1302.4 876.8h0M1303 880.3h0M1302.9 883.3h0M1303.1 884.1h0M1302.4 886.6h0M1302.4 892.5h0M1303.1 891h0M1302.9 892h0M1302.6 900.4h0M1302 904.3h0M1302.8 904.9h0M1303.1 906.6h0M1302.2 909.3h0M1302.5 909.2h0M1301.9 910h0M1302.9 912.8h0M1303.2 911.5h0M1302.8 916.7h0M1305.9 916.1V1018.9M1306.1 815.3h0M1306.1 827.8h0M1306 832.1h0M1305.1 834.8h0M1305.7 846.6h0M1305.3 856.1h0M1306.1 867.7h0M1305.6 882.1h0M1305.7 880.2h0M1305.5 884.2h0M1305.4 885.7h0M1304.8 887.4h0M1305.6 888.5h0M1305.7 908h0M1305 912.1h0M1305.4 911.4h0M1309.4 913V1012.2M1308.7 837.5h0M1308.6 872.4h0M1308.7 883.9h0M1308.5 900.2h0M1309.3 799.2h0M1311.4 907.1V933.4M1312 944.6V1013.9M1312 811.7h0M1312 813.5h0M1312 822.9h0M1311.8 838.5h0M1311.8 841.6h0M1311.7 852.5h0M1312.2 860.4h0M1311.2 860.3h0M1311.9 862.9h0M1310.9 863.7h0M1311.3 864.8h0M1310.9 869.2h0M1311.7 870.3h0M1311.1 870.7h0M1311.7 887.4h0M1311.8 895.7h0M1311.8 895.7h0M1312 788.2h0M1315.3 899.8V1016.1M1313.9 787.7h0M1315 799h0M1314 804h0M1314.4 806.4h0M1314.4 818.6h0M1314.3 817.8h0M1314.9 832.2h0M1314.7 838.7h0M1315 838.3h0M1314.9 843.2h0M1314.8 855.7h0M1314.2 858.6h0M1315 862h0M1314.4 866.9h0M1314.6 877.1h0M1314.1 877.9h0M1315.2 876.7h0M1314.5 884.9h0M1314.3 883.4h0M1314.8 887.6h0M1313.9 886.4h0M1314.5 891.4h0M1314.8 894.3h0M1315.1 897.5h0M1317.2 893.9V1016.1M1317.9 765.1h0M1316.9 765.3h0M1317.2 767.6h0M1317 777.7h0M1318.2 777.9h0M1317.1 779.2h0M1318 782.3h0M1316.9 790.4h0M1317.4 789.2h0M1317.9 797.5h0M1318 807.8h0M1317.3 806.3h0M1317.2 806.2h0M1317.9 810.2h0M1316.9 809.3h0M1317.6 809.5h0M1318 813h0M1318 817.8h0M1317.3 817.8h0M1317.7 821.9h0M1318.1 825.4h0M1317.4 826.1h0M1317.6 825.6h0M1316.8 827.7h0M1317.2 826.6h0M1317.1 832.2h0M1317.2 832.9h0M1318.2 836.9h0M1316.8 841.9h0M1316.9 844.3h0M1317.2 846.7h0M1317.3 846.9h0M1317.8 849.7h0M1317.5 853.7h0M1318.1 859.3h0M1317.1 860.3h0M1318.2 859.9h0M1317.1 862.9h0M1317.2 863.8h0M1317.5 866.3h0M1316.8 870h0M1317 871.9h0M1318 874.2h0M1317.9 875.8h0M1317 877.9h0M1316.8 878h0M1316.9 881.8h0M1318 884.2h0M1317.8 883.9h0M1317.4 885.6h0M1316.8 885.9h0M1317.8 887.4h0M1317.1 891.7h0M1317.9 891h0M1317.5 890.2h0M1316.8 889.5h0M1317.4 893.4h0M1316.8 895.4h0M1318.1 892.5h0M1317.8 898.1h0M1317.6 897.1h0M1317.7 897.4h0M1317.2 896.7h0M1320.8 893.5V1014.9M1320.4 772.8h0M1320.2 779.5h0M1320.4 786.3h0M1320.7 797.1h0M1320 810.4h0M1321 813.8h0M1320.1 823.8h0M1320.1 822.7h0M1320.2 826.9h0M1319.9 830.8h0M1320.1 831.7h0M1320.3 836.9h0M1320.4 842.5h0M1320.2 847.9h0M1321 846.8h0M1320 854.9h0M1320.7 855.5h0M1320.8 861.9h0M1320.6 867.5h0M1320.9 871.5h0M1320.7 874.2h0M1320.9 873.2h0M1320.7 877h0M1320 876.6h0M1320.2 879.3h0M1320 879.8h0M1321.2 881.5h0M1320.8 881.3h0M1320.2 884.5h0M1320.2 887.3h0M1319.9 886.5h0M1320 890.6h0M1320 888h0M1321.3 758.9h0M1322.5 890V1013M1323 795.9h0M1323.6 797.5h0M1323.2 844.4h0M1323 846h0M1323.8 856.3h0M1324 857.8h0M1323.7 870.3h0M1323.9 873h0M1322.9 879.1h0M1323.9 880.3h0M1323.8 882.2h0M1323.5 884.6h0M1327.2 880.8V910.7M1327.1 913.7V1015.5M1326.7 753.7h0M1326.4 761.7h0M1326.7 767.8h0M1327.1 785h0M1326.2 793.2h0M1327 794.8h0M1327.1 795.2h0M1326.4 801.9h0M1326.5 822.8h0M1326.7 828.7h0M1325.9 842.8h0M1326.1 851.6h0M1326.1 861.3h0M1327.1 862.6h0M1326.1 867.8h0M1326.4 868.6h0M1326.8 872.1h0M1326.9 876.9h0M1327.2 876.3h0M1326 880.2h0M1329.3 877.1V1011.2M1328.9 753.4h0M1329.3 762.5h0M1329.7 762.9h0M1329.6 765.4h0M1330.1 782.2h0M1329 795.1h0M1329.8 798.8h0M1329.1 809.3h0M1329.9 814.4h0M1329.1 830.7h0M1329.6 835.9h0M1329 838.8h0M1329.8 842.5h0M1328.8 851h0M1329.3 857.5h0M1329.4 865.7h0M1329.2 870.3h0M1329.1 875.5h0M1329.5 874h0M1332.5 875.6V902.5M1332.7 912.5V1011.5M1332.5 728.1h0M1332.6 736.7h0M1333 751.6h0M1332 786.7h0M1331.9 813.1h0M1333 812.2h0M1333.2 816.2h0M1333.2 822.6h0M1331.9 832.2h0M1333.1 836.3h0M1331.9 839h0M1332.2 840h0M1333.1 844.8h0M1332.4 843.1h0M1333.2 853.9h0M1332.6 862.4h0M1336.1 868.5V980.5M1335.6 983.5V1012M1335.9 711.9h0M1335.2 724.4h0M1335.7 732.9h0M1336 733.6h0M1335 737.1h0M1335 740.5h0M1335.7 745.4h0M1335.6 749.7h0M1334.9 754.4h0M1336.2 759.6h0M1335.7 762.1h0M1335.2 767.3h0M1335.5 769h0M1336.1 780.6h0M1335.3 780.2h0M1336.1 788.2h0M1336 790.8h0M1335 792.6h0M1336.1 796.8h0M1335.6 799h0M1335.8 812.1h0M1336.1 817.4h0M1335.6 815.9h0M1336 823.4h0M1335.6 824.8h0M1335.1 827.7h0M1335.1 831.1h0M1335.9 831.2h0M1334.9 838h0M1335.2 845.3h0M1335.2 846.9h0M1334.9 846.2h0M1334.8 851.3h0M1335.7 856.5h0M1335.1 858.9h0M1335 858.5h0M1336 865.5h0M1334.9 866.9h0M1338.1 862.7V1010.9M1338.8 721.5h0M1337.8 725.2h0M1338.3 727.5h0M1339.1 736.1h0M1338.1 746.7h0M1339.2 744.9h0M1338.7 749.9h0M1338 751.6h0M1338.5 757.5h0M1338.7 761h0M1338.6 762h0M1338.8 763.9h0M1339.2 776.6h0M1338.2 777h0M1338.2 774.9h0M1338.9 781.4h0M1339 793.6h0M1338.6 801.2h0M1338.5 799.8h0M1338.7 805.1h0M1338.9 804.4h0M1338.6 809.2h0M1338.7 809.9h0M1338.8 813.1h0M1338.8 814.9h0M1338.6 814.8h0M1339.1 820.4h0M1338.3 820.9h0M1338.8 824h0M1338.3 827.8h0M1338.1 826.2h0M1338.9 830.5h0M1337.8 838.2h0M1338.6 842.2h0M1338.3 840.9h0M1338.5 840.5h0M1337.8 845.7h0M1338.9 843.6h0M1338.9 844.7h0M1338.4 846.3h0M1338.8 847.2h0M1339 849.1h0M1338.4 854.8h0M1338.4 854.5h0M1338.7 856.2h0M1338.7 857.6h0M1339.2 856h0M1338.8 855.9h0M1338 864.2h0M1342.7 857.9V1014.4M1341.4 816.8h0M1340.8 822.6h0M1343.8 854.5V914.1M1344.6 917.1V983M1343.6 990.2V1009.6M1344.1 701.9h0M1344.9 714.3h0M1343.8 724.1h0M1344.1 730.2h0M1344.4 736.7h0M1344.6 741.9h0M1344.7 756.3h0M1344.1 764.7h0M1344.8 765.3h0M1343.9 778.9h0M1344.6 777.4h0M1344 780.7h0M1344.1 786h0M1344 792.8h0M1344.6 796h0M1344.5 799.4h0M1344.9 801.1h0M1344 802h0M1344.4 803.2h0M1344.7 808.5h0M1344.1 810.7h0M1344.6 811.2h0M1344.8 814.8h0M1344.2 816.3h0M1343.9 815.9h0M1344.9 817.1h0M1344.7 818.9h0M1343.8 820.2h0M1344.9 819.4h0M1344.9 820.2h0M1343.8 821.8h0M1345.1 828.1h0M1345 832.9h0M1344 832.8h0M1344.6 831.3h0M1345.1 834.1h0M1344.6 841.9h0M1344.6 845h0M1344.7 846h0M1344.8 847.8h0M1345 845.5h0M1344.5 849.4h0M1344.6 850.8h0M1344.3 852.2h0M1344.5 851.7h0M1344.1 851.8h0M1347.9 853.6V992.5M1347.6 995.5V1012.9M1347.7 701.7h0M1347.4 707h0M1347.9 714.9h0M1346.9 731.2h0M1347.2 735.5h0M1348.1 733.8h0M1347.7 752.7h0M1347.3 761.4h0M1346.8 764.4h0M1347.3 772h0M1347.2 776.5h0M1346.9 780.6h0M1347 791.4h0M1347.6 794h0M1346.9 802.3h0M1346.9 804.3h0M1347.6 813.3h0M1347.2 823.7h0M1347.3 828.4h0M1347.1 828h0M1347 830.6h0M1348.2 848.8h0M1347.4 847.5h0M1347.5 852h0M1350.7 849.1V1012.9M1350.5 702.5h0M1350.8 738.3h0M1350.9 754.5h0M1349.9 753.1h0M1350.4 757.1h0M1350.3 756.6h0M1350.7 762.5h0M1349.9 764.7h0M1349.9 775.6h0M1350.6 775.1h0M1350.3 781.4h0M1351.2 783.1h0M1350.8 786.8h0M1350.1 788.8h0M1349.8 791.9h0M1350.7 803.2h0M1350.4 806.2h0M1350.8 806.5h0M1350.8 808.7h0M1350.9 809.5h0M1350.6 808.3h0M1350 807.3h0M1350.7 809.2h0M1351.1 811.8h0M1350.3 812.7h0M1351 815.2h0M1349.9 813.8h0M1350.4 821.8h0M1350 826.1h0M1350 834.6h0M1351.1 837.7h0M1350.4 843h0M1350.7 841.7h0M1350.3 843.6h0M1350.8 845.5h0M1349.9 844.5h0M1350.8 845.8h0M1350.9 844.9h0M1350.2 696.1h0M1352.3 844.5V1012.9M1353 711.9h0M1353.3 729.5h0M1353.2 744.8h0M1353.6 755.5h0M1352.8 763.1h0M1353.5 772.8h0M1353.7 775.6h0M1354.1 780h0M1353.8 787.6h0M1353.4 789.8h0M1354 796.2h0M1353 796.9h0M1352.9 795.7h0M1352.9 798.8h0M1353.4 800.4h0M1353.6 802.9h0M1353.7 801.7h0M1353.2 809.9h0M1353.2 812.4h0M1353.9 821.8h0M1353.5 823.2h0M1352.8 833h0M1353.1 833.7h0M1352.9 841.2h0M1352.8 839.8h0M1354 840.2h0M1357.1 835.8V1012.1M1356.8 705.3h0M1355.9 754.5h0M1356 756.9h0M1357.2 762.6h0M1356.2 761.2h0M1357.2 764.6h0M1356.5 774.3h0M1356.8 782.8h0M1356.5 796.1h0M1356.2 814.6h0M1356.6 818.6h0M1356.1 818.5h0M1356.8 830.6h0M1357.2 831.7h0M1356.4 834.6h0M1356.3 834.4h0M1356.6 837.7h0M1356 837.8h0M1356.3 836.1h0M1359.4 833.8V979.1M1359.9 982.1V989.4M1359.8 992.4V1011.5M1360 702.8h0M1359.8 722.2h0M1359.9 727.7h0M1360.1 730.4h0M1359.1 757h0M1360.1 780.6h0M1359 784h0M1359.7 785.6h0M1359.6 785.6h0M1359.4 785.7h0M1359.3 786.4h0M1359.1 791.3h0M1359.3 794.6h0M1358.9 801.8h0M1359.7 808.3h0M1358.8 809.6h0M1358.9 810.6h0M1359.9 813.2h0M1360.2 813.9h0M1359.7 814.8h0M1360.1 817h0M1359.3 823.7h0M1359.8 824.1h0M1359.2 827.3h0M1359.3 833.2h0M1359.3 833.4h0M1358.5 690.3h0M1362.1 832.7V906.1M1362.3 916.6V1010.1M1362.5 699.6h0M1362.2 720.2h0M1361.8 732.5h0M1361.9 731.6h0M1362.2 739.3h0M1361.8 757.3h0M1362.7 759.8h0M1362.7 761.4h0M1362.7 765.5h0M1362.1 768.9h0M1362.2 766.8h0M1362.7 778.2h0M1362.5 784.9h0M1362.4 784.7h0M1362.1 788.2h0M1362.3 795.9h0M1361.9 798.4h0M1362.1 797.6h0M1362.1 801.1h0M1361.9 800.2h0M1362 807.8h0M1361.9 805.8h0M1362.9 809.6h0M1362.9 811.8h0M1362.4 815h0M1361.9 816.3h0M1363.1 816.7h0M1362.8 819.9h0M1363.1 819.9h0M1362.2 821.2h0M1362 823h0M1362.5 828.4h0M1362.8 827.5h0M1364.9 824.1V911.3M1365.2 914.3V1006.4M1365.1 685.2h0M1365.8 700.5h0M1365 711h0M1365.2 717.9h0M1364.9 727.7h0M1366.1 740h0M1365 761.2h0M1365.7 760.4h0M1366.2 762.5h0M1366 774.7h0M1365.4 773.8h0M1365.6 778.4h0M1366.1 780.4h0M1365 792.8h0M1365.5 817.8h0M1364.9 819h0M1365.2 822.7h0M1367.4 826.7V913.5M1368.4 916.5V947.9M1367.5 950.9V1005.3M1369 680.5h0M1369 709.8h0M1368.2 715.5h0M1368.5 732.7h0M1368.5 731.4h0M1369 739.5h0M1368.3 743.4h0M1368.2 745.1h0M1368.1 753.3h0M1368.8 768.1h0M1368.1 777.6h0M1368 781.1h0M1368.6 780.5h0M1369.1 780.6h0M1368.4 782h0M1368.8 787.4h0M1368.6 792.3h0M1368.2 795h0M1368.3 798.9h0M1368.2 797.2h0M1369.1 802.6h0M1368.9 803h0M1368.2 808.2h0M1368.3 816.3h0M1368.9 819.8h0M1368.2 820.6h0M1368.2 822.7h0M1368.6 824h0M1367.9 826.1h0M1368.6 825.4h0M1371.5 819.3V839.9M1371.8 842.9V952.5M1372.4 962.7V1004.1M1370.9 683.9h0M1371.2 689.1h0M1371.9 716h0M1371.6 722h0M1371.7 722.2h0M1371.2 720.4h0M1371 726.9h0M1372.1 750.8h0M1370.8 767.6h0M1370.8 775.6h0M1370.8 775h0M1370.8 775h0M1371.3 785.8h0M1371.4 786.8h0M1370.8 793.4h0M1372.1 798.2h0M1372.1 810h0M1371.7 810.9h0M1371.7 820.9h0M1371 1009.3h0M1372.3 1014.7h0M1374.6 817V947.2M1374.5 950.2V1001.7M1374.4 675.3h0M1374.7 693.7h0M1374.7 703.8h0M1375.1 711.2h0M1374.4 715.1h0M1374.2 716.8h0M1375 724.5h0M1375 730.9h0M1374.7 735.4h0M1374.2 738.3h0M1374.2 752.4h0M1373.9 758.4h0M1374.3 761.6h0M1374.1 771.9h0M1374.7 770.8h0M1374 769.5h0M1373.9 777.7h0M1374.1 778.5h0M1375.1 789.5h0M1375 801.3h0M1374.6 804.6h0M1374.8 810.6h0M1375 810.5h0M1375.1 816.9h0M1375.1 1010.6h0M1374.4 1014.5h0M1377.9 816.7V998.1M1376.8 690.5h0M1378.1 732.9h0M1376.8 755.7h0M1378 763.5h0M1376.8 766.5h0M1377.9 776.7h0M1377.5 775.9h0M1377.9 778.8h0M1377.5 794h0M1377.1 794.5h0M1377.5 802h0M1377.4 807.8h0M1378 811.3h0M1377.1 815.3h0M1377.6 815h0M1377.8 812.9h0M1377.4 817.7h0M1377.1 671.8h0M1379.5 813.7V918.9M1379.4 921.9V997.2M1381 687.2h0M1380.9 685.8h0M1380.8 696.4h0M1379.9 724.5h0M1380.9 737.3h0M1381.1 741.7h0M1380.7 740h0M1380.8 757h0M1380.7 770h0M1380.6 772.7h0M1380.6 779.4h0M1380.8 784.2h0M1379.9 782.3h0M1380.6 784.6h0M1380.4 785.5h0M1380.5 785h0M1380.2 793.6h0M1380.9 797.9h0M1380 804.2h0M1381.1 807.3h0M1381 807.9h0M1380.2 807h0M1381.1 813.5h0M1380.5 811.5h0M1381.1 812.6h0M1383 813.5V818.8M1382.7 828.7V962.9M1383.2 965.9V995.3M1383.8 676.9h0M1383.1 704.2h0M1382.9 712.8h0M1383.5 712.7h0M1383 715.5h0M1382.9 724.1h0M1383.1 733.8h0M1382.9 745.4h0M1383.5 751.2h0M1383.5 751h0M1383.1 763.1h0M1384.1 771.4h0M1383.2 775.9h0M1384.1 779.8h0M1383.1 784.8h0M1384.1 792.4h0M1383.1 798.2h0M1383.2 797.8h0M1383.9 803.8h0M1383.3 805.1h0M1383.3 802.9h0M1383.8 809.9h0M1383.4 812.8h0M1383.7 813.6h0M1386.9 813.3V823.2M1386.3 826.2V890.5M1387.2 893.5V996.9M1387.1 676.2h0M1385.9 696.3h0M1386.5 700.8h0M1385.9 710h0M1386.9 716.2h0M1386.5 717.3h0M1386.6 726.3h0M1386 730.7h0M1386.1 740.7h0M1386 739.2h0M1386.8 746.3h0M1386.5 759.1h0M1386.7 759.5h0M1386.5 764h0M1385.8 767h0M1386 770.5h0M1386.2 769.7h0M1386.4 784.8h0M1387 787.6h0M1386.8 789.5h0M1386.6 796.6h0M1385.9 799h0M1385.8 800h0M1386.5 803.8h0M1386.7 803.7h0M1385.8 803.1h0M1387.1 805.2h0M1385.4 1007.2h0M1385.9 1010.5h0M1389 806.3V947.3M1388.9 954.6V984.2M1388.8 987.2V998.2M1389.4 664.5h0M1389.2 684.6h0M1389.4 688.1h0M1390.1 693.1h0M1389.7 700h0M1389.8 701.1h0M1389.4 709.3h0M1390.2 719.8h0M1389.3 732.4h0M1388.9 733.6h0M1389.1 752.1h0M1389.4 755.1h0M1390.2 760.9h0M1389 762.9h0M1389.9 767.2h0M1389.2 774.9h0M1389.1 774.5h0M1389 786.5h0M1389.5 791.1h0M1389.2 792h0M1389.8 797.2h0M1389.2 796.5h0M1389.9 799.8h0M1389.4 800.2h0M1388.9 802.9h0M1389.1 802h0M1388.9 802.2h0M1390.2 803.4h0M1388.7 998.9h0M1392.4 807V997.8M1393.1 660.6h0M1392 677.1h0M1392.1 701.9h0M1392.4 734.8h0M1392.3 754.5h0M1392 761h0M1392.6 767.1h0M1392.7 768h0M1393.1 769.1h0M1392.2 773.1h0M1392.2 779.2h0M1392.1 779.9h0M1391.9 789.1h0M1392.9 793.3h0M1392.2 795.1h0M1392.4 800h0M1392.2 802.9h0M1392.5 801.9h0M1392.2 801.1h0M1393.1 804.2h0M1393.2 805.2h0M1392.1 804.1h0M1392.1 805.1h0M1392.4 805.7h0M1395.2 802.8V821.9M1395.2 833.8V912.4M1395.6 922.2V996.6M1395.5 681.7h0M1395.3 727.6h0M1394.9 739h0M1395 753.6h0M1395 756.8h0M1394.9 763.1h0M1395.1 765h0M1396.1 775.9h0M1396.1 784.6h0M1395 782h0M1397.8 803.7V1000.9M1398.2 652.4h0M1398.7 666.8h0M1399 676.3h0M1398 680.8h0M1397.9 688.9h0M1398.7 693h0M1399.1 715.2h0M1397.9 746.1h0M1398.9 745.3h0M1399 753.6h0M1398.4 756.3h0M1398.7 756.7h0M1399 758.8h0M1398.4 762.3h0M1398.3 766.6h0M1399 773.8h0M1398.1 772.3h0M1398.2 775.2h0M1398.6 780.1h0M1398.8 782.2h0M1397.9 782.1h0M1399 783.2h0M1398.6 790h0M1398.1 789.3h0M1398.9 788.7h0M1399.1 787.8h0M1398.6 789.6h0M1397.9 797.4h0M1398.7 796.3h0M1398.7 800.2h0M1401.7 800.3V935.6M1401.6 946.6V997.1M1401.6 678.7h0M1402.1 679.8h0M1401.6 689.5h0M1401 707h0M1402.1 731.2h0M1401.3 730.5h0M1401 750.4h0M1401.1 757.7h0M1402.1 770.9h0M1400.8 771.1h0M1401.8 772.3h0M1401.3 776.6h0M1402.1 777.2h0M1401.4 785.2h0M1401.2 645.6h0M1401.3 1005.5h0M1404.7 798.9V1001.3M1404.5 676.6h0M1405.1 686.7h0M1404 689.6h0M1404.7 695.4h0M1405.1 695.6h0M1403.9 727.9h0M1403.9 736h0M1404.6 737.6h0M1404.8 750.6h0M1404.1 760h0M1404.6 764.7h0M1404 764.3h0M1405.1 764.2h0M1405 764.3h0M1404.2 766.6h0M1404.3 769.1h0M1404.8 774.7h0M1404.6 774.2h0M1405 778h0M1404.6 778.4h0M1404.6 782.6h0M1405 785.6h0M1405 785.8h0M1404 787.7h0M1404.3 789h0M1404.2 789.9h0M1405.1 790.8h0M1404.4 792.8h0M1404.4 796.9h0M1404.1 1006.3h0M1403 1008h0M1407.8 792.8V810.9M1407.3 820.9V869.8M1407.6 872.8V1000.3M1407 670.3h0M1407.7 679.4h0M1408.1 686.6h0M1407.1 727.8h0M1407 725.6h0M1407 736.4h0M1406.8 743.2h0M1408.1 745.9h0M1407.5 756.1h0M1408 758.2h0M1408 759.3h0M1407.7 763.3h0M1407 771h0M1407.5 789.9h0M1408 1003.4h0M1407.4 1007.2h0M1408.9 1009.3h0M1409.6 792.9V865.4M1409.6 868.4V881.1M1409.7 884.1V997.4M1410.7 651h0M1410.7 664.8h0M1410.8 676.5h0M1410.4 674h0M1410.4 687.1h0M1410 694h0M1410.7 693.6h0M1410.3 707.3h0M1410.8 709.5h0M1410 714.3h0M1411 713.8h0M1410.6 723.1h0M1411.1 739.3h0M1410.3 738.2h0M1410.7 742.1h0M1409.8 750.5h0M1409.9 757h0M1410.9 757.7h0M1410.4 758.9h0M1410.5 762.5h0M1411 764.4h0M1410.5 766h0M1411.2 768h0M1411.1 773.6h0M1410.2 773.8h0M1410.5 777.6h0M1410 780.8h0M1411.1 781.1h0M1410.4 781h0M1410.6 778.9h0M1409.8 788.5h0M1410.4 1005.7h0M1412.9 791.3V829.7M1413.2 841.6V861.1M1413.7 869.8V879.4M1412.5 882.4V1000.2M1412.8 637.1h0M1413 658.1h0M1414 658.4h0M1413.9 670.4h0M1414 676.9h0M1413.7 682h0M1413.1 681.8h0M1413.3 681.1h0M1413.4 694.1h0M1413.5 696.2h0M1413.7 699.1h0M1414.2 703.8h0M1413.1 706.8h0M1413.1 707.1h0M1413.4 707.5h0M1414.1 714.2h0M1413 716.2h0M1413.3 716.4h0M1413.2 716.5h0M1412.9 730.8h0M1414.1 733.8h0M1414.1 735.5h0M1413.2 736.9h0M1413 742.2h0M1413.8 742.5h0M1413.1 747h0M1414.1 749.5h0M1412.9 757.1h0M1413.4 759h0M1414 759.4h0M1413.3 768.2h0M1413.2 766.8h0M1414.1 771.4h0M1413.4 770.9h0M1413.5 770.2h0M1413.1 776.4h0M1414 777.2h0M1413.8 780.7h0M1413.6 781.1h0M1413.9 784.7h0M1412.6 1006.9h0M1417 784.6V794.3M1417.6 803.5V998.2M1416.2 649.7h0M1416.6 666.8h0M1416.1 666.9h0M1416.1 665h0M1415.9 669.4h0M1416.4 668.8h0M1416.7 669.8h0M1416 670.5h0M1416.7 695h0M1416.9 707.4h0M1416.5 710.2h0M1417.2 710.9h0M1415.9 714.2h0M1417 720.2h0M1416.4 719h0M1415.9 719.1h0M1416 741.9h0M1416.9 742h0M1417 740.9h0M1416.1 744.6h0M1416.5 744.4h0M1416.1 745.9h0M1416.9 752.8h0M1416.5 752.3h0M1416.2 752.8h0M1415.9 755.7h0M1416.3 763.6h0M1416.2 768.9h0M1416.7 768.6h0M1415.9 766.5h0M1416.9 768.5h0M1416.1 774.9h0M1417.1 773.4h0M1416.7 773.7h0M1415.9 777.2h0M1417 775.8h0M1416 784.9h0M1416.6 786.3h0M1416.1 784.3h0M1419.7 781.2V799.9M1419.6 802.9V900.5M1419.9 911.5V997M1419.4 630.4h0M1419 640.7h0M1419.8 656.4h0M1418.9 663.1h0M1418.9 663.1h0M1419.3 679.2h0M1419.9 684h0M1419.6 688.2h0M1419.9 688.8h0M1419.4 693h0M1419.4 697.1h0M1419 695.1h0M1419.1 695.9h0M1419.8 699.8h0M1419.5 714.2h0M1419.7 718.3h0M1419.1 725.4h0M1419.1 729.3h0M1419.3 735h0M1419.2 735.5h0M1419.4 742.4h0M1419.7 743.3h0M1419.6 746.1h0M1419.5 750h0M1419.1 755h0M1419.2 756.2h0M1419.5 755.6h0M1419.3 758.2h0M1419 761.5h0M1420 765.5h0M1419.4 768.5h0M1419.9 769.8h0M1419.6 774.1h0M1420.2 778h0M1419.7 776.3h0M1420 781.4h0M1419.7 778.7h0M1419.9 780.4h0M1420.1 780.4h0M1420.3 1003.4h0M1422.3 780.2V869.7M1422 872.7V887.5M1422.8 899.4V996.1M1422.3 638h0M1422.8 635.3h0M1421.9 648.1h0M1421.9 679.6h0M1422.1 686.4h0M1423.2 687.5h0M1422.8 689.7h0M1422.4 693.7h0M1421.9 696h0M1422.4 696.6h0M1422 699.2h0M1421.9 706.5h0M1422.3 705h0M1422.5 710.3h0M1422.9 712.1h0M1421.9 714h0M1421.8 716.6h0M1423 725h0M1422.9 726.6h0M1422.6 726.2h0M1423.1 735.6h0M1422.5 743.1h0M1422.9 745.3h0M1422.1 744.1h0M1422.3 747.7h0M1423 747.3h0M1423 751.5h0M1422.7 750h0M1422.2 752.2h0M1422.7 753.7h0M1422.5 754.7h0M1422.6 757.2h0M1422.6 757.4h0M1422.6 757.1h0M1423.1 761h0M1423 760.9h0M1423 762.3h0M1422.6 761.2h0M1422.1 773.1h0M1422.3 775.6h0M1422.9 776.7h0M1423 777.2h0M1421.9 776.5h0M1422.3 779.4h0M1422.3 779.8h0M1426.3 776.2V893.5M1425.4 903.6V931M1426.4 940.8V991.8M1425.4 635.7h0M1425.6 636.2h0M1426 652.5h0M1425.8 652.7h0M1426 655h0M1425.9 657.4h0M1425.4 666.5h0M1425.6 666.1h0M1425.1 668.8h0M1425.3 673.7h0M1425.9 676.5h0M1425.6 681.7h0M1425.2 684.1h0M1425.1 686.9h0M1425.5 690.7h0M1424.9 693.2h0M1425.6 697.7h0M1425.3 701.9h0M1425.7 726.7h0M1425.5 734.6h0M1425.3 735.7h0M1424.8 735.4h0M1426 740.4h0M1426.1 741.2h0M1426.2 750.8h0M1426 756.8h0M1425.1 760.6h0M1426.1 759.2h0M1425.8 760.4h0M1425.2 763.1h0M1424.9 766h0M1425.2 765.8h0M1426.2 765.6h0M1426.2 768.1h0M1424.9 773.9h0M1425.5 778.4h0M1425.3 620.6h0M1426.7 994.4h0M1424.8 997h0M1428.4 776.5V814.8M1428.3 825.9V991.3M1428.9 674.4h0M1428.4 681.5h0M1428.9 698.4h0M1428.5 701.4h0M1428.8 706h0M1428 719.4h0M1427.9 722.6h0M1428.1 724.7h0M1428.6 729h0M1428.3 727.9h0M1428.1 745.3h0M1428.5 752.7h0M1429 752.8h0M1428.1 758.1h0M1429.1 757.4h0M1428.2 758.6h0M1428 764h0M1428.7 766.8h0M1428.6 767.4h0M1428.2 765.4h0M1428.7 766.7h0M1428.6 770.8h0M1428.8 773.2h0M1428 773.7h0M1427.8 775.8h0M1427.9 618.2h0M1429.2 1004.2h0M1428 1002.8h0M1432 773.4V879.6M1431.1 888.8V987.9M1431.1 642.2h0M1430.9 664.1h0M1430.8 678.5h0M1432 676.1h0M1431 676.7h0M1431 695.8h0M1430.9 699.9h0M1432 713.2h0M1431.2 720.9h0M1431.5 722.7h0M1431.2 727.5h0M1431.3 729.1h0M1431.7 727h0M1432 730.7h0M1430.8 730.8h0M1431.5 736.1h0M1431.2 737.9h0M1430.9 736.2h0M1431.7 740.2h0M1432.1 739h0M1431.8 745.2h0M1432 745.4h0M1431.7 750.3h0M1431.8 748.6h0M1431.8 756.1h0M1431.8 757.1h0M1431.8 757.7h0M1431.2 760.8h0M1431.7 765.7h0M1431.4 769.4h0M1430.6 615.7h0M1433.8 769V934.4M1434.1 937.4V984.4M1434.9 657.8h0M1435 706.6h0M1435.1 718h0M1433.8 721h0M1435.2 743.3h0M1434 747.8h0M1434.8 748.9h0M1435.1 758.1h0M1433.9 761.1h0M1434.3 765.2h0M1433.9 768.2h0M1434.1 613.2h0M1433.8 996.3h0M1438.2 768.3V980.7M1437 622.1h0M1437.4 667.7h0M1437.5 700.8h0M1437.7 707.6h0M1437.2 715.5h0M1437.9 717.3h0M1437.4 719h0M1437.2 723.7h0M1437.5 724.7h0M1437.7 743h0M1437.7 743h0M1437 748.1h0M1437.5 746.2h0M1437.3 749.6h0M1437.1 753.5h0M1436.9 759.9h0M1437.4 759.1h0M1437 765h0M1437.3 769.7h0M1436.5 986.8h0M1437.7 991.8h0M1436.7 1006.6h0M1439.8 756.9V883.4M1439.6 886.4V982.5M1440 625.8h0M1440.3 642.4h0M1440.5 647.8h0M1440.6 655.7h0M1441.1 670.4h0M1440.6 672.8h0M1440.9 684.1h0M1440 685.9h0M1440.6 685.2h0M1440.1 684.9h0M1440.6 685.8h0M1440.2 686.5h0M1440.7 687.9h0M1440.3 689.1h0M1440.8 695.4h0M1440.4 696.4h0M1440.4 703.6h0M1440.2 708.2h0M1440.5 714.5h0M1440.8 714.8h0M1441 721.7h0M1441.1 722.8h0M1440.4 728.1h0M1440.1 727.5h0M1440.2 725.7h0M1440.3 728.9h0M1440 729.5h0M1440.1 735.9h0M1441 738.7h0M1440.1 737.5h0M1440.1 742.9h0M1440.6 746.3h0M1440.8 747.4h0M1440.3 750h0M1440.1 754.3h0M1441.1 754h0M1440.1 759.3h0M1440.8 760.8h0M1439.8 982h0M1441.7 985.7h0M1443.7 725.6V851.4M1444.1 854.4V964.6M1443.7 967.6V980.5M1443.1 606.7h0M1442.9 625.1h0M1443.6 629.6h0M1443 632.8h0M1443.3 635.6h0M1443.8 636.4h0M1443 644.7h0M1444 648.5h0M1443.6 648.4h0M1444.2 656.1h0M1443.2 654h0M1443.1 657.9h0M1443.7 665.7h0M1442.9 680.8h0M1443.8 686.6h0M1443.9 683.8h0M1443 689.6h0M1443.2 690.1h0M1443.4 701h0M1443.7 700.8h0M1443.9 706.5h0M1443.1 716.3h0M1443.9 605.8h0M1444.1 995.1h0M1442.3 995.5h0M1443.2 998.4h0M1442.2 1001.4h0M1446.6 638.6V714.4M1447 717.4V721.6M1447 724.6V772.9M1447.1 775.9V807.1M1447.3 810.1V839.2M1446.9 851V931M1446.3 615.9h0M1446.2 624.8h0M1446.4 634.9h0M1446.7 636.3h0M1447.4 957.6h0M1446.9 965h0M1447.6 966.7h0M1447.4 985.8h0M1445.5 996.7h0M1448 1015.2h0M1449.1 619.9V927.5M1450.2 616.7h0M1449.4 609.9h0M1452.4 616.2V700.7M1452.5 703.7V930.5M1452 614.2h0M1451.9 618.4h0M1453.2 617.7h0M1452 618.2h0M1453 609.7h0M1455.9 615.5V931.9M1455.9 615.8h0M1454.8 609.5h0M1458.3 618.4V931.5M1458.6 611.5h0M1458.4 614h0M1461.9 618.9V771.7M1461.9 774.7V930M1461 615.6h0M397.9 928.6h0M397.3 925.9h0M398.4 919.6h0M396.9 897.8h0M398.3 910.7h0M398.5 917h0M398.2 915.5h0M397.4 916.2h0M398.4 929.6h0M416 908.9h0M415.8 905h0M416.5 903.2h0M415.5 927.9h0M415.7 916h0M416.4 920.2h0M415.9 926h0M439.1 902.9h0M439.2 923.2h0M440.6 899.5h0M439.6 912.1h0M438.8 947.8h0M440 903.7h0M440.6 925.9h0M440.5 923.8h0M438.4 914h0M440.6 910.1h0M440.2 934.7h0M439.6 947.9h0M439.3 911.3h0M439.8 899.3h0M455.3 947.5h0M455.4 951.3h0M455.8 950.5h0M477.5 985.9h0M477 981.2h0M476.1 977h0M475.8 977.2h0M475.9 972.7h0M484.2 982.8h0M484.8 994.2h0M484.2 992.1h0M484.5 982.9h0M484.3 982.4h0M364.8 872.8h0M365.3 890.3h0M365.3 888.4h0M366.3 872.1h0M366.5 890.4h0M365.7 887h0M372.7 917.5h0M374.2 914.5h0M372.8 908h0M373.1 914.9h0M392.9 927.3h0M393.1 922h0M392.4 920.9h0M392 928h0M412.9 928.1h0M413.3 929.3h0M413.2 925.3h0M410.5 920.4h0M1128.4 897.4h0M1128.4 935.4h0M1126.7 956.5h0M1127.2 894h0M1126.6 908.2h0M1125.9 959.9h0M1128.3 957.5h0M1128.7 924.5h0M1127.1 919.3h0M1125.9 916.8h0M1126.4 889.3h0M1128.5 938.9h0M1128 907.5h0M1128.4 915.8h0M1126.1 908.4h0M1126.4 932.4h0M1128.8 907.9h0M1128.7 938.4h0M1126.5 921.7h0M1128.7 948.8h0M1126.3 946.2h0M1128.6 880.3h0M1126.3 934.1h0M1127.3 893.8h0M1209.7 922.5h0M1211.3 939.4h0M1209.7 920.3h0M1209.7 889.6h0M1209.2 924.7h0M1211 943.4h0M1210.7 941h0M1211.2 933.5h0M1210.8 910.6h0M1211.3 903.5h0M1210 936.1h0M1209.2 946.2h0M1210.6 897.1h0M1211.8 891.6h0M1210.6 954h0M1209.2 910.3h0M1210.1 933.1h0M1210.1 901.3h0M1209.4 934.8h0M1211.3 913.5h0M1210.7 943.4h0M1212 920.3h0M1211.1 929.4h0M1211.4 870.1h0M1210.2 946.1h0M1209.2 927.3h0M748.8 823.9h0M747.4 880.7h0M748.8 934.8h0M746.2 825.7h0M745.7 909.1h0M746.5 916h0M746.6 920.7h0M746.3 852.7h0M745.5 922.9h0M748.5 880.9h0M748 889.6h0M748 860.5h0M746.1 864.4h0M748.4 886.2h0M749.4 930h0M748.3 881.5h0M749.4 853.2h0M745.7 849h0M746.8 838.8h0M746.6 844.6h0M749.5 885h0M748.7 876.2h0M748.2 861.4h0M745.8 878.9h0M747.1 925h0M748.4 918.1h0M747.1 872.9h0M747.3 850.8h0M748.8 838.1h0M747.5 934.4h0M745.7 818.7h0M749.4 893.7h0M749.4 896.8h0M746.1 910.7h0M772.9 927.5h0M772.6 808.6h0" fill="none" stroke="#1f77b4" stroke-width="6.1" stroke-linecap="round"/>
<path d="M774.4 937h0M773.6 978.2h0M773.9 884.4h0M774.1 959.8h0M772.6 943.8h0M773.1 891.1h0M774.3 885.8h0M773.6 801.4h0M773.3 955.6h0M774.5 854.7h0M772.7 937.7h0M774 914h0M364.6 864.7h0M364.8 866.7h0M367 879.2h0M365.7 887.7h0M365.4 889.1h0M365.1 877.2h0M1049.9 902h0M1050.5 918.7h0M1050.9 943.2h0M1050.8 938.4h0M1050.3 924.7h0M1050.7 927.5h0M1050.2 939.7h0M1050.7 921.1h0M1051.1 905.4h0M1071.7 918.1h0M1071.2 889.5h0M1072.7 942h0M1071.5 904.9h0M1071.8 880.2h0M1071.5 925.8h0M1072.1 884.6h0M1073 931h0M1072.6 892.7h0M1071.7 919.4h0M1062.3 919.4h0M1062.1 928.8h0M1063.4 943.8h0M1063.9 942.1h0M1062.4 924.9h0M1062.9 916h0M1151.7 915.7h0M1151.8 936.9h0M1151.2 936.9h0M1150.6 921.5h0M1150.4 955.2h0M1150.5 952.6h0M1151.4 918.7h0M1183 950h0M1181.7 958.2h0M1181.6 926.8h0M1181 957.7h0M1182.5 926h0M1182 956.3h0M1164 944.9h0M1163.9 931.6h0M1164.9 961.5h0M1163.8 961.4h0M1163.6 938.2h0M1163.9 942.9h0M1260.1 911h0M1258 923.7h0M1258.2 889.9h0M1258.4 935h0M1258.9 915h0M1259.2 862.3h0M1259.3 890.3h0M1257.8 874.5h0M1258.5 926.6h0M1258.8 949.3h0M1260.1 911.5h0M1259.6 908.1h0M1293.8 934.1h0M1296.3 915.5h0M1295.4 873.2h0M1296 892.3h0M1295.6 924.5h0M1296.3 922.9h0M1294.1 901.4h0M1293.7 859h0M1296.2 898.2h0M1296.3 912.2h0M1293.9 881.8h0M1295.4 882.1h0M1238.9 951.4h0M1237.1 913.9h0M1237 918.6h0M1238.9 932.3h0M1237.4 943.9h0M1238.4 915h0M1238.8 923.4h0M1278.8 933.1h0M1277.5 889.5h0M1278.6 938.5h0M1277.3 941.6h0M1278.2 889h0M1277.1 933.1h0M1277.6 917.4h0M1277.2 937.1h0M1101.7 942.9h0M1100.2 953.2h0M1101 947.8h0M1101.4 953.9h0M1100.2 938.6h0M1142 945.3h0M1141.3 958.8h0M1140.2 956.3h0M1141.2 936.7h0M1140.1 938.9h0" fill="none" stroke="#1f77b4" stroke-width="6.1" stroke-linecap="round"/>
<path d="M116.5 700L118 673.1L119.4 627L126.6 825L131.7 679.2L134.1 710.6L135.8 709L137.8 785.7L139.9 700.4L141.9 724.3L144 693.6L146 758.4L148.1 691.9L150.1 915.4L152.2 790.9L153.5 867.6L155.6 763.5L157.6 942.7L159.7 681.6L163.1 942.7L166 800L168 900L171.3 627L176.2 938L180.8 736.9L184.2 994.5L186.8 692.5L188.6 827.9L191.1 738.6L194.9 898.4L198.5 800L200.2 885.1L203 850L205.8 939.2L208.7 715.5L213.3 985.5L217.5 684L219.2 741.3L221.5 634.5L224.2 881.4L227.8 634.5L232.5 959.6L238 609.7L241.3 922.5L245.7 675.4L247.3 710.5L249.4 658.4L252.5 981.2L255.6 607.2L259.2 977.4L262.4 650.7L264.2 681.6L265.8 650.7L272 938.4L277.3 715.5L281 921.5L284.6 631.9L286.4 720.5L288.7 670.3L291.9 897.3L294.3 719.8L298 923.6L300.5 800L303.9 947.8L307.1 690.8L308.7 807.6L311.1 738.6L313.7 930.6L317 830L319.6 861.3L321 800L324.5 904.7L327.6 748.8L330 871.8L332 790L334.9 895.1L337 707.9L339.2 791.6L341.3 698.5L345.2 896.7L349.8 774.4L352.6 790L354.5 860L356.2 894.1L357.9 931.7L359.1 963.2L361.3 949.6L362.7 952.2L364.7 947L367 987.1L369 977.7L372.1 969.2L374.1 976.9L376.7 977.7L380.4 987.1L382.7 980.3L384.7 977.7L388.1 967.5L390.9 976L392.9 975.2L394.3 977.7L396.3 965.8L398.9 981.2L401.4 979.5L403.5 977.7L405.7 985.4L407.1 974.3L409.1 993.1L411.7 974.3L414.6 990.5L416.8 972.6L419.4 988L423.6 996.5L425.8 982L429.2 1005.1L432.2 988L436.4 995.7L439 976L442.4 991.4L445.5 982.9L447.8 989.7L449.2 987.1L451.8 1001.6L454.7 984.6L457.7 999.9L459.5 1001.6L462 1006.8L464.2 1002.5L467.1 1009.3L469.7 1010.2L472.8 1014.4L475.7 1009.3L479.1 1015.3L481.6 1016.1L484.2 1013.6L486.8 1018.7L489.3 1020.4L491.9 1017L494.4 1020.4L497 1017.8L500.4 1017L504.7 1023.8L508.9 1024.7L513.2 1024.2L519.2 1025.5L527.7 1026.4L534.5 1025.2L538 1024.7L540.9 1020.4L543.9 1024.7L549.9 1027.2L555 1025.5L558.4 1023.8L561.8 1025.2L567 1023L572.1 1020.4L576.3 1021.3L580.6 1023L583.4 1021.3L585.7 1018.7L588.5 1020.4L591.1 1019L594.5 1021.3L597.1 1019L602.2 1023.5L607.3 1022.6L611.6 1021.8L614.1 1023.5L617.9 1019.6L621 1023.8L626.1 1024.7L631.2 1023L634.6 1023L638.9 1025.2L643.1 1024.2L647.4 1022.1L651.7 1024.7L656.8 1025.5L661.9 1028.1L667 1028.1L671.3 1030.1L674.7 1028.9L682.4 1029.8L690.9 1031L701.2 1031.7L711.4 1031.2L718.2 1031.2L723.3 1028.9L728.5 1023.8L731.9 1013.6L734.4 1002.5L737 999.1L739.6 999.9L742.1 986.3L744.2 980.3L745.9 964.1L748.1 949.6L750.3 960.7L752.4 979.5L754.4 1005.9L756.1 1008.5L757.8 1005.9L760 1008.5L762.6 1014.4L764.3 1010.2L766.3 1013.6L768.6 1005.1L770.3 1003.3L771.5 1005.1L773.7 979.5L774.9 972.6L775.9 911.2L776.8 860L778.6 704.5L780.3 606.3L783.8 713L784.9 622.5L787.2 673.7L789.7 636.2L791.4 666.9L793.7 634.5L795.7 653.3L797.4 663.5L799.1 673.7L800.8 740.3L803.4 701.9L805.9 776.1L808.8 691.7L811.6 812L814.5 677.2L816 733.5L817.5 654.1L820.4 823.9L824.2 638.8L826.4 841L828.1 694.2L830.7 832.4L836.4 987.9L839.5 930.6L842.1 990L844.6 973.6L847.6 971.5L849.7 963.4L851.7 991L854.8 913.2L857.5 983.8L859.3 955.2L862 959.3L864 969.5L866.7 992L868.7 953.1L870.2 975.6L872.2 951.1L873.7 963.4L875.7 906L877.8 930.6L880.4 897.8L881.4 918.3L883.5 877.3L885.9 973.6L888.6 805.7L890.7 971.5L892.7 799.5L895.4 850.7L897.8 885.5L899.9 768.8L901.9 906L904.4 865.1L907 807.7L910.1 861L913.2 895.8L916.3 826.1L918.3 877.3L920.3 832.3L922.4 779L924.9 906L926.5 826.1L928.5 910.1L931 846.6L933.7 897.8L935.7 861L938.8 906L940.8 889.6L942.9 928.5L945.3 951.1L947.4 926.5L949.4 961.3L954.1 832.3L956.8 971.5L959.3 947L961.3 940.8L965 865.1L968.5 985.9L971.5 914.2L974.2 994.1L976.7 913.2L979.7 983.8L981.8 934.7L983.4 1002.3L985.9 971.5L986.9 994.1L989 934.7L991 990L993 863L994.5 938.8L996.5 851.7L998.6 969.5L999.8 895.8L1002.3 975.6L1004.3 990L1007.4 963.4L1009.4 972.6L1011.5 971.5L1014.1 991L1017.6 848.7L1020.3 918.3L1022.7 963.4L1024.8 826.1L1026.8 951.1L1029.3 883.5L1032.2 746.3L1034.6 861L1036.1 893.7L1038.1 844.6L1040.2 951.1L1041.6 983.8L1043.8 957.2L1046.3 981.8L1049 996.1L1051 961.3L1053.5 983.8L1057.6 996.1L1060 998.2L1062.6 989.7L1066 971.8L1068.2 994.8L1070.6 995.7L1072.8 961.5L1075 982.9L1076.2 982L1078.8 996.5L1082.5 972.6L1085.3 988L1086.8 981.2L1089.9 1006.8L1091.6 1000.8L1093.6 1011.9L1095.8 1004.2L1097.9 1010.2L1100.6 996.5L1102.3 1003.3L1105.2 977.7L1107.8 1006.8L1110 1000.8L1112 1001.6L1113.8 1009.3L1115.5 996.5L1118 1006.8L1120.6 999.9L1122.3 1003.3L1124 992.3L1125.4 996.5L1127.1 937.6L1128.8 1015.3L1130.8 1010.2L1132.5 1013.6L1135.1 1005.9L1136.8 1008.5L1139.4 996.5L1141.1 999.9L1142.8 988.8L1145.3 1018.7L1147.9 993.1L1149.6 1005.1L1153.9 988.8L1157.3 1010.2L1159 1001.6L1162.4 992.3L1164.9 990.5L1167.5 1008.5L1170.9 997.4L1172.6 1010.2L1174.7 994L1176.9 1004.2L1179.5 993.1L1182 1005.1L1185.4 1013.6L1187.6 1005.9L1189.7 985.4L1192.3 1009.3L1194.8 995.7L1196.5 1013.6L1199.1 998.2L1201.3 994.8L1203.3 1005.9L1206.8 987.1L1209 1018.7L1211.4 946.2L1213.1 985.4L1215.3 990.5L1217.3 995.7L1219.6 988L1221.8 1003.3L1223.5 1005.1L1225.2 991.4L1227.6 1006.8L1229.8 994L1231.5 1005.1L1233.7 993.1L1235.8 1001.6L1237.5 996.5L1238.7 1006.8L1240.9 988L1242.6 999.1L1245.2 987.1L1248.2 971.8L1250.3 994.8L1252.8 995.7L1255.4 971.8L1257.4 994.8L1259.1 964.1L1261.4 1002.5L1263.4 990.5L1264.4 1000.8L1266.5 962.4L1269 991.4L1271.6 987.1L1273.3 991.4L1275.4 982L1277.6 996.5L1281 970.9L1282.7 979.5L1285.3 966.7L1287.8 979.5L1290.7 988.8L1293.8 957.3L1295.5 962.4L1297.5 953.9L1299.8 959L1302.3 967.5L1303.7 962.4L1305.7 972.6L1308.3 937.6L1310 959L1311.8 931L1313.8 964.3L1315 960.9L1318.1 974.5L1321.5 908L1324.9 950.6L1327.5 976.2L1329.7 948.9L1330.9 947.2L1333.1 907.1L1336 947.2L1338.2 928.5L1339.9 939.6L1342 866.2L1344 904.6L1345.4 879.8L1347.9 948.1L1350.5 929.3L1352.5 948.9L1354.8 880.7L1357.3 861.9L1360.4 947.2L1363.3 911.4L1365.5 925.1L1367.9 853.4L1369.6 882.4L1371.8 836.3L1374 809L1376.4 875.6L1379.2 833.8L1381.6 901.2L1383.8 863.6L1385.5 880.7L1388 853.4L1390.6 841.4L1392.6 867.9L1394.9 821L1397.9 868.7L1401.4 810.7L1403.4 890.9L1405.1 828.6L1407.7 925.1L1409.4 883.2L1411.4 907.1L1412.8 890.1L1415.3 932.7L1418.8 889.2L1421.8 861.1L1424.4 860.2L1426.9 815.8L1429 873.9L1431 831.2L1432.8 870.4L1435 843.1L1437 815.8L1439.2 856.8L1441.5 798.8L1443.5 851.7L1445.4 797.1L1446.4 740.6L1449.5 621.9L1453 783.6L1455 769.3L1457.7 658.7L1460.8 800L1462.4 802.1" fill="none" stroke="#ff7f0e" stroke-width="2.3" stroke-linejoin="round" stroke-linecap="butt"/></g>
<path d="M116.5 528.5v5.3M284.5 528.5v5.3M452.5 528.5v5.3M621.5 528.5v5.3M789.5 528.5v5.3M957.5 528.5v5.3M1125.5 528.5v5.3M1294.5 528.5v5.3M116.5 1054.5v5.3M284.5 1054.5v5.3M452.5 1054.5v5.3M621.5 1054.5v5.3M789.5 1054.5v5.3M957.5 1054.5v5.3M1125.5 1054.5v5.3M1294.5 1054.5v5.3M116.5 124.5h-5.3M116.5 206.5h-5.3M116.5 288.5h-5.3M116.5 370.5h-5.3M116.5 452.5h-5.3M116.5 1035.5h-5.3M116.5 934.5h-5.3M116.5 832.5h-5.3M116.5 731.5h-5.3M116.5 630.5h-5.3" stroke="#000" stroke-width="1.2" fill="none"/>
<rect x="116.5" y="59.5" width="1346.0" height="469" fill="none" stroke="#000" stroke-width="1.2"/>
<rect x="116.5" y="585.5" width="1346.0" height="469" fill="none" stroke="#000" stroke-width="1.2"/>
<g font-size="22" text-anchor="end">
<text x="105" y="131.9">2</text>
<text x="105" y="213.9">0</text>
<text x="105" y="295.9">−2</text>
<text x="105" y="377.9">−4</text>
<text x="105" y="459.9">−6</text>
<text x="105" y="1042.9">0.0</text>
<text x="105" y="941.9">0.1</text>
<text x="105" y="839.9">0.2</text>
<text x="105" y="738.9">0.3</text>
<text x="105" y="637.9">0.4</text>
</g>
<g font-size="22" text-anchor="end">
<text transform="translate(112.9,1078.8) rotate(-30)">07-28 00</text>
<text transform="translate(281.1,1078.8) rotate(-30)">07-28 03</text>
<text transform="translate(449.4,1078.8) rotate(-30)">07-28 06</text>
<text transform="translate(617.6,1078.8) rotate(-30)">07-28 09</text>
<text transform="translate(785.9,1078.8) rotate(-30)">07-28 12</text>
<text transform="translate(954.1,1078.8) rotate(-30)">07-28 15</text>
<text transform="translate(1122.4,1078.8) rotate(-30)">07-28 18</text>
<text transform="translate(1290.7,1078.8) rotate(-30)">07-28 21</text>
</g>
<g font-size="22" text-anchor="middle">
<text x="788.5" y="1158">UTC</text>
<text transform="translate(61,294) rotate(-90)">Doppler Shift [Hz]</text>
<text transform="translate(56,820) rotate(-90)">Peak Voltage [V]</text>
</g>
<g font-size="26.4">
<text x="784.2" y="30" text-anchor="middle" font-size="26.7">5.0 MHz N0000001</text>
<text x="116.5" y="31.2">(a)</text>
<text x="116.5" y="577">(b)</text>
</g>
<text x="116.5" y="53.6" font-size="22">+5e6</text>
<rect x="1047.3" y="68.8" width="406.6" height="80.1" rx="3.6" fill="#fff" fill-opacity="0.8" stroke="#ccc" stroke-width="1.2"/>
<circle cx="1073.5" cy="83.5" r="3.05" fill="#1f77b4"/>
<path d="M1054 121.5h38" stroke="#ff7f0e" stroke-width="2.3"/>
<g font-size="18.5"><text x="1106" y="89">Raw Data</text><text x="1106" y="116">Butterworth Filtered Data</text><text x="1106" y="136.8">(N=6, Tc=3.3333 min, Type: low)</text></g>
<rect x="1047.3" y="594.8" width="406.6" height="80.1" rx="3.6" fill="#fff" fill-opacity="0.8" stroke="#ccc" stroke-width="1.2"/>
<circle cx="1073.5" cy="610.5" r="3.05" fill="#1f77b4"/>
<path d="M1054 648.5h38" stroke="#ff7f0e" stroke-width="2.3"/>
<g font-size="18.5"><text x="1106" y="616">Raw Data</text><text x="1106" y="643">Butterworth Filtered Data</text><text x="1106" y="663.8">(N=6, Tc=3.3333 min, Type: low)</text></g>
</svg>
</body></html>
